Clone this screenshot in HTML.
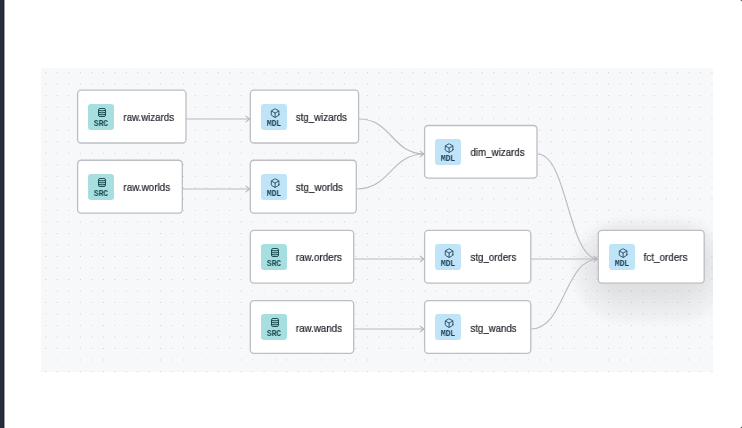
<!DOCTYPE html>
<html><head><meta charset="utf-8">
<style>
html,body{margin:0;padding:0;}
body{width:742px;height:428px;background:#fff;position:relative;overflow:hidden;font-family:"Liberation Sans",sans-serif;}
#bar{position:absolute;left:0;top:0;width:2px;height:428px;background:#262c3b;}
#bar1{position:absolute;left:2px;top:0;width:1px;height:428px;background:#2b303d;}
#bar2{position:absolute;left:3px;top:0;width:1px;height:428px;background:#1c2130;}
#bar3{position:absolute;left:4px;top:0;width:1px;height:428px;background:#9ea1ab;}
#pane{position:absolute;left:41px;top:68px;width:672px;height:304px;background-color:#f7f8fa;
overflow:hidden;}
#shadow{position:absolute;left:557px;top:162px;width:106px;height:53px;border-radius:26px;box-shadow:0 14px 8px 24px rgba(0,0,0,0.04),0 10px 18px 8px rgba(0,0,0,0.06);}
.b{position:absolute;}
.badge{position:absolute;width:26px;height:26px;border-radius:3px;}
.src{background:#a7dfe0;color:#1b4a50;}
.mdl{background:#bfe4f8;color:#1c3d55;}
.ic{position:absolute;}
.badge .t{position:absolute;left:0;width:26px;top:15.3px;text-align:center;font-family:"Liberation Mono",monospace;font-weight:bold;font-size:9.4px;line-height:9px;transform:scaleX(0.84);will-change:transform;}
.lbl{position:absolute;font-size:11px;line-height:13px;color:#20242b;white-space:nowrap;transform-origin:0 50%;transform:scaleX(0.862);will-change:transform;-webkit-text-stroke:0.2px #20242b;}
svg#edges{position:absolute;left:0;top:0;}
</style></head><body>
<div id="bar"></div><div style="position:absolute;left:741px;top:0;width:1px;height:1px;background:#5a5c60"></div><div style="position:absolute;left:741px;top:427px;width:1px;height:1px;background:#5a5c60"></div><div style="position:absolute;left:740px;top:0;width:1px;height:1px;background:#d8d9da"></div><div style="position:absolute;left:741px;top:1px;width:1px;height:1px;background:#d8d9da"></div><div style="position:absolute;left:740px;top:427px;width:1px;height:1px;background:#d8d9da"></div><div style="position:absolute;left:741px;top:426px;width:1px;height:1px;background:#d8d9da"></div><div id="bar1"></div><div id="bar2"></div><div id="bar3"></div>
<div id="pane"><svg id="dots" width="672" height="304" viewBox="41 68 672 304" style="position:absolute;left:0;top:0"><path fill="#fff" fill-opacity="0.8" d="M44.34 72.78a1.5 1.5 0 1 0 3 0a1.5 1.5 0 1 0-3 0M44.34 84.27a1.5 1.5 0 1 0 3 0a1.5 1.5 0 1 0-3 0M44.34 95.75a1.5 1.5 0 1 0 3 0a1.5 1.5 0 1 0-3 0M44.34 107.23a1.5 1.5 0 1 0 3 0a1.5 1.5 0 1 0-3 0M44.34 118.72a1.5 1.5 0 1 0 3 0a1.5 1.5 0 1 0-3 0M44.34 130.20a1.5 1.5 0 1 0 3 0a1.5 1.5 0 1 0-3 0M44.34 141.69a1.5 1.5 0 1 0 3 0a1.5 1.5 0 1 0-3 0M44.34 153.18a1.5 1.5 0 1 0 3 0a1.5 1.5 0 1 0-3 0M44.34 164.66a1.5 1.5 0 1 0 3 0a1.5 1.5 0 1 0-3 0M44.34 176.14a1.5 1.5 0 1 0 3 0a1.5 1.5 0 1 0-3 0M44.34 187.63a1.5 1.5 0 1 0 3 0a1.5 1.5 0 1 0-3 0M44.34 199.12a1.5 1.5 0 1 0 3 0a1.5 1.5 0 1 0-3 0M44.34 210.60a1.5 1.5 0 1 0 3 0a1.5 1.5 0 1 0-3 0M44.34 222.09a1.5 1.5 0 1 0 3 0a1.5 1.5 0 1 0-3 0M44.34 233.57a1.5 1.5 0 1 0 3 0a1.5 1.5 0 1 0-3 0M44.34 245.05a1.5 1.5 0 1 0 3 0a1.5 1.5 0 1 0-3 0M44.34 256.54a1.5 1.5 0 1 0 3 0a1.5 1.5 0 1 0-3 0M44.34 268.02a1.5 1.5 0 1 0 3 0a1.5 1.5 0 1 0-3 0M44.34 279.51a1.5 1.5 0 1 0 3 0a1.5 1.5 0 1 0-3 0M44.34 291.00a1.5 1.5 0 1 0 3 0a1.5 1.5 0 1 0-3 0M44.34 302.48a1.5 1.5 0 1 0 3 0a1.5 1.5 0 1 0-3 0M44.34 313.97a1.5 1.5 0 1 0 3 0a1.5 1.5 0 1 0-3 0M44.34 325.45a1.5 1.5 0 1 0 3 0a1.5 1.5 0 1 0-3 0M44.34 336.93a1.5 1.5 0 1 0 3 0a1.5 1.5 0 1 0-3 0M44.34 348.42a1.5 1.5 0 1 0 3 0a1.5 1.5 0 1 0-3 0M44.34 359.90a1.5 1.5 0 1 0 3 0a1.5 1.5 0 1 0-3 0M44.34 371.39a1.5 1.5 0 1 0 3 0a1.5 1.5 0 1 0-3 0M55.83 72.78a1.5 1.5 0 1 0 3 0a1.5 1.5 0 1 0-3 0M55.83 84.27a1.5 1.5 0 1 0 3 0a1.5 1.5 0 1 0-3 0M55.83 95.75a1.5 1.5 0 1 0 3 0a1.5 1.5 0 1 0-3 0M55.83 107.23a1.5 1.5 0 1 0 3 0a1.5 1.5 0 1 0-3 0M55.83 118.72a1.5 1.5 0 1 0 3 0a1.5 1.5 0 1 0-3 0M55.83 130.20a1.5 1.5 0 1 0 3 0a1.5 1.5 0 1 0-3 0M55.83 141.69a1.5 1.5 0 1 0 3 0a1.5 1.5 0 1 0-3 0M55.83 153.18a1.5 1.5 0 1 0 3 0a1.5 1.5 0 1 0-3 0M55.83 164.66a1.5 1.5 0 1 0 3 0a1.5 1.5 0 1 0-3 0M55.83 176.14a1.5 1.5 0 1 0 3 0a1.5 1.5 0 1 0-3 0M55.83 187.63a1.5 1.5 0 1 0 3 0a1.5 1.5 0 1 0-3 0M55.83 199.12a1.5 1.5 0 1 0 3 0a1.5 1.5 0 1 0-3 0M55.83 210.60a1.5 1.5 0 1 0 3 0a1.5 1.5 0 1 0-3 0M55.83 222.09a1.5 1.5 0 1 0 3 0a1.5 1.5 0 1 0-3 0M55.83 233.57a1.5 1.5 0 1 0 3 0a1.5 1.5 0 1 0-3 0M55.83 245.05a1.5 1.5 0 1 0 3 0a1.5 1.5 0 1 0-3 0M55.83 256.54a1.5 1.5 0 1 0 3 0a1.5 1.5 0 1 0-3 0M55.83 268.02a1.5 1.5 0 1 0 3 0a1.5 1.5 0 1 0-3 0M55.83 279.51a1.5 1.5 0 1 0 3 0a1.5 1.5 0 1 0-3 0M55.83 291.00a1.5 1.5 0 1 0 3 0a1.5 1.5 0 1 0-3 0M55.83 302.48a1.5 1.5 0 1 0 3 0a1.5 1.5 0 1 0-3 0M55.83 313.97a1.5 1.5 0 1 0 3 0a1.5 1.5 0 1 0-3 0M55.83 325.45a1.5 1.5 0 1 0 3 0a1.5 1.5 0 1 0-3 0M55.83 336.93a1.5 1.5 0 1 0 3 0a1.5 1.5 0 1 0-3 0M55.83 348.42a1.5 1.5 0 1 0 3 0a1.5 1.5 0 1 0-3 0M55.83 359.90a1.5 1.5 0 1 0 3 0a1.5 1.5 0 1 0-3 0M55.83 371.39a1.5 1.5 0 1 0 3 0a1.5 1.5 0 1 0-3 0M67.31 72.78a1.5 1.5 0 1 0 3 0a1.5 1.5 0 1 0-3 0M67.31 84.27a1.5 1.5 0 1 0 3 0a1.5 1.5 0 1 0-3 0M67.31 95.75a1.5 1.5 0 1 0 3 0a1.5 1.5 0 1 0-3 0M67.31 107.23a1.5 1.5 0 1 0 3 0a1.5 1.5 0 1 0-3 0M67.31 118.72a1.5 1.5 0 1 0 3 0a1.5 1.5 0 1 0-3 0M67.31 130.20a1.5 1.5 0 1 0 3 0a1.5 1.5 0 1 0-3 0M67.31 141.69a1.5 1.5 0 1 0 3 0a1.5 1.5 0 1 0-3 0M67.31 153.18a1.5 1.5 0 1 0 3 0a1.5 1.5 0 1 0-3 0M67.31 164.66a1.5 1.5 0 1 0 3 0a1.5 1.5 0 1 0-3 0M67.31 176.14a1.5 1.5 0 1 0 3 0a1.5 1.5 0 1 0-3 0M67.31 187.63a1.5 1.5 0 1 0 3 0a1.5 1.5 0 1 0-3 0M67.31 199.12a1.5 1.5 0 1 0 3 0a1.5 1.5 0 1 0-3 0M67.31 210.60a1.5 1.5 0 1 0 3 0a1.5 1.5 0 1 0-3 0M67.31 222.09a1.5 1.5 0 1 0 3 0a1.5 1.5 0 1 0-3 0M67.31 233.57a1.5 1.5 0 1 0 3 0a1.5 1.5 0 1 0-3 0M67.31 245.05a1.5 1.5 0 1 0 3 0a1.5 1.5 0 1 0-3 0M67.31 256.54a1.5 1.5 0 1 0 3 0a1.5 1.5 0 1 0-3 0M67.31 268.02a1.5 1.5 0 1 0 3 0a1.5 1.5 0 1 0-3 0M67.31 279.51a1.5 1.5 0 1 0 3 0a1.5 1.5 0 1 0-3 0M67.31 291.00a1.5 1.5 0 1 0 3 0a1.5 1.5 0 1 0-3 0M67.31 302.48a1.5 1.5 0 1 0 3 0a1.5 1.5 0 1 0-3 0M67.31 313.97a1.5 1.5 0 1 0 3 0a1.5 1.5 0 1 0-3 0M67.31 325.45a1.5 1.5 0 1 0 3 0a1.5 1.5 0 1 0-3 0M67.31 336.93a1.5 1.5 0 1 0 3 0a1.5 1.5 0 1 0-3 0M67.31 348.42a1.5 1.5 0 1 0 3 0a1.5 1.5 0 1 0-3 0M67.31 359.90a1.5 1.5 0 1 0 3 0a1.5 1.5 0 1 0-3 0M67.31 371.39a1.5 1.5 0 1 0 3 0a1.5 1.5 0 1 0-3 0M78.80 72.78a1.5 1.5 0 1 0 3 0a1.5 1.5 0 1 0-3 0M78.80 84.27a1.5 1.5 0 1 0 3 0a1.5 1.5 0 1 0-3 0M78.80 95.75a1.5 1.5 0 1 0 3 0a1.5 1.5 0 1 0-3 0M78.80 107.23a1.5 1.5 0 1 0 3 0a1.5 1.5 0 1 0-3 0M78.80 118.72a1.5 1.5 0 1 0 3 0a1.5 1.5 0 1 0-3 0M78.80 130.20a1.5 1.5 0 1 0 3 0a1.5 1.5 0 1 0-3 0M78.80 141.69a1.5 1.5 0 1 0 3 0a1.5 1.5 0 1 0-3 0M78.80 153.18a1.5 1.5 0 1 0 3 0a1.5 1.5 0 1 0-3 0M78.80 164.66a1.5 1.5 0 1 0 3 0a1.5 1.5 0 1 0-3 0M78.80 176.14a1.5 1.5 0 1 0 3 0a1.5 1.5 0 1 0-3 0M78.80 187.63a1.5 1.5 0 1 0 3 0a1.5 1.5 0 1 0-3 0M78.80 199.12a1.5 1.5 0 1 0 3 0a1.5 1.5 0 1 0-3 0M78.80 210.60a1.5 1.5 0 1 0 3 0a1.5 1.5 0 1 0-3 0M78.80 222.09a1.5 1.5 0 1 0 3 0a1.5 1.5 0 1 0-3 0M78.80 233.57a1.5 1.5 0 1 0 3 0a1.5 1.5 0 1 0-3 0M78.80 245.05a1.5 1.5 0 1 0 3 0a1.5 1.5 0 1 0-3 0M78.80 256.54a1.5 1.5 0 1 0 3 0a1.5 1.5 0 1 0-3 0M78.80 268.02a1.5 1.5 0 1 0 3 0a1.5 1.5 0 1 0-3 0M78.80 279.51a1.5 1.5 0 1 0 3 0a1.5 1.5 0 1 0-3 0M78.80 291.00a1.5 1.5 0 1 0 3 0a1.5 1.5 0 1 0-3 0M78.80 302.48a1.5 1.5 0 1 0 3 0a1.5 1.5 0 1 0-3 0M78.80 313.97a1.5 1.5 0 1 0 3 0a1.5 1.5 0 1 0-3 0M78.80 325.45a1.5 1.5 0 1 0 3 0a1.5 1.5 0 1 0-3 0M78.80 336.93a1.5 1.5 0 1 0 3 0a1.5 1.5 0 1 0-3 0M78.80 348.42a1.5 1.5 0 1 0 3 0a1.5 1.5 0 1 0-3 0M78.80 359.90a1.5 1.5 0 1 0 3 0a1.5 1.5 0 1 0-3 0M78.80 371.39a1.5 1.5 0 1 0 3 0a1.5 1.5 0 1 0-3 0M90.28 72.78a1.5 1.5 0 1 0 3 0a1.5 1.5 0 1 0-3 0M90.28 84.27a1.5 1.5 0 1 0 3 0a1.5 1.5 0 1 0-3 0M90.28 95.75a1.5 1.5 0 1 0 3 0a1.5 1.5 0 1 0-3 0M90.28 107.23a1.5 1.5 0 1 0 3 0a1.5 1.5 0 1 0-3 0M90.28 118.72a1.5 1.5 0 1 0 3 0a1.5 1.5 0 1 0-3 0M90.28 130.20a1.5 1.5 0 1 0 3 0a1.5 1.5 0 1 0-3 0M90.28 141.69a1.5 1.5 0 1 0 3 0a1.5 1.5 0 1 0-3 0M90.28 153.18a1.5 1.5 0 1 0 3 0a1.5 1.5 0 1 0-3 0M90.28 164.66a1.5 1.5 0 1 0 3 0a1.5 1.5 0 1 0-3 0M90.28 176.14a1.5 1.5 0 1 0 3 0a1.5 1.5 0 1 0-3 0M90.28 187.63a1.5 1.5 0 1 0 3 0a1.5 1.5 0 1 0-3 0M90.28 199.12a1.5 1.5 0 1 0 3 0a1.5 1.5 0 1 0-3 0M90.28 210.60a1.5 1.5 0 1 0 3 0a1.5 1.5 0 1 0-3 0M90.28 222.09a1.5 1.5 0 1 0 3 0a1.5 1.5 0 1 0-3 0M90.28 233.57a1.5 1.5 0 1 0 3 0a1.5 1.5 0 1 0-3 0M90.28 245.05a1.5 1.5 0 1 0 3 0a1.5 1.5 0 1 0-3 0M90.28 256.54a1.5 1.5 0 1 0 3 0a1.5 1.5 0 1 0-3 0M90.28 268.02a1.5 1.5 0 1 0 3 0a1.5 1.5 0 1 0-3 0M90.28 279.51a1.5 1.5 0 1 0 3 0a1.5 1.5 0 1 0-3 0M90.28 291.00a1.5 1.5 0 1 0 3 0a1.5 1.5 0 1 0-3 0M90.28 302.48a1.5 1.5 0 1 0 3 0a1.5 1.5 0 1 0-3 0M90.28 313.97a1.5 1.5 0 1 0 3 0a1.5 1.5 0 1 0-3 0M90.28 325.45a1.5 1.5 0 1 0 3 0a1.5 1.5 0 1 0-3 0M90.28 336.93a1.5 1.5 0 1 0 3 0a1.5 1.5 0 1 0-3 0M90.28 348.42a1.5 1.5 0 1 0 3 0a1.5 1.5 0 1 0-3 0M90.28 359.90a1.5 1.5 0 1 0 3 0a1.5 1.5 0 1 0-3 0M90.28 371.39a1.5 1.5 0 1 0 3 0a1.5 1.5 0 1 0-3 0M101.77 72.78a1.5 1.5 0 1 0 3 0a1.5 1.5 0 1 0-3 0M101.77 84.27a1.5 1.5 0 1 0 3 0a1.5 1.5 0 1 0-3 0M101.77 95.75a1.5 1.5 0 1 0 3 0a1.5 1.5 0 1 0-3 0M101.77 107.23a1.5 1.5 0 1 0 3 0a1.5 1.5 0 1 0-3 0M101.77 118.72a1.5 1.5 0 1 0 3 0a1.5 1.5 0 1 0-3 0M101.77 130.20a1.5 1.5 0 1 0 3 0a1.5 1.5 0 1 0-3 0M101.77 141.69a1.5 1.5 0 1 0 3 0a1.5 1.5 0 1 0-3 0M101.77 153.18a1.5 1.5 0 1 0 3 0a1.5 1.5 0 1 0-3 0M101.77 164.66a1.5 1.5 0 1 0 3 0a1.5 1.5 0 1 0-3 0M101.77 176.14a1.5 1.5 0 1 0 3 0a1.5 1.5 0 1 0-3 0M101.77 187.63a1.5 1.5 0 1 0 3 0a1.5 1.5 0 1 0-3 0M101.77 199.12a1.5 1.5 0 1 0 3 0a1.5 1.5 0 1 0-3 0M101.77 210.60a1.5 1.5 0 1 0 3 0a1.5 1.5 0 1 0-3 0M101.77 222.09a1.5 1.5 0 1 0 3 0a1.5 1.5 0 1 0-3 0M101.77 233.57a1.5 1.5 0 1 0 3 0a1.5 1.5 0 1 0-3 0M101.77 245.05a1.5 1.5 0 1 0 3 0a1.5 1.5 0 1 0-3 0M101.77 256.54a1.5 1.5 0 1 0 3 0a1.5 1.5 0 1 0-3 0M101.77 268.02a1.5 1.5 0 1 0 3 0a1.5 1.5 0 1 0-3 0M101.77 279.51a1.5 1.5 0 1 0 3 0a1.5 1.5 0 1 0-3 0M101.77 291.00a1.5 1.5 0 1 0 3 0a1.5 1.5 0 1 0-3 0M101.77 302.48a1.5 1.5 0 1 0 3 0a1.5 1.5 0 1 0-3 0M101.77 313.97a1.5 1.5 0 1 0 3 0a1.5 1.5 0 1 0-3 0M101.77 325.45a1.5 1.5 0 1 0 3 0a1.5 1.5 0 1 0-3 0M101.77 336.93a1.5 1.5 0 1 0 3 0a1.5 1.5 0 1 0-3 0M101.77 348.42a1.5 1.5 0 1 0 3 0a1.5 1.5 0 1 0-3 0M101.77 359.90a1.5 1.5 0 1 0 3 0a1.5 1.5 0 1 0-3 0M101.77 371.39a1.5 1.5 0 1 0 3 0a1.5 1.5 0 1 0-3 0M113.25 72.78a1.5 1.5 0 1 0 3 0a1.5 1.5 0 1 0-3 0M113.25 84.27a1.5 1.5 0 1 0 3 0a1.5 1.5 0 1 0-3 0M113.25 95.75a1.5 1.5 0 1 0 3 0a1.5 1.5 0 1 0-3 0M113.25 107.23a1.5 1.5 0 1 0 3 0a1.5 1.5 0 1 0-3 0M113.25 118.72a1.5 1.5 0 1 0 3 0a1.5 1.5 0 1 0-3 0M113.25 130.20a1.5 1.5 0 1 0 3 0a1.5 1.5 0 1 0-3 0M113.25 141.69a1.5 1.5 0 1 0 3 0a1.5 1.5 0 1 0-3 0M113.25 153.18a1.5 1.5 0 1 0 3 0a1.5 1.5 0 1 0-3 0M113.25 164.66a1.5 1.5 0 1 0 3 0a1.5 1.5 0 1 0-3 0M113.25 176.14a1.5 1.5 0 1 0 3 0a1.5 1.5 0 1 0-3 0M113.25 187.63a1.5 1.5 0 1 0 3 0a1.5 1.5 0 1 0-3 0M113.25 199.12a1.5 1.5 0 1 0 3 0a1.5 1.5 0 1 0-3 0M113.25 210.60a1.5 1.5 0 1 0 3 0a1.5 1.5 0 1 0-3 0M113.25 222.09a1.5 1.5 0 1 0 3 0a1.5 1.5 0 1 0-3 0M113.25 233.57a1.5 1.5 0 1 0 3 0a1.5 1.5 0 1 0-3 0M113.25 245.05a1.5 1.5 0 1 0 3 0a1.5 1.5 0 1 0-3 0M113.25 256.54a1.5 1.5 0 1 0 3 0a1.5 1.5 0 1 0-3 0M113.25 268.02a1.5 1.5 0 1 0 3 0a1.5 1.5 0 1 0-3 0M113.25 279.51a1.5 1.5 0 1 0 3 0a1.5 1.5 0 1 0-3 0M113.25 291.00a1.5 1.5 0 1 0 3 0a1.5 1.5 0 1 0-3 0M113.25 302.48a1.5 1.5 0 1 0 3 0a1.5 1.5 0 1 0-3 0M113.25 313.97a1.5 1.5 0 1 0 3 0a1.5 1.5 0 1 0-3 0M113.25 325.45a1.5 1.5 0 1 0 3 0a1.5 1.5 0 1 0-3 0M113.25 336.93a1.5 1.5 0 1 0 3 0a1.5 1.5 0 1 0-3 0M113.25 348.42a1.5 1.5 0 1 0 3 0a1.5 1.5 0 1 0-3 0M113.25 359.90a1.5 1.5 0 1 0 3 0a1.5 1.5 0 1 0-3 0M113.25 371.39a1.5 1.5 0 1 0 3 0a1.5 1.5 0 1 0-3 0M124.73 72.78a1.5 1.5 0 1 0 3 0a1.5 1.5 0 1 0-3 0M124.73 84.27a1.5 1.5 0 1 0 3 0a1.5 1.5 0 1 0-3 0M124.73 95.75a1.5 1.5 0 1 0 3 0a1.5 1.5 0 1 0-3 0M124.73 107.23a1.5 1.5 0 1 0 3 0a1.5 1.5 0 1 0-3 0M124.73 118.72a1.5 1.5 0 1 0 3 0a1.5 1.5 0 1 0-3 0M124.73 130.20a1.5 1.5 0 1 0 3 0a1.5 1.5 0 1 0-3 0M124.73 141.69a1.5 1.5 0 1 0 3 0a1.5 1.5 0 1 0-3 0M124.73 153.18a1.5 1.5 0 1 0 3 0a1.5 1.5 0 1 0-3 0M124.73 164.66a1.5 1.5 0 1 0 3 0a1.5 1.5 0 1 0-3 0M124.73 176.14a1.5 1.5 0 1 0 3 0a1.5 1.5 0 1 0-3 0M124.73 187.63a1.5 1.5 0 1 0 3 0a1.5 1.5 0 1 0-3 0M124.73 199.12a1.5 1.5 0 1 0 3 0a1.5 1.5 0 1 0-3 0M124.73 210.60a1.5 1.5 0 1 0 3 0a1.5 1.5 0 1 0-3 0M124.73 222.09a1.5 1.5 0 1 0 3 0a1.5 1.5 0 1 0-3 0M124.73 233.57a1.5 1.5 0 1 0 3 0a1.5 1.5 0 1 0-3 0M124.73 245.05a1.5 1.5 0 1 0 3 0a1.5 1.5 0 1 0-3 0M124.73 256.54a1.5 1.5 0 1 0 3 0a1.5 1.5 0 1 0-3 0M124.73 268.02a1.5 1.5 0 1 0 3 0a1.5 1.5 0 1 0-3 0M124.73 279.51a1.5 1.5 0 1 0 3 0a1.5 1.5 0 1 0-3 0M124.73 291.00a1.5 1.5 0 1 0 3 0a1.5 1.5 0 1 0-3 0M124.73 302.48a1.5 1.5 0 1 0 3 0a1.5 1.5 0 1 0-3 0M124.73 313.97a1.5 1.5 0 1 0 3 0a1.5 1.5 0 1 0-3 0M124.73 325.45a1.5 1.5 0 1 0 3 0a1.5 1.5 0 1 0-3 0M124.73 336.93a1.5 1.5 0 1 0 3 0a1.5 1.5 0 1 0-3 0M124.73 348.42a1.5 1.5 0 1 0 3 0a1.5 1.5 0 1 0-3 0M124.73 359.90a1.5 1.5 0 1 0 3 0a1.5 1.5 0 1 0-3 0M124.73 371.39a1.5 1.5 0 1 0 3 0a1.5 1.5 0 1 0-3 0M136.22 72.78a1.5 1.5 0 1 0 3 0a1.5 1.5 0 1 0-3 0M136.22 84.27a1.5 1.5 0 1 0 3 0a1.5 1.5 0 1 0-3 0M136.22 95.75a1.5 1.5 0 1 0 3 0a1.5 1.5 0 1 0-3 0M136.22 107.23a1.5 1.5 0 1 0 3 0a1.5 1.5 0 1 0-3 0M136.22 118.72a1.5 1.5 0 1 0 3 0a1.5 1.5 0 1 0-3 0M136.22 130.20a1.5 1.5 0 1 0 3 0a1.5 1.5 0 1 0-3 0M136.22 141.69a1.5 1.5 0 1 0 3 0a1.5 1.5 0 1 0-3 0M136.22 153.18a1.5 1.5 0 1 0 3 0a1.5 1.5 0 1 0-3 0M136.22 164.66a1.5 1.5 0 1 0 3 0a1.5 1.5 0 1 0-3 0M136.22 176.14a1.5 1.5 0 1 0 3 0a1.5 1.5 0 1 0-3 0M136.22 187.63a1.5 1.5 0 1 0 3 0a1.5 1.5 0 1 0-3 0M136.22 199.12a1.5 1.5 0 1 0 3 0a1.5 1.5 0 1 0-3 0M136.22 210.60a1.5 1.5 0 1 0 3 0a1.5 1.5 0 1 0-3 0M136.22 222.09a1.5 1.5 0 1 0 3 0a1.5 1.5 0 1 0-3 0M136.22 233.57a1.5 1.5 0 1 0 3 0a1.5 1.5 0 1 0-3 0M136.22 245.05a1.5 1.5 0 1 0 3 0a1.5 1.5 0 1 0-3 0M136.22 256.54a1.5 1.5 0 1 0 3 0a1.5 1.5 0 1 0-3 0M136.22 268.02a1.5 1.5 0 1 0 3 0a1.5 1.5 0 1 0-3 0M136.22 279.51a1.5 1.5 0 1 0 3 0a1.5 1.5 0 1 0-3 0M136.22 291.00a1.5 1.5 0 1 0 3 0a1.5 1.5 0 1 0-3 0M136.22 302.48a1.5 1.5 0 1 0 3 0a1.5 1.5 0 1 0-3 0M136.22 313.97a1.5 1.5 0 1 0 3 0a1.5 1.5 0 1 0-3 0M136.22 325.45a1.5 1.5 0 1 0 3 0a1.5 1.5 0 1 0-3 0M136.22 336.93a1.5 1.5 0 1 0 3 0a1.5 1.5 0 1 0-3 0M136.22 348.42a1.5 1.5 0 1 0 3 0a1.5 1.5 0 1 0-3 0M136.22 359.90a1.5 1.5 0 1 0 3 0a1.5 1.5 0 1 0-3 0M136.22 371.39a1.5 1.5 0 1 0 3 0a1.5 1.5 0 1 0-3 0M147.70 72.78a1.5 1.5 0 1 0 3 0a1.5 1.5 0 1 0-3 0M147.70 84.27a1.5 1.5 0 1 0 3 0a1.5 1.5 0 1 0-3 0M147.70 95.75a1.5 1.5 0 1 0 3 0a1.5 1.5 0 1 0-3 0M147.70 107.23a1.5 1.5 0 1 0 3 0a1.5 1.5 0 1 0-3 0M147.70 118.72a1.5 1.5 0 1 0 3 0a1.5 1.5 0 1 0-3 0M147.70 130.20a1.5 1.5 0 1 0 3 0a1.5 1.5 0 1 0-3 0M147.70 141.69a1.5 1.5 0 1 0 3 0a1.5 1.5 0 1 0-3 0M147.70 153.18a1.5 1.5 0 1 0 3 0a1.5 1.5 0 1 0-3 0M147.70 164.66a1.5 1.5 0 1 0 3 0a1.5 1.5 0 1 0-3 0M147.70 176.14a1.5 1.5 0 1 0 3 0a1.5 1.5 0 1 0-3 0M147.70 187.63a1.5 1.5 0 1 0 3 0a1.5 1.5 0 1 0-3 0M147.70 199.12a1.5 1.5 0 1 0 3 0a1.5 1.5 0 1 0-3 0M147.70 210.60a1.5 1.5 0 1 0 3 0a1.5 1.5 0 1 0-3 0M147.70 222.09a1.5 1.5 0 1 0 3 0a1.5 1.5 0 1 0-3 0M147.70 233.57a1.5 1.5 0 1 0 3 0a1.5 1.5 0 1 0-3 0M147.70 245.05a1.5 1.5 0 1 0 3 0a1.5 1.5 0 1 0-3 0M147.70 256.54a1.5 1.5 0 1 0 3 0a1.5 1.5 0 1 0-3 0M147.70 268.02a1.5 1.5 0 1 0 3 0a1.5 1.5 0 1 0-3 0M147.70 279.51a1.5 1.5 0 1 0 3 0a1.5 1.5 0 1 0-3 0M147.70 291.00a1.5 1.5 0 1 0 3 0a1.5 1.5 0 1 0-3 0M147.70 302.48a1.5 1.5 0 1 0 3 0a1.5 1.5 0 1 0-3 0M147.70 313.97a1.5 1.5 0 1 0 3 0a1.5 1.5 0 1 0-3 0M147.70 325.45a1.5 1.5 0 1 0 3 0a1.5 1.5 0 1 0-3 0M147.70 336.93a1.5 1.5 0 1 0 3 0a1.5 1.5 0 1 0-3 0M147.70 348.42a1.5 1.5 0 1 0 3 0a1.5 1.5 0 1 0-3 0M147.70 359.90a1.5 1.5 0 1 0 3 0a1.5 1.5 0 1 0-3 0M147.70 371.39a1.5 1.5 0 1 0 3 0a1.5 1.5 0 1 0-3 0M159.19 72.78a1.5 1.5 0 1 0 3 0a1.5 1.5 0 1 0-3 0M159.19 84.27a1.5 1.5 0 1 0 3 0a1.5 1.5 0 1 0-3 0M159.19 95.75a1.5 1.5 0 1 0 3 0a1.5 1.5 0 1 0-3 0M159.19 107.23a1.5 1.5 0 1 0 3 0a1.5 1.5 0 1 0-3 0M159.19 118.72a1.5 1.5 0 1 0 3 0a1.5 1.5 0 1 0-3 0M159.19 130.20a1.5 1.5 0 1 0 3 0a1.5 1.5 0 1 0-3 0M159.19 141.69a1.5 1.5 0 1 0 3 0a1.5 1.5 0 1 0-3 0M159.19 153.18a1.5 1.5 0 1 0 3 0a1.5 1.5 0 1 0-3 0M159.19 164.66a1.5 1.5 0 1 0 3 0a1.5 1.5 0 1 0-3 0M159.19 176.14a1.5 1.5 0 1 0 3 0a1.5 1.5 0 1 0-3 0M159.19 187.63a1.5 1.5 0 1 0 3 0a1.5 1.5 0 1 0-3 0M159.19 199.12a1.5 1.5 0 1 0 3 0a1.5 1.5 0 1 0-3 0M159.19 210.60a1.5 1.5 0 1 0 3 0a1.5 1.5 0 1 0-3 0M159.19 222.09a1.5 1.5 0 1 0 3 0a1.5 1.5 0 1 0-3 0M159.19 233.57a1.5 1.5 0 1 0 3 0a1.5 1.5 0 1 0-3 0M159.19 245.05a1.5 1.5 0 1 0 3 0a1.5 1.5 0 1 0-3 0M159.19 256.54a1.5 1.5 0 1 0 3 0a1.5 1.5 0 1 0-3 0M159.19 268.02a1.5 1.5 0 1 0 3 0a1.5 1.5 0 1 0-3 0M159.19 279.51a1.5 1.5 0 1 0 3 0a1.5 1.5 0 1 0-3 0M159.19 291.00a1.5 1.5 0 1 0 3 0a1.5 1.5 0 1 0-3 0M159.19 302.48a1.5 1.5 0 1 0 3 0a1.5 1.5 0 1 0-3 0M159.19 313.97a1.5 1.5 0 1 0 3 0a1.5 1.5 0 1 0-3 0M159.19 325.45a1.5 1.5 0 1 0 3 0a1.5 1.5 0 1 0-3 0M159.19 336.93a1.5 1.5 0 1 0 3 0a1.5 1.5 0 1 0-3 0M159.19 348.42a1.5 1.5 0 1 0 3 0a1.5 1.5 0 1 0-3 0M159.19 359.90a1.5 1.5 0 1 0 3 0a1.5 1.5 0 1 0-3 0M159.19 371.39a1.5 1.5 0 1 0 3 0a1.5 1.5 0 1 0-3 0M170.68 72.78a1.5 1.5 0 1 0 3 0a1.5 1.5 0 1 0-3 0M170.68 84.27a1.5 1.5 0 1 0 3 0a1.5 1.5 0 1 0-3 0M170.68 95.75a1.5 1.5 0 1 0 3 0a1.5 1.5 0 1 0-3 0M170.68 107.23a1.5 1.5 0 1 0 3 0a1.5 1.5 0 1 0-3 0M170.68 118.72a1.5 1.5 0 1 0 3 0a1.5 1.5 0 1 0-3 0M170.68 130.20a1.5 1.5 0 1 0 3 0a1.5 1.5 0 1 0-3 0M170.68 141.69a1.5 1.5 0 1 0 3 0a1.5 1.5 0 1 0-3 0M170.68 153.18a1.5 1.5 0 1 0 3 0a1.5 1.5 0 1 0-3 0M170.68 164.66a1.5 1.5 0 1 0 3 0a1.5 1.5 0 1 0-3 0M170.68 176.14a1.5 1.5 0 1 0 3 0a1.5 1.5 0 1 0-3 0M170.68 187.63a1.5 1.5 0 1 0 3 0a1.5 1.5 0 1 0-3 0M170.68 199.12a1.5 1.5 0 1 0 3 0a1.5 1.5 0 1 0-3 0M170.68 210.60a1.5 1.5 0 1 0 3 0a1.5 1.5 0 1 0-3 0M170.68 222.09a1.5 1.5 0 1 0 3 0a1.5 1.5 0 1 0-3 0M170.68 233.57a1.5 1.5 0 1 0 3 0a1.5 1.5 0 1 0-3 0M170.68 245.05a1.5 1.5 0 1 0 3 0a1.5 1.5 0 1 0-3 0M170.68 256.54a1.5 1.5 0 1 0 3 0a1.5 1.5 0 1 0-3 0M170.68 268.02a1.5 1.5 0 1 0 3 0a1.5 1.5 0 1 0-3 0M170.68 279.51a1.5 1.5 0 1 0 3 0a1.5 1.5 0 1 0-3 0M170.68 291.00a1.5 1.5 0 1 0 3 0a1.5 1.5 0 1 0-3 0M170.68 302.48a1.5 1.5 0 1 0 3 0a1.5 1.5 0 1 0-3 0M170.68 313.97a1.5 1.5 0 1 0 3 0a1.5 1.5 0 1 0-3 0M170.68 325.45a1.5 1.5 0 1 0 3 0a1.5 1.5 0 1 0-3 0M170.68 336.93a1.5 1.5 0 1 0 3 0a1.5 1.5 0 1 0-3 0M170.68 348.42a1.5 1.5 0 1 0 3 0a1.5 1.5 0 1 0-3 0M170.68 359.90a1.5 1.5 0 1 0 3 0a1.5 1.5 0 1 0-3 0M170.68 371.39a1.5 1.5 0 1 0 3 0a1.5 1.5 0 1 0-3 0M182.16 72.78a1.5 1.5 0 1 0 3 0a1.5 1.5 0 1 0-3 0M182.16 84.27a1.5 1.5 0 1 0 3 0a1.5 1.5 0 1 0-3 0M182.16 95.75a1.5 1.5 0 1 0 3 0a1.5 1.5 0 1 0-3 0M182.16 107.23a1.5 1.5 0 1 0 3 0a1.5 1.5 0 1 0-3 0M182.16 118.72a1.5 1.5 0 1 0 3 0a1.5 1.5 0 1 0-3 0M182.16 130.20a1.5 1.5 0 1 0 3 0a1.5 1.5 0 1 0-3 0M182.16 141.69a1.5 1.5 0 1 0 3 0a1.5 1.5 0 1 0-3 0M182.16 153.18a1.5 1.5 0 1 0 3 0a1.5 1.5 0 1 0-3 0M182.16 164.66a1.5 1.5 0 1 0 3 0a1.5 1.5 0 1 0-3 0M182.16 176.14a1.5 1.5 0 1 0 3 0a1.5 1.5 0 1 0-3 0M182.16 187.63a1.5 1.5 0 1 0 3 0a1.5 1.5 0 1 0-3 0M182.16 199.12a1.5 1.5 0 1 0 3 0a1.5 1.5 0 1 0-3 0M182.16 210.60a1.5 1.5 0 1 0 3 0a1.5 1.5 0 1 0-3 0M182.16 222.09a1.5 1.5 0 1 0 3 0a1.5 1.5 0 1 0-3 0M182.16 233.57a1.5 1.5 0 1 0 3 0a1.5 1.5 0 1 0-3 0M182.16 245.05a1.5 1.5 0 1 0 3 0a1.5 1.5 0 1 0-3 0M182.16 256.54a1.5 1.5 0 1 0 3 0a1.5 1.5 0 1 0-3 0M182.16 268.02a1.5 1.5 0 1 0 3 0a1.5 1.5 0 1 0-3 0M182.16 279.51a1.5 1.5 0 1 0 3 0a1.5 1.5 0 1 0-3 0M182.16 291.00a1.5 1.5 0 1 0 3 0a1.5 1.5 0 1 0-3 0M182.16 302.48a1.5 1.5 0 1 0 3 0a1.5 1.5 0 1 0-3 0M182.16 313.97a1.5 1.5 0 1 0 3 0a1.5 1.5 0 1 0-3 0M182.16 325.45a1.5 1.5 0 1 0 3 0a1.5 1.5 0 1 0-3 0M182.16 336.93a1.5 1.5 0 1 0 3 0a1.5 1.5 0 1 0-3 0M182.16 348.42a1.5 1.5 0 1 0 3 0a1.5 1.5 0 1 0-3 0M182.16 359.90a1.5 1.5 0 1 0 3 0a1.5 1.5 0 1 0-3 0M182.16 371.39a1.5 1.5 0 1 0 3 0a1.5 1.5 0 1 0-3 0M193.65 72.78a1.5 1.5 0 1 0 3 0a1.5 1.5 0 1 0-3 0M193.65 84.27a1.5 1.5 0 1 0 3 0a1.5 1.5 0 1 0-3 0M193.65 95.75a1.5 1.5 0 1 0 3 0a1.5 1.5 0 1 0-3 0M193.65 107.23a1.5 1.5 0 1 0 3 0a1.5 1.5 0 1 0-3 0M193.65 118.72a1.5 1.5 0 1 0 3 0a1.5 1.5 0 1 0-3 0M193.65 130.20a1.5 1.5 0 1 0 3 0a1.5 1.5 0 1 0-3 0M193.65 141.69a1.5 1.5 0 1 0 3 0a1.5 1.5 0 1 0-3 0M193.65 153.18a1.5 1.5 0 1 0 3 0a1.5 1.5 0 1 0-3 0M193.65 164.66a1.5 1.5 0 1 0 3 0a1.5 1.5 0 1 0-3 0M193.65 176.14a1.5 1.5 0 1 0 3 0a1.5 1.5 0 1 0-3 0M193.65 187.63a1.5 1.5 0 1 0 3 0a1.5 1.5 0 1 0-3 0M193.65 199.12a1.5 1.5 0 1 0 3 0a1.5 1.5 0 1 0-3 0M193.65 210.60a1.5 1.5 0 1 0 3 0a1.5 1.5 0 1 0-3 0M193.65 222.09a1.5 1.5 0 1 0 3 0a1.5 1.5 0 1 0-3 0M193.65 233.57a1.5 1.5 0 1 0 3 0a1.5 1.5 0 1 0-3 0M193.65 245.05a1.5 1.5 0 1 0 3 0a1.5 1.5 0 1 0-3 0M193.65 256.54a1.5 1.5 0 1 0 3 0a1.5 1.5 0 1 0-3 0M193.65 268.02a1.5 1.5 0 1 0 3 0a1.5 1.5 0 1 0-3 0M193.65 279.51a1.5 1.5 0 1 0 3 0a1.5 1.5 0 1 0-3 0M193.65 291.00a1.5 1.5 0 1 0 3 0a1.5 1.5 0 1 0-3 0M193.65 302.48a1.5 1.5 0 1 0 3 0a1.5 1.5 0 1 0-3 0M193.65 313.97a1.5 1.5 0 1 0 3 0a1.5 1.5 0 1 0-3 0M193.65 325.45a1.5 1.5 0 1 0 3 0a1.5 1.5 0 1 0-3 0M193.65 336.93a1.5 1.5 0 1 0 3 0a1.5 1.5 0 1 0-3 0M193.65 348.42a1.5 1.5 0 1 0 3 0a1.5 1.5 0 1 0-3 0M193.65 359.90a1.5 1.5 0 1 0 3 0a1.5 1.5 0 1 0-3 0M193.65 371.39a1.5 1.5 0 1 0 3 0a1.5 1.5 0 1 0-3 0M205.13 72.78a1.5 1.5 0 1 0 3 0a1.5 1.5 0 1 0-3 0M205.13 84.27a1.5 1.5 0 1 0 3 0a1.5 1.5 0 1 0-3 0M205.13 95.75a1.5 1.5 0 1 0 3 0a1.5 1.5 0 1 0-3 0M205.13 107.23a1.5 1.5 0 1 0 3 0a1.5 1.5 0 1 0-3 0M205.13 118.72a1.5 1.5 0 1 0 3 0a1.5 1.5 0 1 0-3 0M205.13 130.20a1.5 1.5 0 1 0 3 0a1.5 1.5 0 1 0-3 0M205.13 141.69a1.5 1.5 0 1 0 3 0a1.5 1.5 0 1 0-3 0M205.13 153.18a1.5 1.5 0 1 0 3 0a1.5 1.5 0 1 0-3 0M205.13 164.66a1.5 1.5 0 1 0 3 0a1.5 1.5 0 1 0-3 0M205.13 176.14a1.5 1.5 0 1 0 3 0a1.5 1.5 0 1 0-3 0M205.13 187.63a1.5 1.5 0 1 0 3 0a1.5 1.5 0 1 0-3 0M205.13 199.12a1.5 1.5 0 1 0 3 0a1.5 1.5 0 1 0-3 0M205.13 210.60a1.5 1.5 0 1 0 3 0a1.5 1.5 0 1 0-3 0M205.13 222.09a1.5 1.5 0 1 0 3 0a1.5 1.5 0 1 0-3 0M205.13 233.57a1.5 1.5 0 1 0 3 0a1.5 1.5 0 1 0-3 0M205.13 245.05a1.5 1.5 0 1 0 3 0a1.5 1.5 0 1 0-3 0M205.13 256.54a1.5 1.5 0 1 0 3 0a1.5 1.5 0 1 0-3 0M205.13 268.02a1.5 1.5 0 1 0 3 0a1.5 1.5 0 1 0-3 0M205.13 279.51a1.5 1.5 0 1 0 3 0a1.5 1.5 0 1 0-3 0M205.13 291.00a1.5 1.5 0 1 0 3 0a1.5 1.5 0 1 0-3 0M205.13 302.48a1.5 1.5 0 1 0 3 0a1.5 1.5 0 1 0-3 0M205.13 313.97a1.5 1.5 0 1 0 3 0a1.5 1.5 0 1 0-3 0M205.13 325.45a1.5 1.5 0 1 0 3 0a1.5 1.5 0 1 0-3 0M205.13 336.93a1.5 1.5 0 1 0 3 0a1.5 1.5 0 1 0-3 0M205.13 348.42a1.5 1.5 0 1 0 3 0a1.5 1.5 0 1 0-3 0M205.13 359.90a1.5 1.5 0 1 0 3 0a1.5 1.5 0 1 0-3 0M205.13 371.39a1.5 1.5 0 1 0 3 0a1.5 1.5 0 1 0-3 0M216.61 72.78a1.5 1.5 0 1 0 3 0a1.5 1.5 0 1 0-3 0M216.61 84.27a1.5 1.5 0 1 0 3 0a1.5 1.5 0 1 0-3 0M216.61 95.75a1.5 1.5 0 1 0 3 0a1.5 1.5 0 1 0-3 0M216.61 107.23a1.5 1.5 0 1 0 3 0a1.5 1.5 0 1 0-3 0M216.61 118.72a1.5 1.5 0 1 0 3 0a1.5 1.5 0 1 0-3 0M216.61 130.20a1.5 1.5 0 1 0 3 0a1.5 1.5 0 1 0-3 0M216.61 141.69a1.5 1.5 0 1 0 3 0a1.5 1.5 0 1 0-3 0M216.61 153.18a1.5 1.5 0 1 0 3 0a1.5 1.5 0 1 0-3 0M216.61 164.66a1.5 1.5 0 1 0 3 0a1.5 1.5 0 1 0-3 0M216.61 176.14a1.5 1.5 0 1 0 3 0a1.5 1.5 0 1 0-3 0M216.61 187.63a1.5 1.5 0 1 0 3 0a1.5 1.5 0 1 0-3 0M216.61 199.12a1.5 1.5 0 1 0 3 0a1.5 1.5 0 1 0-3 0M216.61 210.60a1.5 1.5 0 1 0 3 0a1.5 1.5 0 1 0-3 0M216.61 222.09a1.5 1.5 0 1 0 3 0a1.5 1.5 0 1 0-3 0M216.61 233.57a1.5 1.5 0 1 0 3 0a1.5 1.5 0 1 0-3 0M216.61 245.05a1.5 1.5 0 1 0 3 0a1.5 1.5 0 1 0-3 0M216.61 256.54a1.5 1.5 0 1 0 3 0a1.5 1.5 0 1 0-3 0M216.61 268.02a1.5 1.5 0 1 0 3 0a1.5 1.5 0 1 0-3 0M216.61 279.51a1.5 1.5 0 1 0 3 0a1.5 1.5 0 1 0-3 0M216.61 291.00a1.5 1.5 0 1 0 3 0a1.5 1.5 0 1 0-3 0M216.61 302.48a1.5 1.5 0 1 0 3 0a1.5 1.5 0 1 0-3 0M216.61 313.97a1.5 1.5 0 1 0 3 0a1.5 1.5 0 1 0-3 0M216.61 325.45a1.5 1.5 0 1 0 3 0a1.5 1.5 0 1 0-3 0M216.61 336.93a1.5 1.5 0 1 0 3 0a1.5 1.5 0 1 0-3 0M216.61 348.42a1.5 1.5 0 1 0 3 0a1.5 1.5 0 1 0-3 0M216.61 359.90a1.5 1.5 0 1 0 3 0a1.5 1.5 0 1 0-3 0M216.61 371.39a1.5 1.5 0 1 0 3 0a1.5 1.5 0 1 0-3 0M228.10 72.78a1.5 1.5 0 1 0 3 0a1.5 1.5 0 1 0-3 0M228.10 84.27a1.5 1.5 0 1 0 3 0a1.5 1.5 0 1 0-3 0M228.10 95.75a1.5 1.5 0 1 0 3 0a1.5 1.5 0 1 0-3 0M228.10 107.23a1.5 1.5 0 1 0 3 0a1.5 1.5 0 1 0-3 0M228.10 118.72a1.5 1.5 0 1 0 3 0a1.5 1.5 0 1 0-3 0M228.10 130.20a1.5 1.5 0 1 0 3 0a1.5 1.5 0 1 0-3 0M228.10 141.69a1.5 1.5 0 1 0 3 0a1.5 1.5 0 1 0-3 0M228.10 153.18a1.5 1.5 0 1 0 3 0a1.5 1.5 0 1 0-3 0M228.10 164.66a1.5 1.5 0 1 0 3 0a1.5 1.5 0 1 0-3 0M228.10 176.14a1.5 1.5 0 1 0 3 0a1.5 1.5 0 1 0-3 0M228.10 187.63a1.5 1.5 0 1 0 3 0a1.5 1.5 0 1 0-3 0M228.10 199.12a1.5 1.5 0 1 0 3 0a1.5 1.5 0 1 0-3 0M228.10 210.60a1.5 1.5 0 1 0 3 0a1.5 1.5 0 1 0-3 0M228.10 222.09a1.5 1.5 0 1 0 3 0a1.5 1.5 0 1 0-3 0M228.10 233.57a1.5 1.5 0 1 0 3 0a1.5 1.5 0 1 0-3 0M228.10 245.05a1.5 1.5 0 1 0 3 0a1.5 1.5 0 1 0-3 0M228.10 256.54a1.5 1.5 0 1 0 3 0a1.5 1.5 0 1 0-3 0M228.10 268.02a1.5 1.5 0 1 0 3 0a1.5 1.5 0 1 0-3 0M228.10 279.51a1.5 1.5 0 1 0 3 0a1.5 1.5 0 1 0-3 0M228.10 291.00a1.5 1.5 0 1 0 3 0a1.5 1.5 0 1 0-3 0M228.10 302.48a1.5 1.5 0 1 0 3 0a1.5 1.5 0 1 0-3 0M228.10 313.97a1.5 1.5 0 1 0 3 0a1.5 1.5 0 1 0-3 0M228.10 325.45a1.5 1.5 0 1 0 3 0a1.5 1.5 0 1 0-3 0M228.10 336.93a1.5 1.5 0 1 0 3 0a1.5 1.5 0 1 0-3 0M228.10 348.42a1.5 1.5 0 1 0 3 0a1.5 1.5 0 1 0-3 0M228.10 359.90a1.5 1.5 0 1 0 3 0a1.5 1.5 0 1 0-3 0M228.10 371.39a1.5 1.5 0 1 0 3 0a1.5 1.5 0 1 0-3 0M239.59 72.78a1.5 1.5 0 1 0 3 0a1.5 1.5 0 1 0-3 0M239.59 84.27a1.5 1.5 0 1 0 3 0a1.5 1.5 0 1 0-3 0M239.59 95.75a1.5 1.5 0 1 0 3 0a1.5 1.5 0 1 0-3 0M239.59 107.23a1.5 1.5 0 1 0 3 0a1.5 1.5 0 1 0-3 0M239.59 118.72a1.5 1.5 0 1 0 3 0a1.5 1.5 0 1 0-3 0M239.59 130.20a1.5 1.5 0 1 0 3 0a1.5 1.5 0 1 0-3 0M239.59 141.69a1.5 1.5 0 1 0 3 0a1.5 1.5 0 1 0-3 0M239.59 153.18a1.5 1.5 0 1 0 3 0a1.5 1.5 0 1 0-3 0M239.59 164.66a1.5 1.5 0 1 0 3 0a1.5 1.5 0 1 0-3 0M239.59 176.14a1.5 1.5 0 1 0 3 0a1.5 1.5 0 1 0-3 0M239.59 187.63a1.5 1.5 0 1 0 3 0a1.5 1.5 0 1 0-3 0M239.59 199.12a1.5 1.5 0 1 0 3 0a1.5 1.5 0 1 0-3 0M239.59 210.60a1.5 1.5 0 1 0 3 0a1.5 1.5 0 1 0-3 0M239.59 222.09a1.5 1.5 0 1 0 3 0a1.5 1.5 0 1 0-3 0M239.59 233.57a1.5 1.5 0 1 0 3 0a1.5 1.5 0 1 0-3 0M239.59 245.05a1.5 1.5 0 1 0 3 0a1.5 1.5 0 1 0-3 0M239.59 256.54a1.5 1.5 0 1 0 3 0a1.5 1.5 0 1 0-3 0M239.59 268.02a1.5 1.5 0 1 0 3 0a1.5 1.5 0 1 0-3 0M239.59 279.51a1.5 1.5 0 1 0 3 0a1.5 1.5 0 1 0-3 0M239.59 291.00a1.5 1.5 0 1 0 3 0a1.5 1.5 0 1 0-3 0M239.59 302.48a1.5 1.5 0 1 0 3 0a1.5 1.5 0 1 0-3 0M239.59 313.97a1.5 1.5 0 1 0 3 0a1.5 1.5 0 1 0-3 0M239.59 325.45a1.5 1.5 0 1 0 3 0a1.5 1.5 0 1 0-3 0M239.59 336.93a1.5 1.5 0 1 0 3 0a1.5 1.5 0 1 0-3 0M239.59 348.42a1.5 1.5 0 1 0 3 0a1.5 1.5 0 1 0-3 0M239.59 359.90a1.5 1.5 0 1 0 3 0a1.5 1.5 0 1 0-3 0M239.59 371.39a1.5 1.5 0 1 0 3 0a1.5 1.5 0 1 0-3 0M251.07 72.78a1.5 1.5 0 1 0 3 0a1.5 1.5 0 1 0-3 0M251.07 84.27a1.5 1.5 0 1 0 3 0a1.5 1.5 0 1 0-3 0M251.07 95.75a1.5 1.5 0 1 0 3 0a1.5 1.5 0 1 0-3 0M251.07 107.23a1.5 1.5 0 1 0 3 0a1.5 1.5 0 1 0-3 0M251.07 118.72a1.5 1.5 0 1 0 3 0a1.5 1.5 0 1 0-3 0M251.07 130.20a1.5 1.5 0 1 0 3 0a1.5 1.5 0 1 0-3 0M251.07 141.69a1.5 1.5 0 1 0 3 0a1.5 1.5 0 1 0-3 0M251.07 153.18a1.5 1.5 0 1 0 3 0a1.5 1.5 0 1 0-3 0M251.07 164.66a1.5 1.5 0 1 0 3 0a1.5 1.5 0 1 0-3 0M251.07 176.14a1.5 1.5 0 1 0 3 0a1.5 1.5 0 1 0-3 0M251.07 187.63a1.5 1.5 0 1 0 3 0a1.5 1.5 0 1 0-3 0M251.07 199.12a1.5 1.5 0 1 0 3 0a1.5 1.5 0 1 0-3 0M251.07 210.60a1.5 1.5 0 1 0 3 0a1.5 1.5 0 1 0-3 0M251.07 222.09a1.5 1.5 0 1 0 3 0a1.5 1.5 0 1 0-3 0M251.07 233.57a1.5 1.5 0 1 0 3 0a1.5 1.5 0 1 0-3 0M251.07 245.05a1.5 1.5 0 1 0 3 0a1.5 1.5 0 1 0-3 0M251.07 256.54a1.5 1.5 0 1 0 3 0a1.5 1.5 0 1 0-3 0M251.07 268.02a1.5 1.5 0 1 0 3 0a1.5 1.5 0 1 0-3 0M251.07 279.51a1.5 1.5 0 1 0 3 0a1.5 1.5 0 1 0-3 0M251.07 291.00a1.5 1.5 0 1 0 3 0a1.5 1.5 0 1 0-3 0M251.07 302.48a1.5 1.5 0 1 0 3 0a1.5 1.5 0 1 0-3 0M251.07 313.97a1.5 1.5 0 1 0 3 0a1.5 1.5 0 1 0-3 0M251.07 325.45a1.5 1.5 0 1 0 3 0a1.5 1.5 0 1 0-3 0M251.07 336.93a1.5 1.5 0 1 0 3 0a1.5 1.5 0 1 0-3 0M251.07 348.42a1.5 1.5 0 1 0 3 0a1.5 1.5 0 1 0-3 0M251.07 359.90a1.5 1.5 0 1 0 3 0a1.5 1.5 0 1 0-3 0M251.07 371.39a1.5 1.5 0 1 0 3 0a1.5 1.5 0 1 0-3 0M262.55 72.78a1.5 1.5 0 1 0 3 0a1.5 1.5 0 1 0-3 0M262.55 84.27a1.5 1.5 0 1 0 3 0a1.5 1.5 0 1 0-3 0M262.55 95.75a1.5 1.5 0 1 0 3 0a1.5 1.5 0 1 0-3 0M262.55 107.23a1.5 1.5 0 1 0 3 0a1.5 1.5 0 1 0-3 0M262.55 118.72a1.5 1.5 0 1 0 3 0a1.5 1.5 0 1 0-3 0M262.55 130.20a1.5 1.5 0 1 0 3 0a1.5 1.5 0 1 0-3 0M262.55 141.69a1.5 1.5 0 1 0 3 0a1.5 1.5 0 1 0-3 0M262.55 153.18a1.5 1.5 0 1 0 3 0a1.5 1.5 0 1 0-3 0M262.55 164.66a1.5 1.5 0 1 0 3 0a1.5 1.5 0 1 0-3 0M262.55 176.14a1.5 1.5 0 1 0 3 0a1.5 1.5 0 1 0-3 0M262.55 187.63a1.5 1.5 0 1 0 3 0a1.5 1.5 0 1 0-3 0M262.55 199.12a1.5 1.5 0 1 0 3 0a1.5 1.5 0 1 0-3 0M262.55 210.60a1.5 1.5 0 1 0 3 0a1.5 1.5 0 1 0-3 0M262.55 222.09a1.5 1.5 0 1 0 3 0a1.5 1.5 0 1 0-3 0M262.55 233.57a1.5 1.5 0 1 0 3 0a1.5 1.5 0 1 0-3 0M262.55 245.05a1.5 1.5 0 1 0 3 0a1.5 1.5 0 1 0-3 0M262.55 256.54a1.5 1.5 0 1 0 3 0a1.5 1.5 0 1 0-3 0M262.55 268.02a1.5 1.5 0 1 0 3 0a1.5 1.5 0 1 0-3 0M262.55 279.51a1.5 1.5 0 1 0 3 0a1.5 1.5 0 1 0-3 0M262.55 291.00a1.5 1.5 0 1 0 3 0a1.5 1.5 0 1 0-3 0M262.55 302.48a1.5 1.5 0 1 0 3 0a1.5 1.5 0 1 0-3 0M262.55 313.97a1.5 1.5 0 1 0 3 0a1.5 1.5 0 1 0-3 0M262.55 325.45a1.5 1.5 0 1 0 3 0a1.5 1.5 0 1 0-3 0M262.55 336.93a1.5 1.5 0 1 0 3 0a1.5 1.5 0 1 0-3 0M262.55 348.42a1.5 1.5 0 1 0 3 0a1.5 1.5 0 1 0-3 0M262.55 359.90a1.5 1.5 0 1 0 3 0a1.5 1.5 0 1 0-3 0M262.55 371.39a1.5 1.5 0 1 0 3 0a1.5 1.5 0 1 0-3 0M274.04 72.78a1.5 1.5 0 1 0 3 0a1.5 1.5 0 1 0-3 0M274.04 84.27a1.5 1.5 0 1 0 3 0a1.5 1.5 0 1 0-3 0M274.04 95.75a1.5 1.5 0 1 0 3 0a1.5 1.5 0 1 0-3 0M274.04 107.23a1.5 1.5 0 1 0 3 0a1.5 1.5 0 1 0-3 0M274.04 118.72a1.5 1.5 0 1 0 3 0a1.5 1.5 0 1 0-3 0M274.04 130.20a1.5 1.5 0 1 0 3 0a1.5 1.5 0 1 0-3 0M274.04 141.69a1.5 1.5 0 1 0 3 0a1.5 1.5 0 1 0-3 0M274.04 153.18a1.5 1.5 0 1 0 3 0a1.5 1.5 0 1 0-3 0M274.04 164.66a1.5 1.5 0 1 0 3 0a1.5 1.5 0 1 0-3 0M274.04 176.14a1.5 1.5 0 1 0 3 0a1.5 1.5 0 1 0-3 0M274.04 187.63a1.5 1.5 0 1 0 3 0a1.5 1.5 0 1 0-3 0M274.04 199.12a1.5 1.5 0 1 0 3 0a1.5 1.5 0 1 0-3 0M274.04 210.60a1.5 1.5 0 1 0 3 0a1.5 1.5 0 1 0-3 0M274.04 222.09a1.5 1.5 0 1 0 3 0a1.5 1.5 0 1 0-3 0M274.04 233.57a1.5 1.5 0 1 0 3 0a1.5 1.5 0 1 0-3 0M274.04 245.05a1.5 1.5 0 1 0 3 0a1.5 1.5 0 1 0-3 0M274.04 256.54a1.5 1.5 0 1 0 3 0a1.5 1.5 0 1 0-3 0M274.04 268.02a1.5 1.5 0 1 0 3 0a1.5 1.5 0 1 0-3 0M274.04 279.51a1.5 1.5 0 1 0 3 0a1.5 1.5 0 1 0-3 0M274.04 291.00a1.5 1.5 0 1 0 3 0a1.5 1.5 0 1 0-3 0M274.04 302.48a1.5 1.5 0 1 0 3 0a1.5 1.5 0 1 0-3 0M274.04 313.97a1.5 1.5 0 1 0 3 0a1.5 1.5 0 1 0-3 0M274.04 325.45a1.5 1.5 0 1 0 3 0a1.5 1.5 0 1 0-3 0M274.04 336.93a1.5 1.5 0 1 0 3 0a1.5 1.5 0 1 0-3 0M274.04 348.42a1.5 1.5 0 1 0 3 0a1.5 1.5 0 1 0-3 0M274.04 359.90a1.5 1.5 0 1 0 3 0a1.5 1.5 0 1 0-3 0M274.04 371.39a1.5 1.5 0 1 0 3 0a1.5 1.5 0 1 0-3 0M285.52 72.78a1.5 1.5 0 1 0 3 0a1.5 1.5 0 1 0-3 0M285.52 84.27a1.5 1.5 0 1 0 3 0a1.5 1.5 0 1 0-3 0M285.52 95.75a1.5 1.5 0 1 0 3 0a1.5 1.5 0 1 0-3 0M285.52 107.23a1.5 1.5 0 1 0 3 0a1.5 1.5 0 1 0-3 0M285.52 118.72a1.5 1.5 0 1 0 3 0a1.5 1.5 0 1 0-3 0M285.52 130.20a1.5 1.5 0 1 0 3 0a1.5 1.5 0 1 0-3 0M285.52 141.69a1.5 1.5 0 1 0 3 0a1.5 1.5 0 1 0-3 0M285.52 153.18a1.5 1.5 0 1 0 3 0a1.5 1.5 0 1 0-3 0M285.52 164.66a1.5 1.5 0 1 0 3 0a1.5 1.5 0 1 0-3 0M285.52 176.14a1.5 1.5 0 1 0 3 0a1.5 1.5 0 1 0-3 0M285.52 187.63a1.5 1.5 0 1 0 3 0a1.5 1.5 0 1 0-3 0M285.52 199.12a1.5 1.5 0 1 0 3 0a1.5 1.5 0 1 0-3 0M285.52 210.60a1.5 1.5 0 1 0 3 0a1.5 1.5 0 1 0-3 0M285.52 222.09a1.5 1.5 0 1 0 3 0a1.5 1.5 0 1 0-3 0M285.52 233.57a1.5 1.5 0 1 0 3 0a1.5 1.5 0 1 0-3 0M285.52 245.05a1.5 1.5 0 1 0 3 0a1.5 1.5 0 1 0-3 0M285.52 256.54a1.5 1.5 0 1 0 3 0a1.5 1.5 0 1 0-3 0M285.52 268.02a1.5 1.5 0 1 0 3 0a1.5 1.5 0 1 0-3 0M285.52 279.51a1.5 1.5 0 1 0 3 0a1.5 1.5 0 1 0-3 0M285.52 291.00a1.5 1.5 0 1 0 3 0a1.5 1.5 0 1 0-3 0M285.52 302.48a1.5 1.5 0 1 0 3 0a1.5 1.5 0 1 0-3 0M285.52 313.97a1.5 1.5 0 1 0 3 0a1.5 1.5 0 1 0-3 0M285.52 325.45a1.5 1.5 0 1 0 3 0a1.5 1.5 0 1 0-3 0M285.52 336.93a1.5 1.5 0 1 0 3 0a1.5 1.5 0 1 0-3 0M285.52 348.42a1.5 1.5 0 1 0 3 0a1.5 1.5 0 1 0-3 0M285.52 359.90a1.5 1.5 0 1 0 3 0a1.5 1.5 0 1 0-3 0M285.52 371.39a1.5 1.5 0 1 0 3 0a1.5 1.5 0 1 0-3 0M297.01 72.78a1.5 1.5 0 1 0 3 0a1.5 1.5 0 1 0-3 0M297.01 84.27a1.5 1.5 0 1 0 3 0a1.5 1.5 0 1 0-3 0M297.01 95.75a1.5 1.5 0 1 0 3 0a1.5 1.5 0 1 0-3 0M297.01 107.23a1.5 1.5 0 1 0 3 0a1.5 1.5 0 1 0-3 0M297.01 118.72a1.5 1.5 0 1 0 3 0a1.5 1.5 0 1 0-3 0M297.01 130.20a1.5 1.5 0 1 0 3 0a1.5 1.5 0 1 0-3 0M297.01 141.69a1.5 1.5 0 1 0 3 0a1.5 1.5 0 1 0-3 0M297.01 153.18a1.5 1.5 0 1 0 3 0a1.5 1.5 0 1 0-3 0M297.01 164.66a1.5 1.5 0 1 0 3 0a1.5 1.5 0 1 0-3 0M297.01 176.14a1.5 1.5 0 1 0 3 0a1.5 1.5 0 1 0-3 0M297.01 187.63a1.5 1.5 0 1 0 3 0a1.5 1.5 0 1 0-3 0M297.01 199.12a1.5 1.5 0 1 0 3 0a1.5 1.5 0 1 0-3 0M297.01 210.60a1.5 1.5 0 1 0 3 0a1.5 1.5 0 1 0-3 0M297.01 222.09a1.5 1.5 0 1 0 3 0a1.5 1.5 0 1 0-3 0M297.01 233.57a1.5 1.5 0 1 0 3 0a1.5 1.5 0 1 0-3 0M297.01 245.05a1.5 1.5 0 1 0 3 0a1.5 1.5 0 1 0-3 0M297.01 256.54a1.5 1.5 0 1 0 3 0a1.5 1.5 0 1 0-3 0M297.01 268.02a1.5 1.5 0 1 0 3 0a1.5 1.5 0 1 0-3 0M297.01 279.51a1.5 1.5 0 1 0 3 0a1.5 1.5 0 1 0-3 0M297.01 291.00a1.5 1.5 0 1 0 3 0a1.5 1.5 0 1 0-3 0M297.01 302.48a1.5 1.5 0 1 0 3 0a1.5 1.5 0 1 0-3 0M297.01 313.97a1.5 1.5 0 1 0 3 0a1.5 1.5 0 1 0-3 0M297.01 325.45a1.5 1.5 0 1 0 3 0a1.5 1.5 0 1 0-3 0M297.01 336.93a1.5 1.5 0 1 0 3 0a1.5 1.5 0 1 0-3 0M297.01 348.42a1.5 1.5 0 1 0 3 0a1.5 1.5 0 1 0-3 0M297.01 359.90a1.5 1.5 0 1 0 3 0a1.5 1.5 0 1 0-3 0M297.01 371.39a1.5 1.5 0 1 0 3 0a1.5 1.5 0 1 0-3 0M308.50 72.78a1.5 1.5 0 1 0 3 0a1.5 1.5 0 1 0-3 0M308.50 84.27a1.5 1.5 0 1 0 3 0a1.5 1.5 0 1 0-3 0M308.50 95.75a1.5 1.5 0 1 0 3 0a1.5 1.5 0 1 0-3 0M308.50 107.23a1.5 1.5 0 1 0 3 0a1.5 1.5 0 1 0-3 0M308.50 118.72a1.5 1.5 0 1 0 3 0a1.5 1.5 0 1 0-3 0M308.50 130.20a1.5 1.5 0 1 0 3 0a1.5 1.5 0 1 0-3 0M308.50 141.69a1.5 1.5 0 1 0 3 0a1.5 1.5 0 1 0-3 0M308.50 153.18a1.5 1.5 0 1 0 3 0a1.5 1.5 0 1 0-3 0M308.50 164.66a1.5 1.5 0 1 0 3 0a1.5 1.5 0 1 0-3 0M308.50 176.14a1.5 1.5 0 1 0 3 0a1.5 1.5 0 1 0-3 0M308.50 187.63a1.5 1.5 0 1 0 3 0a1.5 1.5 0 1 0-3 0M308.50 199.12a1.5 1.5 0 1 0 3 0a1.5 1.5 0 1 0-3 0M308.50 210.60a1.5 1.5 0 1 0 3 0a1.5 1.5 0 1 0-3 0M308.50 222.09a1.5 1.5 0 1 0 3 0a1.5 1.5 0 1 0-3 0M308.50 233.57a1.5 1.5 0 1 0 3 0a1.5 1.5 0 1 0-3 0M308.50 245.05a1.5 1.5 0 1 0 3 0a1.5 1.5 0 1 0-3 0M308.50 256.54a1.5 1.5 0 1 0 3 0a1.5 1.5 0 1 0-3 0M308.50 268.02a1.5 1.5 0 1 0 3 0a1.5 1.5 0 1 0-3 0M308.50 279.51a1.5 1.5 0 1 0 3 0a1.5 1.5 0 1 0-3 0M308.50 291.00a1.5 1.5 0 1 0 3 0a1.5 1.5 0 1 0-3 0M308.50 302.48a1.5 1.5 0 1 0 3 0a1.5 1.5 0 1 0-3 0M308.50 313.97a1.5 1.5 0 1 0 3 0a1.5 1.5 0 1 0-3 0M308.50 325.45a1.5 1.5 0 1 0 3 0a1.5 1.5 0 1 0-3 0M308.50 336.93a1.5 1.5 0 1 0 3 0a1.5 1.5 0 1 0-3 0M308.50 348.42a1.5 1.5 0 1 0 3 0a1.5 1.5 0 1 0-3 0M308.50 359.90a1.5 1.5 0 1 0 3 0a1.5 1.5 0 1 0-3 0M308.50 371.39a1.5 1.5 0 1 0 3 0a1.5 1.5 0 1 0-3 0M319.98 72.78a1.5 1.5 0 1 0 3 0a1.5 1.5 0 1 0-3 0M319.98 84.27a1.5 1.5 0 1 0 3 0a1.5 1.5 0 1 0-3 0M319.98 95.75a1.5 1.5 0 1 0 3 0a1.5 1.5 0 1 0-3 0M319.98 107.23a1.5 1.5 0 1 0 3 0a1.5 1.5 0 1 0-3 0M319.98 118.72a1.5 1.5 0 1 0 3 0a1.5 1.5 0 1 0-3 0M319.98 130.20a1.5 1.5 0 1 0 3 0a1.5 1.5 0 1 0-3 0M319.98 141.69a1.5 1.5 0 1 0 3 0a1.5 1.5 0 1 0-3 0M319.98 153.18a1.5 1.5 0 1 0 3 0a1.5 1.5 0 1 0-3 0M319.98 164.66a1.5 1.5 0 1 0 3 0a1.5 1.5 0 1 0-3 0M319.98 176.14a1.5 1.5 0 1 0 3 0a1.5 1.5 0 1 0-3 0M319.98 187.63a1.5 1.5 0 1 0 3 0a1.5 1.5 0 1 0-3 0M319.98 199.12a1.5 1.5 0 1 0 3 0a1.5 1.5 0 1 0-3 0M319.98 210.60a1.5 1.5 0 1 0 3 0a1.5 1.5 0 1 0-3 0M319.98 222.09a1.5 1.5 0 1 0 3 0a1.5 1.5 0 1 0-3 0M319.98 233.57a1.5 1.5 0 1 0 3 0a1.5 1.5 0 1 0-3 0M319.98 245.05a1.5 1.5 0 1 0 3 0a1.5 1.5 0 1 0-3 0M319.98 256.54a1.5 1.5 0 1 0 3 0a1.5 1.5 0 1 0-3 0M319.98 268.02a1.5 1.5 0 1 0 3 0a1.5 1.5 0 1 0-3 0M319.98 279.51a1.5 1.5 0 1 0 3 0a1.5 1.5 0 1 0-3 0M319.98 291.00a1.5 1.5 0 1 0 3 0a1.5 1.5 0 1 0-3 0M319.98 302.48a1.5 1.5 0 1 0 3 0a1.5 1.5 0 1 0-3 0M319.98 313.97a1.5 1.5 0 1 0 3 0a1.5 1.5 0 1 0-3 0M319.98 325.45a1.5 1.5 0 1 0 3 0a1.5 1.5 0 1 0-3 0M319.98 336.93a1.5 1.5 0 1 0 3 0a1.5 1.5 0 1 0-3 0M319.98 348.42a1.5 1.5 0 1 0 3 0a1.5 1.5 0 1 0-3 0M319.98 359.90a1.5 1.5 0 1 0 3 0a1.5 1.5 0 1 0-3 0M319.98 371.39a1.5 1.5 0 1 0 3 0a1.5 1.5 0 1 0-3 0M331.47 72.78a1.5 1.5 0 1 0 3 0a1.5 1.5 0 1 0-3 0M331.47 84.27a1.5 1.5 0 1 0 3 0a1.5 1.5 0 1 0-3 0M331.47 95.75a1.5 1.5 0 1 0 3 0a1.5 1.5 0 1 0-3 0M331.47 107.23a1.5 1.5 0 1 0 3 0a1.5 1.5 0 1 0-3 0M331.47 118.72a1.5 1.5 0 1 0 3 0a1.5 1.5 0 1 0-3 0M331.47 130.20a1.5 1.5 0 1 0 3 0a1.5 1.5 0 1 0-3 0M331.47 141.69a1.5 1.5 0 1 0 3 0a1.5 1.5 0 1 0-3 0M331.47 153.18a1.5 1.5 0 1 0 3 0a1.5 1.5 0 1 0-3 0M331.47 164.66a1.5 1.5 0 1 0 3 0a1.5 1.5 0 1 0-3 0M331.47 176.14a1.5 1.5 0 1 0 3 0a1.5 1.5 0 1 0-3 0M331.47 187.63a1.5 1.5 0 1 0 3 0a1.5 1.5 0 1 0-3 0M331.47 199.12a1.5 1.5 0 1 0 3 0a1.5 1.5 0 1 0-3 0M331.47 210.60a1.5 1.5 0 1 0 3 0a1.5 1.5 0 1 0-3 0M331.47 222.09a1.5 1.5 0 1 0 3 0a1.5 1.5 0 1 0-3 0M331.47 233.57a1.5 1.5 0 1 0 3 0a1.5 1.5 0 1 0-3 0M331.47 245.05a1.5 1.5 0 1 0 3 0a1.5 1.5 0 1 0-3 0M331.47 256.54a1.5 1.5 0 1 0 3 0a1.5 1.5 0 1 0-3 0M331.47 268.02a1.5 1.5 0 1 0 3 0a1.5 1.5 0 1 0-3 0M331.47 279.51a1.5 1.5 0 1 0 3 0a1.5 1.5 0 1 0-3 0M331.47 291.00a1.5 1.5 0 1 0 3 0a1.5 1.5 0 1 0-3 0M331.47 302.48a1.5 1.5 0 1 0 3 0a1.5 1.5 0 1 0-3 0M331.47 313.97a1.5 1.5 0 1 0 3 0a1.5 1.5 0 1 0-3 0M331.47 325.45a1.5 1.5 0 1 0 3 0a1.5 1.5 0 1 0-3 0M331.47 336.93a1.5 1.5 0 1 0 3 0a1.5 1.5 0 1 0-3 0M331.47 348.42a1.5 1.5 0 1 0 3 0a1.5 1.5 0 1 0-3 0M331.47 359.90a1.5 1.5 0 1 0 3 0a1.5 1.5 0 1 0-3 0M331.47 371.39a1.5 1.5 0 1 0 3 0a1.5 1.5 0 1 0-3 0M342.95 72.78a1.5 1.5 0 1 0 3 0a1.5 1.5 0 1 0-3 0M342.95 84.27a1.5 1.5 0 1 0 3 0a1.5 1.5 0 1 0-3 0M342.95 95.75a1.5 1.5 0 1 0 3 0a1.5 1.5 0 1 0-3 0M342.95 107.23a1.5 1.5 0 1 0 3 0a1.5 1.5 0 1 0-3 0M342.95 118.72a1.5 1.5 0 1 0 3 0a1.5 1.5 0 1 0-3 0M342.95 130.20a1.5 1.5 0 1 0 3 0a1.5 1.5 0 1 0-3 0M342.95 141.69a1.5 1.5 0 1 0 3 0a1.5 1.5 0 1 0-3 0M342.95 153.18a1.5 1.5 0 1 0 3 0a1.5 1.5 0 1 0-3 0M342.95 164.66a1.5 1.5 0 1 0 3 0a1.5 1.5 0 1 0-3 0M342.95 176.14a1.5 1.5 0 1 0 3 0a1.5 1.5 0 1 0-3 0M342.95 187.63a1.5 1.5 0 1 0 3 0a1.5 1.5 0 1 0-3 0M342.95 199.12a1.5 1.5 0 1 0 3 0a1.5 1.5 0 1 0-3 0M342.95 210.60a1.5 1.5 0 1 0 3 0a1.5 1.5 0 1 0-3 0M342.95 222.09a1.5 1.5 0 1 0 3 0a1.5 1.5 0 1 0-3 0M342.95 233.57a1.5 1.5 0 1 0 3 0a1.5 1.5 0 1 0-3 0M342.95 245.05a1.5 1.5 0 1 0 3 0a1.5 1.5 0 1 0-3 0M342.95 256.54a1.5 1.5 0 1 0 3 0a1.5 1.5 0 1 0-3 0M342.95 268.02a1.5 1.5 0 1 0 3 0a1.5 1.5 0 1 0-3 0M342.95 279.51a1.5 1.5 0 1 0 3 0a1.5 1.5 0 1 0-3 0M342.95 291.00a1.5 1.5 0 1 0 3 0a1.5 1.5 0 1 0-3 0M342.95 302.48a1.5 1.5 0 1 0 3 0a1.5 1.5 0 1 0-3 0M342.95 313.97a1.5 1.5 0 1 0 3 0a1.5 1.5 0 1 0-3 0M342.95 325.45a1.5 1.5 0 1 0 3 0a1.5 1.5 0 1 0-3 0M342.95 336.93a1.5 1.5 0 1 0 3 0a1.5 1.5 0 1 0-3 0M342.95 348.42a1.5 1.5 0 1 0 3 0a1.5 1.5 0 1 0-3 0M342.95 359.90a1.5 1.5 0 1 0 3 0a1.5 1.5 0 1 0-3 0M342.95 371.39a1.5 1.5 0 1 0 3 0a1.5 1.5 0 1 0-3 0M354.43 72.78a1.5 1.5 0 1 0 3 0a1.5 1.5 0 1 0-3 0M354.43 84.27a1.5 1.5 0 1 0 3 0a1.5 1.5 0 1 0-3 0M354.43 95.75a1.5 1.5 0 1 0 3 0a1.5 1.5 0 1 0-3 0M354.43 107.23a1.5 1.5 0 1 0 3 0a1.5 1.5 0 1 0-3 0M354.43 118.72a1.5 1.5 0 1 0 3 0a1.5 1.5 0 1 0-3 0M354.43 130.20a1.5 1.5 0 1 0 3 0a1.5 1.5 0 1 0-3 0M354.43 141.69a1.5 1.5 0 1 0 3 0a1.5 1.5 0 1 0-3 0M354.43 153.18a1.5 1.5 0 1 0 3 0a1.5 1.5 0 1 0-3 0M354.43 164.66a1.5 1.5 0 1 0 3 0a1.5 1.5 0 1 0-3 0M354.43 176.14a1.5 1.5 0 1 0 3 0a1.5 1.5 0 1 0-3 0M354.43 187.63a1.5 1.5 0 1 0 3 0a1.5 1.5 0 1 0-3 0M354.43 199.12a1.5 1.5 0 1 0 3 0a1.5 1.5 0 1 0-3 0M354.43 210.60a1.5 1.5 0 1 0 3 0a1.5 1.5 0 1 0-3 0M354.43 222.09a1.5 1.5 0 1 0 3 0a1.5 1.5 0 1 0-3 0M354.43 233.57a1.5 1.5 0 1 0 3 0a1.5 1.5 0 1 0-3 0M354.43 245.05a1.5 1.5 0 1 0 3 0a1.5 1.5 0 1 0-3 0M354.43 256.54a1.5 1.5 0 1 0 3 0a1.5 1.5 0 1 0-3 0M354.43 268.02a1.5 1.5 0 1 0 3 0a1.5 1.5 0 1 0-3 0M354.43 279.51a1.5 1.5 0 1 0 3 0a1.5 1.5 0 1 0-3 0M354.43 291.00a1.5 1.5 0 1 0 3 0a1.5 1.5 0 1 0-3 0M354.43 302.48a1.5 1.5 0 1 0 3 0a1.5 1.5 0 1 0-3 0M354.43 313.97a1.5 1.5 0 1 0 3 0a1.5 1.5 0 1 0-3 0M354.43 325.45a1.5 1.5 0 1 0 3 0a1.5 1.5 0 1 0-3 0M354.43 336.93a1.5 1.5 0 1 0 3 0a1.5 1.5 0 1 0-3 0M354.43 348.42a1.5 1.5 0 1 0 3 0a1.5 1.5 0 1 0-3 0M354.43 359.90a1.5 1.5 0 1 0 3 0a1.5 1.5 0 1 0-3 0M354.43 371.39a1.5 1.5 0 1 0 3 0a1.5 1.5 0 1 0-3 0M365.92 72.78a1.5 1.5 0 1 0 3 0a1.5 1.5 0 1 0-3 0M365.92 84.27a1.5 1.5 0 1 0 3 0a1.5 1.5 0 1 0-3 0M365.92 95.75a1.5 1.5 0 1 0 3 0a1.5 1.5 0 1 0-3 0M365.92 107.23a1.5 1.5 0 1 0 3 0a1.5 1.5 0 1 0-3 0M365.92 118.72a1.5 1.5 0 1 0 3 0a1.5 1.5 0 1 0-3 0M365.92 130.20a1.5 1.5 0 1 0 3 0a1.5 1.5 0 1 0-3 0M365.92 141.69a1.5 1.5 0 1 0 3 0a1.5 1.5 0 1 0-3 0M365.92 153.18a1.5 1.5 0 1 0 3 0a1.5 1.5 0 1 0-3 0M365.92 164.66a1.5 1.5 0 1 0 3 0a1.5 1.5 0 1 0-3 0M365.92 176.14a1.5 1.5 0 1 0 3 0a1.5 1.5 0 1 0-3 0M365.92 187.63a1.5 1.5 0 1 0 3 0a1.5 1.5 0 1 0-3 0M365.92 199.12a1.5 1.5 0 1 0 3 0a1.5 1.5 0 1 0-3 0M365.92 210.60a1.5 1.5 0 1 0 3 0a1.5 1.5 0 1 0-3 0M365.92 222.09a1.5 1.5 0 1 0 3 0a1.5 1.5 0 1 0-3 0M365.92 233.57a1.5 1.5 0 1 0 3 0a1.5 1.5 0 1 0-3 0M365.92 245.05a1.5 1.5 0 1 0 3 0a1.5 1.5 0 1 0-3 0M365.92 256.54a1.5 1.5 0 1 0 3 0a1.5 1.5 0 1 0-3 0M365.92 268.02a1.5 1.5 0 1 0 3 0a1.5 1.5 0 1 0-3 0M365.92 279.51a1.5 1.5 0 1 0 3 0a1.5 1.5 0 1 0-3 0M365.92 291.00a1.5 1.5 0 1 0 3 0a1.5 1.5 0 1 0-3 0M365.92 302.48a1.5 1.5 0 1 0 3 0a1.5 1.5 0 1 0-3 0M365.92 313.97a1.5 1.5 0 1 0 3 0a1.5 1.5 0 1 0-3 0M365.92 325.45a1.5 1.5 0 1 0 3 0a1.5 1.5 0 1 0-3 0M365.92 336.93a1.5 1.5 0 1 0 3 0a1.5 1.5 0 1 0-3 0M365.92 348.42a1.5 1.5 0 1 0 3 0a1.5 1.5 0 1 0-3 0M365.92 359.90a1.5 1.5 0 1 0 3 0a1.5 1.5 0 1 0-3 0M365.92 371.39a1.5 1.5 0 1 0 3 0a1.5 1.5 0 1 0-3 0M377.40 72.78a1.5 1.5 0 1 0 3 0a1.5 1.5 0 1 0-3 0M377.40 84.27a1.5 1.5 0 1 0 3 0a1.5 1.5 0 1 0-3 0M377.40 95.75a1.5 1.5 0 1 0 3 0a1.5 1.5 0 1 0-3 0M377.40 107.23a1.5 1.5 0 1 0 3 0a1.5 1.5 0 1 0-3 0M377.40 118.72a1.5 1.5 0 1 0 3 0a1.5 1.5 0 1 0-3 0M377.40 130.20a1.5 1.5 0 1 0 3 0a1.5 1.5 0 1 0-3 0M377.40 141.69a1.5 1.5 0 1 0 3 0a1.5 1.5 0 1 0-3 0M377.40 153.18a1.5 1.5 0 1 0 3 0a1.5 1.5 0 1 0-3 0M377.40 164.66a1.5 1.5 0 1 0 3 0a1.5 1.5 0 1 0-3 0M377.40 176.14a1.5 1.5 0 1 0 3 0a1.5 1.5 0 1 0-3 0M377.40 187.63a1.5 1.5 0 1 0 3 0a1.5 1.5 0 1 0-3 0M377.40 199.12a1.5 1.5 0 1 0 3 0a1.5 1.5 0 1 0-3 0M377.40 210.60a1.5 1.5 0 1 0 3 0a1.5 1.5 0 1 0-3 0M377.40 222.09a1.5 1.5 0 1 0 3 0a1.5 1.5 0 1 0-3 0M377.40 233.57a1.5 1.5 0 1 0 3 0a1.5 1.5 0 1 0-3 0M377.40 245.05a1.5 1.5 0 1 0 3 0a1.5 1.5 0 1 0-3 0M377.40 256.54a1.5 1.5 0 1 0 3 0a1.5 1.5 0 1 0-3 0M377.40 268.02a1.5 1.5 0 1 0 3 0a1.5 1.5 0 1 0-3 0M377.40 279.51a1.5 1.5 0 1 0 3 0a1.5 1.5 0 1 0-3 0M377.40 291.00a1.5 1.5 0 1 0 3 0a1.5 1.5 0 1 0-3 0M377.40 302.48a1.5 1.5 0 1 0 3 0a1.5 1.5 0 1 0-3 0M377.40 313.97a1.5 1.5 0 1 0 3 0a1.5 1.5 0 1 0-3 0M377.40 325.45a1.5 1.5 0 1 0 3 0a1.5 1.5 0 1 0-3 0M377.40 336.93a1.5 1.5 0 1 0 3 0a1.5 1.5 0 1 0-3 0M377.40 348.42a1.5 1.5 0 1 0 3 0a1.5 1.5 0 1 0-3 0M377.40 359.90a1.5 1.5 0 1 0 3 0a1.5 1.5 0 1 0-3 0M377.40 371.39a1.5 1.5 0 1 0 3 0a1.5 1.5 0 1 0-3 0M388.89 72.78a1.5 1.5 0 1 0 3 0a1.5 1.5 0 1 0-3 0M388.89 84.27a1.5 1.5 0 1 0 3 0a1.5 1.5 0 1 0-3 0M388.89 95.75a1.5 1.5 0 1 0 3 0a1.5 1.5 0 1 0-3 0M388.89 107.23a1.5 1.5 0 1 0 3 0a1.5 1.5 0 1 0-3 0M388.89 118.72a1.5 1.5 0 1 0 3 0a1.5 1.5 0 1 0-3 0M388.89 130.20a1.5 1.5 0 1 0 3 0a1.5 1.5 0 1 0-3 0M388.89 141.69a1.5 1.5 0 1 0 3 0a1.5 1.5 0 1 0-3 0M388.89 153.18a1.5 1.5 0 1 0 3 0a1.5 1.5 0 1 0-3 0M388.89 164.66a1.5 1.5 0 1 0 3 0a1.5 1.5 0 1 0-3 0M388.89 176.14a1.5 1.5 0 1 0 3 0a1.5 1.5 0 1 0-3 0M388.89 187.63a1.5 1.5 0 1 0 3 0a1.5 1.5 0 1 0-3 0M388.89 199.12a1.5 1.5 0 1 0 3 0a1.5 1.5 0 1 0-3 0M388.89 210.60a1.5 1.5 0 1 0 3 0a1.5 1.5 0 1 0-3 0M388.89 222.09a1.5 1.5 0 1 0 3 0a1.5 1.5 0 1 0-3 0M388.89 233.57a1.5 1.5 0 1 0 3 0a1.5 1.5 0 1 0-3 0M388.89 245.05a1.5 1.5 0 1 0 3 0a1.5 1.5 0 1 0-3 0M388.89 256.54a1.5 1.5 0 1 0 3 0a1.5 1.5 0 1 0-3 0M388.89 268.02a1.5 1.5 0 1 0 3 0a1.5 1.5 0 1 0-3 0M388.89 279.51a1.5 1.5 0 1 0 3 0a1.5 1.5 0 1 0-3 0M388.89 291.00a1.5 1.5 0 1 0 3 0a1.5 1.5 0 1 0-3 0M388.89 302.48a1.5 1.5 0 1 0 3 0a1.5 1.5 0 1 0-3 0M388.89 313.97a1.5 1.5 0 1 0 3 0a1.5 1.5 0 1 0-3 0M388.89 325.45a1.5 1.5 0 1 0 3 0a1.5 1.5 0 1 0-3 0M388.89 336.93a1.5 1.5 0 1 0 3 0a1.5 1.5 0 1 0-3 0M388.89 348.42a1.5 1.5 0 1 0 3 0a1.5 1.5 0 1 0-3 0M388.89 359.90a1.5 1.5 0 1 0 3 0a1.5 1.5 0 1 0-3 0M388.89 371.39a1.5 1.5 0 1 0 3 0a1.5 1.5 0 1 0-3 0M400.38 72.78a1.5 1.5 0 1 0 3 0a1.5 1.5 0 1 0-3 0M400.38 84.27a1.5 1.5 0 1 0 3 0a1.5 1.5 0 1 0-3 0M400.38 95.75a1.5 1.5 0 1 0 3 0a1.5 1.5 0 1 0-3 0M400.38 107.23a1.5 1.5 0 1 0 3 0a1.5 1.5 0 1 0-3 0M400.38 118.72a1.5 1.5 0 1 0 3 0a1.5 1.5 0 1 0-3 0M400.38 130.20a1.5 1.5 0 1 0 3 0a1.5 1.5 0 1 0-3 0M400.38 141.69a1.5 1.5 0 1 0 3 0a1.5 1.5 0 1 0-3 0M400.38 153.18a1.5 1.5 0 1 0 3 0a1.5 1.5 0 1 0-3 0M400.38 164.66a1.5 1.5 0 1 0 3 0a1.5 1.5 0 1 0-3 0M400.38 176.14a1.5 1.5 0 1 0 3 0a1.5 1.5 0 1 0-3 0M400.38 187.63a1.5 1.5 0 1 0 3 0a1.5 1.5 0 1 0-3 0M400.38 199.12a1.5 1.5 0 1 0 3 0a1.5 1.5 0 1 0-3 0M400.38 210.60a1.5 1.5 0 1 0 3 0a1.5 1.5 0 1 0-3 0M400.38 222.09a1.5 1.5 0 1 0 3 0a1.5 1.5 0 1 0-3 0M400.38 233.57a1.5 1.5 0 1 0 3 0a1.5 1.5 0 1 0-3 0M400.38 245.05a1.5 1.5 0 1 0 3 0a1.5 1.5 0 1 0-3 0M400.38 256.54a1.5 1.5 0 1 0 3 0a1.5 1.5 0 1 0-3 0M400.38 268.02a1.5 1.5 0 1 0 3 0a1.5 1.5 0 1 0-3 0M400.38 279.51a1.5 1.5 0 1 0 3 0a1.5 1.5 0 1 0-3 0M400.38 291.00a1.5 1.5 0 1 0 3 0a1.5 1.5 0 1 0-3 0M400.38 302.48a1.5 1.5 0 1 0 3 0a1.5 1.5 0 1 0-3 0M400.38 313.97a1.5 1.5 0 1 0 3 0a1.5 1.5 0 1 0-3 0M400.38 325.45a1.5 1.5 0 1 0 3 0a1.5 1.5 0 1 0-3 0M400.38 336.93a1.5 1.5 0 1 0 3 0a1.5 1.5 0 1 0-3 0M400.38 348.42a1.5 1.5 0 1 0 3 0a1.5 1.5 0 1 0-3 0M400.38 359.90a1.5 1.5 0 1 0 3 0a1.5 1.5 0 1 0-3 0M400.38 371.39a1.5 1.5 0 1 0 3 0a1.5 1.5 0 1 0-3 0M411.86 72.78a1.5 1.5 0 1 0 3 0a1.5 1.5 0 1 0-3 0M411.86 84.27a1.5 1.5 0 1 0 3 0a1.5 1.5 0 1 0-3 0M411.86 95.75a1.5 1.5 0 1 0 3 0a1.5 1.5 0 1 0-3 0M411.86 107.23a1.5 1.5 0 1 0 3 0a1.5 1.5 0 1 0-3 0M411.86 118.72a1.5 1.5 0 1 0 3 0a1.5 1.5 0 1 0-3 0M411.86 130.20a1.5 1.5 0 1 0 3 0a1.5 1.5 0 1 0-3 0M411.86 141.69a1.5 1.5 0 1 0 3 0a1.5 1.5 0 1 0-3 0M411.86 153.18a1.5 1.5 0 1 0 3 0a1.5 1.5 0 1 0-3 0M411.86 164.66a1.5 1.5 0 1 0 3 0a1.5 1.5 0 1 0-3 0M411.86 176.14a1.5 1.5 0 1 0 3 0a1.5 1.5 0 1 0-3 0M411.86 187.63a1.5 1.5 0 1 0 3 0a1.5 1.5 0 1 0-3 0M411.86 199.12a1.5 1.5 0 1 0 3 0a1.5 1.5 0 1 0-3 0M411.86 210.60a1.5 1.5 0 1 0 3 0a1.5 1.5 0 1 0-3 0M411.86 222.09a1.5 1.5 0 1 0 3 0a1.5 1.5 0 1 0-3 0M411.86 233.57a1.5 1.5 0 1 0 3 0a1.5 1.5 0 1 0-3 0M411.86 245.05a1.5 1.5 0 1 0 3 0a1.5 1.5 0 1 0-3 0M411.86 256.54a1.5 1.5 0 1 0 3 0a1.5 1.5 0 1 0-3 0M411.86 268.02a1.5 1.5 0 1 0 3 0a1.5 1.5 0 1 0-3 0M411.86 279.51a1.5 1.5 0 1 0 3 0a1.5 1.5 0 1 0-3 0M411.86 291.00a1.5 1.5 0 1 0 3 0a1.5 1.5 0 1 0-3 0M411.86 302.48a1.5 1.5 0 1 0 3 0a1.5 1.5 0 1 0-3 0M411.86 313.97a1.5 1.5 0 1 0 3 0a1.5 1.5 0 1 0-3 0M411.86 325.45a1.5 1.5 0 1 0 3 0a1.5 1.5 0 1 0-3 0M411.86 336.93a1.5 1.5 0 1 0 3 0a1.5 1.5 0 1 0-3 0M411.86 348.42a1.5 1.5 0 1 0 3 0a1.5 1.5 0 1 0-3 0M411.86 359.90a1.5 1.5 0 1 0 3 0a1.5 1.5 0 1 0-3 0M411.86 371.39a1.5 1.5 0 1 0 3 0a1.5 1.5 0 1 0-3 0M423.35 72.78a1.5 1.5 0 1 0 3 0a1.5 1.5 0 1 0-3 0M423.35 84.27a1.5 1.5 0 1 0 3 0a1.5 1.5 0 1 0-3 0M423.35 95.75a1.5 1.5 0 1 0 3 0a1.5 1.5 0 1 0-3 0M423.35 107.23a1.5 1.5 0 1 0 3 0a1.5 1.5 0 1 0-3 0M423.35 118.72a1.5 1.5 0 1 0 3 0a1.5 1.5 0 1 0-3 0M423.35 130.20a1.5 1.5 0 1 0 3 0a1.5 1.5 0 1 0-3 0M423.35 141.69a1.5 1.5 0 1 0 3 0a1.5 1.5 0 1 0-3 0M423.35 153.18a1.5 1.5 0 1 0 3 0a1.5 1.5 0 1 0-3 0M423.35 164.66a1.5 1.5 0 1 0 3 0a1.5 1.5 0 1 0-3 0M423.35 176.14a1.5 1.5 0 1 0 3 0a1.5 1.5 0 1 0-3 0M423.35 187.63a1.5 1.5 0 1 0 3 0a1.5 1.5 0 1 0-3 0M423.35 199.12a1.5 1.5 0 1 0 3 0a1.5 1.5 0 1 0-3 0M423.35 210.60a1.5 1.5 0 1 0 3 0a1.5 1.5 0 1 0-3 0M423.35 222.09a1.5 1.5 0 1 0 3 0a1.5 1.5 0 1 0-3 0M423.35 233.57a1.5 1.5 0 1 0 3 0a1.5 1.5 0 1 0-3 0M423.35 245.05a1.5 1.5 0 1 0 3 0a1.5 1.5 0 1 0-3 0M423.35 256.54a1.5 1.5 0 1 0 3 0a1.5 1.5 0 1 0-3 0M423.35 268.02a1.5 1.5 0 1 0 3 0a1.5 1.5 0 1 0-3 0M423.35 279.51a1.5 1.5 0 1 0 3 0a1.5 1.5 0 1 0-3 0M423.35 291.00a1.5 1.5 0 1 0 3 0a1.5 1.5 0 1 0-3 0M423.35 302.48a1.5 1.5 0 1 0 3 0a1.5 1.5 0 1 0-3 0M423.35 313.97a1.5 1.5 0 1 0 3 0a1.5 1.5 0 1 0-3 0M423.35 325.45a1.5 1.5 0 1 0 3 0a1.5 1.5 0 1 0-3 0M423.35 336.93a1.5 1.5 0 1 0 3 0a1.5 1.5 0 1 0-3 0M423.35 348.42a1.5 1.5 0 1 0 3 0a1.5 1.5 0 1 0-3 0M423.35 359.90a1.5 1.5 0 1 0 3 0a1.5 1.5 0 1 0-3 0M423.35 371.39a1.5 1.5 0 1 0 3 0a1.5 1.5 0 1 0-3 0M434.83 72.78a1.5 1.5 0 1 0 3 0a1.5 1.5 0 1 0-3 0M434.83 84.27a1.5 1.5 0 1 0 3 0a1.5 1.5 0 1 0-3 0M434.83 95.75a1.5 1.5 0 1 0 3 0a1.5 1.5 0 1 0-3 0M434.83 107.23a1.5 1.5 0 1 0 3 0a1.5 1.5 0 1 0-3 0M434.83 118.72a1.5 1.5 0 1 0 3 0a1.5 1.5 0 1 0-3 0M434.83 130.20a1.5 1.5 0 1 0 3 0a1.5 1.5 0 1 0-3 0M434.83 141.69a1.5 1.5 0 1 0 3 0a1.5 1.5 0 1 0-3 0M434.83 153.18a1.5 1.5 0 1 0 3 0a1.5 1.5 0 1 0-3 0M434.83 164.66a1.5 1.5 0 1 0 3 0a1.5 1.5 0 1 0-3 0M434.83 176.14a1.5 1.5 0 1 0 3 0a1.5 1.5 0 1 0-3 0M434.83 187.63a1.5 1.5 0 1 0 3 0a1.5 1.5 0 1 0-3 0M434.83 199.12a1.5 1.5 0 1 0 3 0a1.5 1.5 0 1 0-3 0M434.83 210.60a1.5 1.5 0 1 0 3 0a1.5 1.5 0 1 0-3 0M434.83 222.09a1.5 1.5 0 1 0 3 0a1.5 1.5 0 1 0-3 0M434.83 233.57a1.5 1.5 0 1 0 3 0a1.5 1.5 0 1 0-3 0M434.83 245.05a1.5 1.5 0 1 0 3 0a1.5 1.5 0 1 0-3 0M434.83 256.54a1.5 1.5 0 1 0 3 0a1.5 1.5 0 1 0-3 0M434.83 268.02a1.5 1.5 0 1 0 3 0a1.5 1.5 0 1 0-3 0M434.83 279.51a1.5 1.5 0 1 0 3 0a1.5 1.5 0 1 0-3 0M434.83 291.00a1.5 1.5 0 1 0 3 0a1.5 1.5 0 1 0-3 0M434.83 302.48a1.5 1.5 0 1 0 3 0a1.5 1.5 0 1 0-3 0M434.83 313.97a1.5 1.5 0 1 0 3 0a1.5 1.5 0 1 0-3 0M434.83 325.45a1.5 1.5 0 1 0 3 0a1.5 1.5 0 1 0-3 0M434.83 336.93a1.5 1.5 0 1 0 3 0a1.5 1.5 0 1 0-3 0M434.83 348.42a1.5 1.5 0 1 0 3 0a1.5 1.5 0 1 0-3 0M434.83 359.90a1.5 1.5 0 1 0 3 0a1.5 1.5 0 1 0-3 0M434.83 371.39a1.5 1.5 0 1 0 3 0a1.5 1.5 0 1 0-3 0M446.31 72.78a1.5 1.5 0 1 0 3 0a1.5 1.5 0 1 0-3 0M446.31 84.27a1.5 1.5 0 1 0 3 0a1.5 1.5 0 1 0-3 0M446.31 95.75a1.5 1.5 0 1 0 3 0a1.5 1.5 0 1 0-3 0M446.31 107.23a1.5 1.5 0 1 0 3 0a1.5 1.5 0 1 0-3 0M446.31 118.72a1.5 1.5 0 1 0 3 0a1.5 1.5 0 1 0-3 0M446.31 130.20a1.5 1.5 0 1 0 3 0a1.5 1.5 0 1 0-3 0M446.31 141.69a1.5 1.5 0 1 0 3 0a1.5 1.5 0 1 0-3 0M446.31 153.18a1.5 1.5 0 1 0 3 0a1.5 1.5 0 1 0-3 0M446.31 164.66a1.5 1.5 0 1 0 3 0a1.5 1.5 0 1 0-3 0M446.31 176.14a1.5 1.5 0 1 0 3 0a1.5 1.5 0 1 0-3 0M446.31 187.63a1.5 1.5 0 1 0 3 0a1.5 1.5 0 1 0-3 0M446.31 199.12a1.5 1.5 0 1 0 3 0a1.5 1.5 0 1 0-3 0M446.31 210.60a1.5 1.5 0 1 0 3 0a1.5 1.5 0 1 0-3 0M446.31 222.09a1.5 1.5 0 1 0 3 0a1.5 1.5 0 1 0-3 0M446.31 233.57a1.5 1.5 0 1 0 3 0a1.5 1.5 0 1 0-3 0M446.31 245.05a1.5 1.5 0 1 0 3 0a1.5 1.5 0 1 0-3 0M446.31 256.54a1.5 1.5 0 1 0 3 0a1.5 1.5 0 1 0-3 0M446.31 268.02a1.5 1.5 0 1 0 3 0a1.5 1.5 0 1 0-3 0M446.31 279.51a1.5 1.5 0 1 0 3 0a1.5 1.5 0 1 0-3 0M446.31 291.00a1.5 1.5 0 1 0 3 0a1.5 1.5 0 1 0-3 0M446.31 302.48a1.5 1.5 0 1 0 3 0a1.5 1.5 0 1 0-3 0M446.31 313.97a1.5 1.5 0 1 0 3 0a1.5 1.5 0 1 0-3 0M446.31 325.45a1.5 1.5 0 1 0 3 0a1.5 1.5 0 1 0-3 0M446.31 336.93a1.5 1.5 0 1 0 3 0a1.5 1.5 0 1 0-3 0M446.31 348.42a1.5 1.5 0 1 0 3 0a1.5 1.5 0 1 0-3 0M446.31 359.90a1.5 1.5 0 1 0 3 0a1.5 1.5 0 1 0-3 0M446.31 371.39a1.5 1.5 0 1 0 3 0a1.5 1.5 0 1 0-3 0M457.80 72.78a1.5 1.5 0 1 0 3 0a1.5 1.5 0 1 0-3 0M457.80 84.27a1.5 1.5 0 1 0 3 0a1.5 1.5 0 1 0-3 0M457.80 95.75a1.5 1.5 0 1 0 3 0a1.5 1.5 0 1 0-3 0M457.80 107.23a1.5 1.5 0 1 0 3 0a1.5 1.5 0 1 0-3 0M457.80 118.72a1.5 1.5 0 1 0 3 0a1.5 1.5 0 1 0-3 0M457.80 130.20a1.5 1.5 0 1 0 3 0a1.5 1.5 0 1 0-3 0M457.80 141.69a1.5 1.5 0 1 0 3 0a1.5 1.5 0 1 0-3 0M457.80 153.18a1.5 1.5 0 1 0 3 0a1.5 1.5 0 1 0-3 0M457.80 164.66a1.5 1.5 0 1 0 3 0a1.5 1.5 0 1 0-3 0M457.80 176.14a1.5 1.5 0 1 0 3 0a1.5 1.5 0 1 0-3 0M457.80 187.63a1.5 1.5 0 1 0 3 0a1.5 1.5 0 1 0-3 0M457.80 199.12a1.5 1.5 0 1 0 3 0a1.5 1.5 0 1 0-3 0M457.80 210.60a1.5 1.5 0 1 0 3 0a1.5 1.5 0 1 0-3 0M457.80 222.09a1.5 1.5 0 1 0 3 0a1.5 1.5 0 1 0-3 0M457.80 233.57a1.5 1.5 0 1 0 3 0a1.5 1.5 0 1 0-3 0M457.80 245.05a1.5 1.5 0 1 0 3 0a1.5 1.5 0 1 0-3 0M457.80 256.54a1.5 1.5 0 1 0 3 0a1.5 1.5 0 1 0-3 0M457.80 268.02a1.5 1.5 0 1 0 3 0a1.5 1.5 0 1 0-3 0M457.80 279.51a1.5 1.5 0 1 0 3 0a1.5 1.5 0 1 0-3 0M457.80 291.00a1.5 1.5 0 1 0 3 0a1.5 1.5 0 1 0-3 0M457.80 302.48a1.5 1.5 0 1 0 3 0a1.5 1.5 0 1 0-3 0M457.80 313.97a1.5 1.5 0 1 0 3 0a1.5 1.5 0 1 0-3 0M457.80 325.45a1.5 1.5 0 1 0 3 0a1.5 1.5 0 1 0-3 0M457.80 336.93a1.5 1.5 0 1 0 3 0a1.5 1.5 0 1 0-3 0M457.80 348.42a1.5 1.5 0 1 0 3 0a1.5 1.5 0 1 0-3 0M457.80 359.90a1.5 1.5 0 1 0 3 0a1.5 1.5 0 1 0-3 0M457.80 371.39a1.5 1.5 0 1 0 3 0a1.5 1.5 0 1 0-3 0M469.28 72.78a1.5 1.5 0 1 0 3 0a1.5 1.5 0 1 0-3 0M469.28 84.27a1.5 1.5 0 1 0 3 0a1.5 1.5 0 1 0-3 0M469.28 95.75a1.5 1.5 0 1 0 3 0a1.5 1.5 0 1 0-3 0M469.28 107.23a1.5 1.5 0 1 0 3 0a1.5 1.5 0 1 0-3 0M469.28 118.72a1.5 1.5 0 1 0 3 0a1.5 1.5 0 1 0-3 0M469.28 130.20a1.5 1.5 0 1 0 3 0a1.5 1.5 0 1 0-3 0M469.28 141.69a1.5 1.5 0 1 0 3 0a1.5 1.5 0 1 0-3 0M469.28 153.18a1.5 1.5 0 1 0 3 0a1.5 1.5 0 1 0-3 0M469.28 164.66a1.5 1.5 0 1 0 3 0a1.5 1.5 0 1 0-3 0M469.28 176.14a1.5 1.5 0 1 0 3 0a1.5 1.5 0 1 0-3 0M469.28 187.63a1.5 1.5 0 1 0 3 0a1.5 1.5 0 1 0-3 0M469.28 199.12a1.5 1.5 0 1 0 3 0a1.5 1.5 0 1 0-3 0M469.28 210.60a1.5 1.5 0 1 0 3 0a1.5 1.5 0 1 0-3 0M469.28 222.09a1.5 1.5 0 1 0 3 0a1.5 1.5 0 1 0-3 0M469.28 233.57a1.5 1.5 0 1 0 3 0a1.5 1.5 0 1 0-3 0M469.28 245.05a1.5 1.5 0 1 0 3 0a1.5 1.5 0 1 0-3 0M469.28 256.54a1.5 1.5 0 1 0 3 0a1.5 1.5 0 1 0-3 0M469.28 268.02a1.5 1.5 0 1 0 3 0a1.5 1.5 0 1 0-3 0M469.28 279.51a1.5 1.5 0 1 0 3 0a1.5 1.5 0 1 0-3 0M469.28 291.00a1.5 1.5 0 1 0 3 0a1.5 1.5 0 1 0-3 0M469.28 302.48a1.5 1.5 0 1 0 3 0a1.5 1.5 0 1 0-3 0M469.28 313.97a1.5 1.5 0 1 0 3 0a1.5 1.5 0 1 0-3 0M469.28 325.45a1.5 1.5 0 1 0 3 0a1.5 1.5 0 1 0-3 0M469.28 336.93a1.5 1.5 0 1 0 3 0a1.5 1.5 0 1 0-3 0M469.28 348.42a1.5 1.5 0 1 0 3 0a1.5 1.5 0 1 0-3 0M469.28 359.90a1.5 1.5 0 1 0 3 0a1.5 1.5 0 1 0-3 0M469.28 371.39a1.5 1.5 0 1 0 3 0a1.5 1.5 0 1 0-3 0M480.77 72.78a1.5 1.5 0 1 0 3 0a1.5 1.5 0 1 0-3 0M480.77 84.27a1.5 1.5 0 1 0 3 0a1.5 1.5 0 1 0-3 0M480.77 95.75a1.5 1.5 0 1 0 3 0a1.5 1.5 0 1 0-3 0M480.77 107.23a1.5 1.5 0 1 0 3 0a1.5 1.5 0 1 0-3 0M480.77 118.72a1.5 1.5 0 1 0 3 0a1.5 1.5 0 1 0-3 0M480.77 130.20a1.5 1.5 0 1 0 3 0a1.5 1.5 0 1 0-3 0M480.77 141.69a1.5 1.5 0 1 0 3 0a1.5 1.5 0 1 0-3 0M480.77 153.18a1.5 1.5 0 1 0 3 0a1.5 1.5 0 1 0-3 0M480.77 164.66a1.5 1.5 0 1 0 3 0a1.5 1.5 0 1 0-3 0M480.77 176.14a1.5 1.5 0 1 0 3 0a1.5 1.5 0 1 0-3 0M480.77 187.63a1.5 1.5 0 1 0 3 0a1.5 1.5 0 1 0-3 0M480.77 199.12a1.5 1.5 0 1 0 3 0a1.5 1.5 0 1 0-3 0M480.77 210.60a1.5 1.5 0 1 0 3 0a1.5 1.5 0 1 0-3 0M480.77 222.09a1.5 1.5 0 1 0 3 0a1.5 1.5 0 1 0-3 0M480.77 233.57a1.5 1.5 0 1 0 3 0a1.5 1.5 0 1 0-3 0M480.77 245.05a1.5 1.5 0 1 0 3 0a1.5 1.5 0 1 0-3 0M480.77 256.54a1.5 1.5 0 1 0 3 0a1.5 1.5 0 1 0-3 0M480.77 268.02a1.5 1.5 0 1 0 3 0a1.5 1.5 0 1 0-3 0M480.77 279.51a1.5 1.5 0 1 0 3 0a1.5 1.5 0 1 0-3 0M480.77 291.00a1.5 1.5 0 1 0 3 0a1.5 1.5 0 1 0-3 0M480.77 302.48a1.5 1.5 0 1 0 3 0a1.5 1.5 0 1 0-3 0M480.77 313.97a1.5 1.5 0 1 0 3 0a1.5 1.5 0 1 0-3 0M480.77 325.45a1.5 1.5 0 1 0 3 0a1.5 1.5 0 1 0-3 0M480.77 336.93a1.5 1.5 0 1 0 3 0a1.5 1.5 0 1 0-3 0M480.77 348.42a1.5 1.5 0 1 0 3 0a1.5 1.5 0 1 0-3 0M480.77 359.90a1.5 1.5 0 1 0 3 0a1.5 1.5 0 1 0-3 0M480.77 371.39a1.5 1.5 0 1 0 3 0a1.5 1.5 0 1 0-3 0M492.25 72.78a1.5 1.5 0 1 0 3 0a1.5 1.5 0 1 0-3 0M492.25 84.27a1.5 1.5 0 1 0 3 0a1.5 1.5 0 1 0-3 0M492.25 95.75a1.5 1.5 0 1 0 3 0a1.5 1.5 0 1 0-3 0M492.25 107.23a1.5 1.5 0 1 0 3 0a1.5 1.5 0 1 0-3 0M492.25 118.72a1.5 1.5 0 1 0 3 0a1.5 1.5 0 1 0-3 0M492.25 130.20a1.5 1.5 0 1 0 3 0a1.5 1.5 0 1 0-3 0M492.25 141.69a1.5 1.5 0 1 0 3 0a1.5 1.5 0 1 0-3 0M492.25 153.18a1.5 1.5 0 1 0 3 0a1.5 1.5 0 1 0-3 0M492.25 164.66a1.5 1.5 0 1 0 3 0a1.5 1.5 0 1 0-3 0M492.25 176.14a1.5 1.5 0 1 0 3 0a1.5 1.5 0 1 0-3 0M492.25 187.63a1.5 1.5 0 1 0 3 0a1.5 1.5 0 1 0-3 0M492.25 199.12a1.5 1.5 0 1 0 3 0a1.5 1.5 0 1 0-3 0M492.25 210.60a1.5 1.5 0 1 0 3 0a1.5 1.5 0 1 0-3 0M492.25 222.09a1.5 1.5 0 1 0 3 0a1.5 1.5 0 1 0-3 0M492.25 233.57a1.5 1.5 0 1 0 3 0a1.5 1.5 0 1 0-3 0M492.25 245.05a1.5 1.5 0 1 0 3 0a1.5 1.5 0 1 0-3 0M492.25 256.54a1.5 1.5 0 1 0 3 0a1.5 1.5 0 1 0-3 0M492.25 268.02a1.5 1.5 0 1 0 3 0a1.5 1.5 0 1 0-3 0M492.25 279.51a1.5 1.5 0 1 0 3 0a1.5 1.5 0 1 0-3 0M492.25 291.00a1.5 1.5 0 1 0 3 0a1.5 1.5 0 1 0-3 0M492.25 302.48a1.5 1.5 0 1 0 3 0a1.5 1.5 0 1 0-3 0M492.25 313.97a1.5 1.5 0 1 0 3 0a1.5 1.5 0 1 0-3 0M492.25 325.45a1.5 1.5 0 1 0 3 0a1.5 1.5 0 1 0-3 0M492.25 336.93a1.5 1.5 0 1 0 3 0a1.5 1.5 0 1 0-3 0M492.25 348.42a1.5 1.5 0 1 0 3 0a1.5 1.5 0 1 0-3 0M492.25 359.90a1.5 1.5 0 1 0 3 0a1.5 1.5 0 1 0-3 0M492.25 371.39a1.5 1.5 0 1 0 3 0a1.5 1.5 0 1 0-3 0M503.74 72.78a1.5 1.5 0 1 0 3 0a1.5 1.5 0 1 0-3 0M503.74 84.27a1.5 1.5 0 1 0 3 0a1.5 1.5 0 1 0-3 0M503.74 95.75a1.5 1.5 0 1 0 3 0a1.5 1.5 0 1 0-3 0M503.74 107.23a1.5 1.5 0 1 0 3 0a1.5 1.5 0 1 0-3 0M503.74 118.72a1.5 1.5 0 1 0 3 0a1.5 1.5 0 1 0-3 0M503.74 130.20a1.5 1.5 0 1 0 3 0a1.5 1.5 0 1 0-3 0M503.74 141.69a1.5 1.5 0 1 0 3 0a1.5 1.5 0 1 0-3 0M503.74 153.18a1.5 1.5 0 1 0 3 0a1.5 1.5 0 1 0-3 0M503.74 164.66a1.5 1.5 0 1 0 3 0a1.5 1.5 0 1 0-3 0M503.74 176.14a1.5 1.5 0 1 0 3 0a1.5 1.5 0 1 0-3 0M503.74 187.63a1.5 1.5 0 1 0 3 0a1.5 1.5 0 1 0-3 0M503.74 199.12a1.5 1.5 0 1 0 3 0a1.5 1.5 0 1 0-3 0M503.74 210.60a1.5 1.5 0 1 0 3 0a1.5 1.5 0 1 0-3 0M503.74 222.09a1.5 1.5 0 1 0 3 0a1.5 1.5 0 1 0-3 0M503.74 233.57a1.5 1.5 0 1 0 3 0a1.5 1.5 0 1 0-3 0M503.74 245.05a1.5 1.5 0 1 0 3 0a1.5 1.5 0 1 0-3 0M503.74 256.54a1.5 1.5 0 1 0 3 0a1.5 1.5 0 1 0-3 0M503.74 268.02a1.5 1.5 0 1 0 3 0a1.5 1.5 0 1 0-3 0M503.74 279.51a1.5 1.5 0 1 0 3 0a1.5 1.5 0 1 0-3 0M503.74 291.00a1.5 1.5 0 1 0 3 0a1.5 1.5 0 1 0-3 0M503.74 302.48a1.5 1.5 0 1 0 3 0a1.5 1.5 0 1 0-3 0M503.74 313.97a1.5 1.5 0 1 0 3 0a1.5 1.5 0 1 0-3 0M503.74 325.45a1.5 1.5 0 1 0 3 0a1.5 1.5 0 1 0-3 0M503.74 336.93a1.5 1.5 0 1 0 3 0a1.5 1.5 0 1 0-3 0M503.74 348.42a1.5 1.5 0 1 0 3 0a1.5 1.5 0 1 0-3 0M503.74 359.90a1.5 1.5 0 1 0 3 0a1.5 1.5 0 1 0-3 0M503.74 371.39a1.5 1.5 0 1 0 3 0a1.5 1.5 0 1 0-3 0M515.23 72.78a1.5 1.5 0 1 0 3 0a1.5 1.5 0 1 0-3 0M515.23 84.27a1.5 1.5 0 1 0 3 0a1.5 1.5 0 1 0-3 0M515.23 95.75a1.5 1.5 0 1 0 3 0a1.5 1.5 0 1 0-3 0M515.23 107.23a1.5 1.5 0 1 0 3 0a1.5 1.5 0 1 0-3 0M515.23 118.72a1.5 1.5 0 1 0 3 0a1.5 1.5 0 1 0-3 0M515.23 130.20a1.5 1.5 0 1 0 3 0a1.5 1.5 0 1 0-3 0M515.23 141.69a1.5 1.5 0 1 0 3 0a1.5 1.5 0 1 0-3 0M515.23 153.18a1.5 1.5 0 1 0 3 0a1.5 1.5 0 1 0-3 0M515.23 164.66a1.5 1.5 0 1 0 3 0a1.5 1.5 0 1 0-3 0M515.23 176.14a1.5 1.5 0 1 0 3 0a1.5 1.5 0 1 0-3 0M515.23 187.63a1.5 1.5 0 1 0 3 0a1.5 1.5 0 1 0-3 0M515.23 199.12a1.5 1.5 0 1 0 3 0a1.5 1.5 0 1 0-3 0M515.23 210.60a1.5 1.5 0 1 0 3 0a1.5 1.5 0 1 0-3 0M515.23 222.09a1.5 1.5 0 1 0 3 0a1.5 1.5 0 1 0-3 0M515.23 233.57a1.5 1.5 0 1 0 3 0a1.5 1.5 0 1 0-3 0M515.23 245.05a1.5 1.5 0 1 0 3 0a1.5 1.5 0 1 0-3 0M515.23 256.54a1.5 1.5 0 1 0 3 0a1.5 1.5 0 1 0-3 0M515.23 268.02a1.5 1.5 0 1 0 3 0a1.5 1.5 0 1 0-3 0M515.23 279.51a1.5 1.5 0 1 0 3 0a1.5 1.5 0 1 0-3 0M515.23 291.00a1.5 1.5 0 1 0 3 0a1.5 1.5 0 1 0-3 0M515.23 302.48a1.5 1.5 0 1 0 3 0a1.5 1.5 0 1 0-3 0M515.23 313.97a1.5 1.5 0 1 0 3 0a1.5 1.5 0 1 0-3 0M515.23 325.45a1.5 1.5 0 1 0 3 0a1.5 1.5 0 1 0-3 0M515.23 336.93a1.5 1.5 0 1 0 3 0a1.5 1.5 0 1 0-3 0M515.23 348.42a1.5 1.5 0 1 0 3 0a1.5 1.5 0 1 0-3 0M515.23 359.90a1.5 1.5 0 1 0 3 0a1.5 1.5 0 1 0-3 0M515.23 371.39a1.5 1.5 0 1 0 3 0a1.5 1.5 0 1 0-3 0M526.71 72.78a1.5 1.5 0 1 0 3 0a1.5 1.5 0 1 0-3 0M526.71 84.27a1.5 1.5 0 1 0 3 0a1.5 1.5 0 1 0-3 0M526.71 95.75a1.5 1.5 0 1 0 3 0a1.5 1.5 0 1 0-3 0M526.71 107.23a1.5 1.5 0 1 0 3 0a1.5 1.5 0 1 0-3 0M526.71 118.72a1.5 1.5 0 1 0 3 0a1.5 1.5 0 1 0-3 0M526.71 130.20a1.5 1.5 0 1 0 3 0a1.5 1.5 0 1 0-3 0M526.71 141.69a1.5 1.5 0 1 0 3 0a1.5 1.5 0 1 0-3 0M526.71 153.18a1.5 1.5 0 1 0 3 0a1.5 1.5 0 1 0-3 0M526.71 164.66a1.5 1.5 0 1 0 3 0a1.5 1.5 0 1 0-3 0M526.71 176.14a1.5 1.5 0 1 0 3 0a1.5 1.5 0 1 0-3 0M526.71 187.63a1.5 1.5 0 1 0 3 0a1.5 1.5 0 1 0-3 0M526.71 199.12a1.5 1.5 0 1 0 3 0a1.5 1.5 0 1 0-3 0M526.71 210.60a1.5 1.5 0 1 0 3 0a1.5 1.5 0 1 0-3 0M526.71 222.09a1.5 1.5 0 1 0 3 0a1.5 1.5 0 1 0-3 0M526.71 233.57a1.5 1.5 0 1 0 3 0a1.5 1.5 0 1 0-3 0M526.71 245.05a1.5 1.5 0 1 0 3 0a1.5 1.5 0 1 0-3 0M526.71 256.54a1.5 1.5 0 1 0 3 0a1.5 1.5 0 1 0-3 0M526.71 268.02a1.5 1.5 0 1 0 3 0a1.5 1.5 0 1 0-3 0M526.71 279.51a1.5 1.5 0 1 0 3 0a1.5 1.5 0 1 0-3 0M526.71 291.00a1.5 1.5 0 1 0 3 0a1.5 1.5 0 1 0-3 0M526.71 302.48a1.5 1.5 0 1 0 3 0a1.5 1.5 0 1 0-3 0M526.71 313.97a1.5 1.5 0 1 0 3 0a1.5 1.5 0 1 0-3 0M526.71 325.45a1.5 1.5 0 1 0 3 0a1.5 1.5 0 1 0-3 0M526.71 336.93a1.5 1.5 0 1 0 3 0a1.5 1.5 0 1 0-3 0M526.71 348.42a1.5 1.5 0 1 0 3 0a1.5 1.5 0 1 0-3 0M526.71 359.90a1.5 1.5 0 1 0 3 0a1.5 1.5 0 1 0-3 0M526.71 371.39a1.5 1.5 0 1 0 3 0a1.5 1.5 0 1 0-3 0M538.19 72.78a1.5 1.5 0 1 0 3 0a1.5 1.5 0 1 0-3 0M538.19 84.27a1.5 1.5 0 1 0 3 0a1.5 1.5 0 1 0-3 0M538.19 95.75a1.5 1.5 0 1 0 3 0a1.5 1.5 0 1 0-3 0M538.19 107.23a1.5 1.5 0 1 0 3 0a1.5 1.5 0 1 0-3 0M538.19 118.72a1.5 1.5 0 1 0 3 0a1.5 1.5 0 1 0-3 0M538.19 130.20a1.5 1.5 0 1 0 3 0a1.5 1.5 0 1 0-3 0M538.19 141.69a1.5 1.5 0 1 0 3 0a1.5 1.5 0 1 0-3 0M538.19 153.18a1.5 1.5 0 1 0 3 0a1.5 1.5 0 1 0-3 0M538.19 164.66a1.5 1.5 0 1 0 3 0a1.5 1.5 0 1 0-3 0M538.19 176.14a1.5 1.5 0 1 0 3 0a1.5 1.5 0 1 0-3 0M538.19 187.63a1.5 1.5 0 1 0 3 0a1.5 1.5 0 1 0-3 0M538.19 199.12a1.5 1.5 0 1 0 3 0a1.5 1.5 0 1 0-3 0M538.19 210.60a1.5 1.5 0 1 0 3 0a1.5 1.5 0 1 0-3 0M538.19 222.09a1.5 1.5 0 1 0 3 0a1.5 1.5 0 1 0-3 0M538.19 233.57a1.5 1.5 0 1 0 3 0a1.5 1.5 0 1 0-3 0M538.19 245.05a1.5 1.5 0 1 0 3 0a1.5 1.5 0 1 0-3 0M538.19 256.54a1.5 1.5 0 1 0 3 0a1.5 1.5 0 1 0-3 0M538.19 268.02a1.5 1.5 0 1 0 3 0a1.5 1.5 0 1 0-3 0M538.19 279.51a1.5 1.5 0 1 0 3 0a1.5 1.5 0 1 0-3 0M538.19 291.00a1.5 1.5 0 1 0 3 0a1.5 1.5 0 1 0-3 0M538.19 302.48a1.5 1.5 0 1 0 3 0a1.5 1.5 0 1 0-3 0M538.19 313.97a1.5 1.5 0 1 0 3 0a1.5 1.5 0 1 0-3 0M538.19 325.45a1.5 1.5 0 1 0 3 0a1.5 1.5 0 1 0-3 0M538.19 336.93a1.5 1.5 0 1 0 3 0a1.5 1.5 0 1 0-3 0M538.19 348.42a1.5 1.5 0 1 0 3 0a1.5 1.5 0 1 0-3 0M538.19 359.90a1.5 1.5 0 1 0 3 0a1.5 1.5 0 1 0-3 0M538.19 371.39a1.5 1.5 0 1 0 3 0a1.5 1.5 0 1 0-3 0M549.68 72.78a1.5 1.5 0 1 0 3 0a1.5 1.5 0 1 0-3 0M549.68 84.27a1.5 1.5 0 1 0 3 0a1.5 1.5 0 1 0-3 0M549.68 95.75a1.5 1.5 0 1 0 3 0a1.5 1.5 0 1 0-3 0M549.68 107.23a1.5 1.5 0 1 0 3 0a1.5 1.5 0 1 0-3 0M549.68 118.72a1.5 1.5 0 1 0 3 0a1.5 1.5 0 1 0-3 0M549.68 130.20a1.5 1.5 0 1 0 3 0a1.5 1.5 0 1 0-3 0M549.68 141.69a1.5 1.5 0 1 0 3 0a1.5 1.5 0 1 0-3 0M549.68 153.18a1.5 1.5 0 1 0 3 0a1.5 1.5 0 1 0-3 0M549.68 164.66a1.5 1.5 0 1 0 3 0a1.5 1.5 0 1 0-3 0M549.68 176.14a1.5 1.5 0 1 0 3 0a1.5 1.5 0 1 0-3 0M549.68 187.63a1.5 1.5 0 1 0 3 0a1.5 1.5 0 1 0-3 0M549.68 199.12a1.5 1.5 0 1 0 3 0a1.5 1.5 0 1 0-3 0M549.68 210.60a1.5 1.5 0 1 0 3 0a1.5 1.5 0 1 0-3 0M549.68 222.09a1.5 1.5 0 1 0 3 0a1.5 1.5 0 1 0-3 0M549.68 233.57a1.5 1.5 0 1 0 3 0a1.5 1.5 0 1 0-3 0M549.68 245.05a1.5 1.5 0 1 0 3 0a1.5 1.5 0 1 0-3 0M549.68 256.54a1.5 1.5 0 1 0 3 0a1.5 1.5 0 1 0-3 0M549.68 268.02a1.5 1.5 0 1 0 3 0a1.5 1.5 0 1 0-3 0M549.68 279.51a1.5 1.5 0 1 0 3 0a1.5 1.5 0 1 0-3 0M549.68 291.00a1.5 1.5 0 1 0 3 0a1.5 1.5 0 1 0-3 0M549.68 302.48a1.5 1.5 0 1 0 3 0a1.5 1.5 0 1 0-3 0M549.68 313.97a1.5 1.5 0 1 0 3 0a1.5 1.5 0 1 0-3 0M549.68 325.45a1.5 1.5 0 1 0 3 0a1.5 1.5 0 1 0-3 0M549.68 336.93a1.5 1.5 0 1 0 3 0a1.5 1.5 0 1 0-3 0M549.68 348.42a1.5 1.5 0 1 0 3 0a1.5 1.5 0 1 0-3 0M549.68 359.90a1.5 1.5 0 1 0 3 0a1.5 1.5 0 1 0-3 0M549.68 371.39a1.5 1.5 0 1 0 3 0a1.5 1.5 0 1 0-3 0M561.16 72.78a1.5 1.5 0 1 0 3 0a1.5 1.5 0 1 0-3 0M561.16 84.27a1.5 1.5 0 1 0 3 0a1.5 1.5 0 1 0-3 0M561.16 95.75a1.5 1.5 0 1 0 3 0a1.5 1.5 0 1 0-3 0M561.16 107.23a1.5 1.5 0 1 0 3 0a1.5 1.5 0 1 0-3 0M561.16 118.72a1.5 1.5 0 1 0 3 0a1.5 1.5 0 1 0-3 0M561.16 130.20a1.5 1.5 0 1 0 3 0a1.5 1.5 0 1 0-3 0M561.16 141.69a1.5 1.5 0 1 0 3 0a1.5 1.5 0 1 0-3 0M561.16 153.18a1.5 1.5 0 1 0 3 0a1.5 1.5 0 1 0-3 0M561.16 164.66a1.5 1.5 0 1 0 3 0a1.5 1.5 0 1 0-3 0M561.16 176.14a1.5 1.5 0 1 0 3 0a1.5 1.5 0 1 0-3 0M561.16 187.63a1.5 1.5 0 1 0 3 0a1.5 1.5 0 1 0-3 0M561.16 199.12a1.5 1.5 0 1 0 3 0a1.5 1.5 0 1 0-3 0M561.16 210.60a1.5 1.5 0 1 0 3 0a1.5 1.5 0 1 0-3 0M561.16 222.09a1.5 1.5 0 1 0 3 0a1.5 1.5 0 1 0-3 0M561.16 233.57a1.5 1.5 0 1 0 3 0a1.5 1.5 0 1 0-3 0M561.16 245.05a1.5 1.5 0 1 0 3 0a1.5 1.5 0 1 0-3 0M561.16 256.54a1.5 1.5 0 1 0 3 0a1.5 1.5 0 1 0-3 0M561.16 268.02a1.5 1.5 0 1 0 3 0a1.5 1.5 0 1 0-3 0M561.16 279.51a1.5 1.5 0 1 0 3 0a1.5 1.5 0 1 0-3 0M561.16 291.00a1.5 1.5 0 1 0 3 0a1.5 1.5 0 1 0-3 0M561.16 302.48a1.5 1.5 0 1 0 3 0a1.5 1.5 0 1 0-3 0M561.16 313.97a1.5 1.5 0 1 0 3 0a1.5 1.5 0 1 0-3 0M561.16 325.45a1.5 1.5 0 1 0 3 0a1.5 1.5 0 1 0-3 0M561.16 336.93a1.5 1.5 0 1 0 3 0a1.5 1.5 0 1 0-3 0M561.16 348.42a1.5 1.5 0 1 0 3 0a1.5 1.5 0 1 0-3 0M561.16 359.90a1.5 1.5 0 1 0 3 0a1.5 1.5 0 1 0-3 0M561.16 371.39a1.5 1.5 0 1 0 3 0a1.5 1.5 0 1 0-3 0M572.65 72.78a1.5 1.5 0 1 0 3 0a1.5 1.5 0 1 0-3 0M572.65 84.27a1.5 1.5 0 1 0 3 0a1.5 1.5 0 1 0-3 0M572.65 95.75a1.5 1.5 0 1 0 3 0a1.5 1.5 0 1 0-3 0M572.65 107.23a1.5 1.5 0 1 0 3 0a1.5 1.5 0 1 0-3 0M572.65 118.72a1.5 1.5 0 1 0 3 0a1.5 1.5 0 1 0-3 0M572.65 130.20a1.5 1.5 0 1 0 3 0a1.5 1.5 0 1 0-3 0M572.65 141.69a1.5 1.5 0 1 0 3 0a1.5 1.5 0 1 0-3 0M572.65 153.18a1.5 1.5 0 1 0 3 0a1.5 1.5 0 1 0-3 0M572.65 164.66a1.5 1.5 0 1 0 3 0a1.5 1.5 0 1 0-3 0M572.65 176.14a1.5 1.5 0 1 0 3 0a1.5 1.5 0 1 0-3 0M572.65 187.63a1.5 1.5 0 1 0 3 0a1.5 1.5 0 1 0-3 0M572.65 199.12a1.5 1.5 0 1 0 3 0a1.5 1.5 0 1 0-3 0M572.65 210.60a1.5 1.5 0 1 0 3 0a1.5 1.5 0 1 0-3 0M572.65 222.09a1.5 1.5 0 1 0 3 0a1.5 1.5 0 1 0-3 0M572.65 233.57a1.5 1.5 0 1 0 3 0a1.5 1.5 0 1 0-3 0M572.65 245.05a1.5 1.5 0 1 0 3 0a1.5 1.5 0 1 0-3 0M572.65 256.54a1.5 1.5 0 1 0 3 0a1.5 1.5 0 1 0-3 0M572.65 268.02a1.5 1.5 0 1 0 3 0a1.5 1.5 0 1 0-3 0M572.65 279.51a1.5 1.5 0 1 0 3 0a1.5 1.5 0 1 0-3 0M572.65 291.00a1.5 1.5 0 1 0 3 0a1.5 1.5 0 1 0-3 0M572.65 302.48a1.5 1.5 0 1 0 3 0a1.5 1.5 0 1 0-3 0M572.65 313.97a1.5 1.5 0 1 0 3 0a1.5 1.5 0 1 0-3 0M572.65 325.45a1.5 1.5 0 1 0 3 0a1.5 1.5 0 1 0-3 0M572.65 336.93a1.5 1.5 0 1 0 3 0a1.5 1.5 0 1 0-3 0M572.65 348.42a1.5 1.5 0 1 0 3 0a1.5 1.5 0 1 0-3 0M572.65 359.90a1.5 1.5 0 1 0 3 0a1.5 1.5 0 1 0-3 0M572.65 371.39a1.5 1.5 0 1 0 3 0a1.5 1.5 0 1 0-3 0M584.13 72.78a1.5 1.5 0 1 0 3 0a1.5 1.5 0 1 0-3 0M584.13 84.27a1.5 1.5 0 1 0 3 0a1.5 1.5 0 1 0-3 0M584.13 95.75a1.5 1.5 0 1 0 3 0a1.5 1.5 0 1 0-3 0M584.13 107.23a1.5 1.5 0 1 0 3 0a1.5 1.5 0 1 0-3 0M584.13 118.72a1.5 1.5 0 1 0 3 0a1.5 1.5 0 1 0-3 0M584.13 130.20a1.5 1.5 0 1 0 3 0a1.5 1.5 0 1 0-3 0M584.13 141.69a1.5 1.5 0 1 0 3 0a1.5 1.5 0 1 0-3 0M584.13 153.18a1.5 1.5 0 1 0 3 0a1.5 1.5 0 1 0-3 0M584.13 164.66a1.5 1.5 0 1 0 3 0a1.5 1.5 0 1 0-3 0M584.13 176.14a1.5 1.5 0 1 0 3 0a1.5 1.5 0 1 0-3 0M584.13 187.63a1.5 1.5 0 1 0 3 0a1.5 1.5 0 1 0-3 0M584.13 199.12a1.5 1.5 0 1 0 3 0a1.5 1.5 0 1 0-3 0M584.13 210.60a1.5 1.5 0 1 0 3 0a1.5 1.5 0 1 0-3 0M584.13 222.09a1.5 1.5 0 1 0 3 0a1.5 1.5 0 1 0-3 0M584.13 233.57a1.5 1.5 0 1 0 3 0a1.5 1.5 0 1 0-3 0M584.13 245.05a1.5 1.5 0 1 0 3 0a1.5 1.5 0 1 0-3 0M584.13 256.54a1.5 1.5 0 1 0 3 0a1.5 1.5 0 1 0-3 0M584.13 268.02a1.5 1.5 0 1 0 3 0a1.5 1.5 0 1 0-3 0M584.13 279.51a1.5 1.5 0 1 0 3 0a1.5 1.5 0 1 0-3 0M584.13 291.00a1.5 1.5 0 1 0 3 0a1.5 1.5 0 1 0-3 0M584.13 302.48a1.5 1.5 0 1 0 3 0a1.5 1.5 0 1 0-3 0M584.13 313.97a1.5 1.5 0 1 0 3 0a1.5 1.5 0 1 0-3 0M584.13 325.45a1.5 1.5 0 1 0 3 0a1.5 1.5 0 1 0-3 0M584.13 336.93a1.5 1.5 0 1 0 3 0a1.5 1.5 0 1 0-3 0M584.13 348.42a1.5 1.5 0 1 0 3 0a1.5 1.5 0 1 0-3 0M584.13 359.90a1.5 1.5 0 1 0 3 0a1.5 1.5 0 1 0-3 0M584.13 371.39a1.5 1.5 0 1 0 3 0a1.5 1.5 0 1 0-3 0M595.62 72.78a1.5 1.5 0 1 0 3 0a1.5 1.5 0 1 0-3 0M595.62 84.27a1.5 1.5 0 1 0 3 0a1.5 1.5 0 1 0-3 0M595.62 95.75a1.5 1.5 0 1 0 3 0a1.5 1.5 0 1 0-3 0M595.62 107.23a1.5 1.5 0 1 0 3 0a1.5 1.5 0 1 0-3 0M595.62 118.72a1.5 1.5 0 1 0 3 0a1.5 1.5 0 1 0-3 0M595.62 130.20a1.5 1.5 0 1 0 3 0a1.5 1.5 0 1 0-3 0M595.62 141.69a1.5 1.5 0 1 0 3 0a1.5 1.5 0 1 0-3 0M595.62 153.18a1.5 1.5 0 1 0 3 0a1.5 1.5 0 1 0-3 0M595.62 164.66a1.5 1.5 0 1 0 3 0a1.5 1.5 0 1 0-3 0M595.62 176.14a1.5 1.5 0 1 0 3 0a1.5 1.5 0 1 0-3 0M595.62 187.63a1.5 1.5 0 1 0 3 0a1.5 1.5 0 1 0-3 0M595.62 199.12a1.5 1.5 0 1 0 3 0a1.5 1.5 0 1 0-3 0M595.62 210.60a1.5 1.5 0 1 0 3 0a1.5 1.5 0 1 0-3 0M595.62 222.09a1.5 1.5 0 1 0 3 0a1.5 1.5 0 1 0-3 0M595.62 233.57a1.5 1.5 0 1 0 3 0a1.5 1.5 0 1 0-3 0M595.62 245.05a1.5 1.5 0 1 0 3 0a1.5 1.5 0 1 0-3 0M595.62 256.54a1.5 1.5 0 1 0 3 0a1.5 1.5 0 1 0-3 0M595.62 268.02a1.5 1.5 0 1 0 3 0a1.5 1.5 0 1 0-3 0M595.62 279.51a1.5 1.5 0 1 0 3 0a1.5 1.5 0 1 0-3 0M595.62 291.00a1.5 1.5 0 1 0 3 0a1.5 1.5 0 1 0-3 0M595.62 302.48a1.5 1.5 0 1 0 3 0a1.5 1.5 0 1 0-3 0M595.62 313.97a1.5 1.5 0 1 0 3 0a1.5 1.5 0 1 0-3 0M595.62 325.45a1.5 1.5 0 1 0 3 0a1.5 1.5 0 1 0-3 0M595.62 336.93a1.5 1.5 0 1 0 3 0a1.5 1.5 0 1 0-3 0M595.62 348.42a1.5 1.5 0 1 0 3 0a1.5 1.5 0 1 0-3 0M595.62 359.90a1.5 1.5 0 1 0 3 0a1.5 1.5 0 1 0-3 0M595.62 371.39a1.5 1.5 0 1 0 3 0a1.5 1.5 0 1 0-3 0M607.11 72.78a1.5 1.5 0 1 0 3 0a1.5 1.5 0 1 0-3 0M607.11 84.27a1.5 1.5 0 1 0 3 0a1.5 1.5 0 1 0-3 0M607.11 95.75a1.5 1.5 0 1 0 3 0a1.5 1.5 0 1 0-3 0M607.11 107.23a1.5 1.5 0 1 0 3 0a1.5 1.5 0 1 0-3 0M607.11 118.72a1.5 1.5 0 1 0 3 0a1.5 1.5 0 1 0-3 0M607.11 130.20a1.5 1.5 0 1 0 3 0a1.5 1.5 0 1 0-3 0M607.11 141.69a1.5 1.5 0 1 0 3 0a1.5 1.5 0 1 0-3 0M607.11 153.18a1.5 1.5 0 1 0 3 0a1.5 1.5 0 1 0-3 0M607.11 164.66a1.5 1.5 0 1 0 3 0a1.5 1.5 0 1 0-3 0M607.11 176.14a1.5 1.5 0 1 0 3 0a1.5 1.5 0 1 0-3 0M607.11 187.63a1.5 1.5 0 1 0 3 0a1.5 1.5 0 1 0-3 0M607.11 199.12a1.5 1.5 0 1 0 3 0a1.5 1.5 0 1 0-3 0M607.11 210.60a1.5 1.5 0 1 0 3 0a1.5 1.5 0 1 0-3 0M607.11 222.09a1.5 1.5 0 1 0 3 0a1.5 1.5 0 1 0-3 0M607.11 233.57a1.5 1.5 0 1 0 3 0a1.5 1.5 0 1 0-3 0M607.11 245.05a1.5 1.5 0 1 0 3 0a1.5 1.5 0 1 0-3 0M607.11 256.54a1.5 1.5 0 1 0 3 0a1.5 1.5 0 1 0-3 0M607.11 268.02a1.5 1.5 0 1 0 3 0a1.5 1.5 0 1 0-3 0M607.11 279.51a1.5 1.5 0 1 0 3 0a1.5 1.5 0 1 0-3 0M607.11 291.00a1.5 1.5 0 1 0 3 0a1.5 1.5 0 1 0-3 0M607.11 302.48a1.5 1.5 0 1 0 3 0a1.5 1.5 0 1 0-3 0M607.11 313.97a1.5 1.5 0 1 0 3 0a1.5 1.5 0 1 0-3 0M607.11 325.45a1.5 1.5 0 1 0 3 0a1.5 1.5 0 1 0-3 0M607.11 336.93a1.5 1.5 0 1 0 3 0a1.5 1.5 0 1 0-3 0M607.11 348.42a1.5 1.5 0 1 0 3 0a1.5 1.5 0 1 0-3 0M607.11 359.90a1.5 1.5 0 1 0 3 0a1.5 1.5 0 1 0-3 0M607.11 371.39a1.5 1.5 0 1 0 3 0a1.5 1.5 0 1 0-3 0M618.59 72.78a1.5 1.5 0 1 0 3 0a1.5 1.5 0 1 0-3 0M618.59 84.27a1.5 1.5 0 1 0 3 0a1.5 1.5 0 1 0-3 0M618.59 95.75a1.5 1.5 0 1 0 3 0a1.5 1.5 0 1 0-3 0M618.59 107.23a1.5 1.5 0 1 0 3 0a1.5 1.5 0 1 0-3 0M618.59 118.72a1.5 1.5 0 1 0 3 0a1.5 1.5 0 1 0-3 0M618.59 130.20a1.5 1.5 0 1 0 3 0a1.5 1.5 0 1 0-3 0M618.59 141.69a1.5 1.5 0 1 0 3 0a1.5 1.5 0 1 0-3 0M618.59 153.18a1.5 1.5 0 1 0 3 0a1.5 1.5 0 1 0-3 0M618.59 164.66a1.5 1.5 0 1 0 3 0a1.5 1.5 0 1 0-3 0M618.59 176.14a1.5 1.5 0 1 0 3 0a1.5 1.5 0 1 0-3 0M618.59 187.63a1.5 1.5 0 1 0 3 0a1.5 1.5 0 1 0-3 0M618.59 199.12a1.5 1.5 0 1 0 3 0a1.5 1.5 0 1 0-3 0M618.59 210.60a1.5 1.5 0 1 0 3 0a1.5 1.5 0 1 0-3 0M618.59 222.09a1.5 1.5 0 1 0 3 0a1.5 1.5 0 1 0-3 0M618.59 233.57a1.5 1.5 0 1 0 3 0a1.5 1.5 0 1 0-3 0M618.59 245.05a1.5 1.5 0 1 0 3 0a1.5 1.5 0 1 0-3 0M618.59 256.54a1.5 1.5 0 1 0 3 0a1.5 1.5 0 1 0-3 0M618.59 268.02a1.5 1.5 0 1 0 3 0a1.5 1.5 0 1 0-3 0M618.59 279.51a1.5 1.5 0 1 0 3 0a1.5 1.5 0 1 0-3 0M618.59 291.00a1.5 1.5 0 1 0 3 0a1.5 1.5 0 1 0-3 0M618.59 302.48a1.5 1.5 0 1 0 3 0a1.5 1.5 0 1 0-3 0M618.59 313.97a1.5 1.5 0 1 0 3 0a1.5 1.5 0 1 0-3 0M618.59 325.45a1.5 1.5 0 1 0 3 0a1.5 1.5 0 1 0-3 0M618.59 336.93a1.5 1.5 0 1 0 3 0a1.5 1.5 0 1 0-3 0M618.59 348.42a1.5 1.5 0 1 0 3 0a1.5 1.5 0 1 0-3 0M618.59 359.90a1.5 1.5 0 1 0 3 0a1.5 1.5 0 1 0-3 0M618.59 371.39a1.5 1.5 0 1 0 3 0a1.5 1.5 0 1 0-3 0M630.08 72.78a1.5 1.5 0 1 0 3 0a1.5 1.5 0 1 0-3 0M630.08 84.27a1.5 1.5 0 1 0 3 0a1.5 1.5 0 1 0-3 0M630.08 95.75a1.5 1.5 0 1 0 3 0a1.5 1.5 0 1 0-3 0M630.08 107.23a1.5 1.5 0 1 0 3 0a1.5 1.5 0 1 0-3 0M630.08 118.72a1.5 1.5 0 1 0 3 0a1.5 1.5 0 1 0-3 0M630.08 130.20a1.5 1.5 0 1 0 3 0a1.5 1.5 0 1 0-3 0M630.08 141.69a1.5 1.5 0 1 0 3 0a1.5 1.5 0 1 0-3 0M630.08 153.18a1.5 1.5 0 1 0 3 0a1.5 1.5 0 1 0-3 0M630.08 164.66a1.5 1.5 0 1 0 3 0a1.5 1.5 0 1 0-3 0M630.08 176.14a1.5 1.5 0 1 0 3 0a1.5 1.5 0 1 0-3 0M630.08 187.63a1.5 1.5 0 1 0 3 0a1.5 1.5 0 1 0-3 0M630.08 199.12a1.5 1.5 0 1 0 3 0a1.5 1.5 0 1 0-3 0M630.08 210.60a1.5 1.5 0 1 0 3 0a1.5 1.5 0 1 0-3 0M630.08 222.09a1.5 1.5 0 1 0 3 0a1.5 1.5 0 1 0-3 0M630.08 233.57a1.5 1.5 0 1 0 3 0a1.5 1.5 0 1 0-3 0M630.08 245.05a1.5 1.5 0 1 0 3 0a1.5 1.5 0 1 0-3 0M630.08 256.54a1.5 1.5 0 1 0 3 0a1.5 1.5 0 1 0-3 0M630.08 268.02a1.5 1.5 0 1 0 3 0a1.5 1.5 0 1 0-3 0M630.08 279.51a1.5 1.5 0 1 0 3 0a1.5 1.5 0 1 0-3 0M630.08 291.00a1.5 1.5 0 1 0 3 0a1.5 1.5 0 1 0-3 0M630.08 302.48a1.5 1.5 0 1 0 3 0a1.5 1.5 0 1 0-3 0M630.08 313.97a1.5 1.5 0 1 0 3 0a1.5 1.5 0 1 0-3 0M630.08 325.45a1.5 1.5 0 1 0 3 0a1.5 1.5 0 1 0-3 0M630.08 336.93a1.5 1.5 0 1 0 3 0a1.5 1.5 0 1 0-3 0M630.08 348.42a1.5 1.5 0 1 0 3 0a1.5 1.5 0 1 0-3 0M630.08 359.90a1.5 1.5 0 1 0 3 0a1.5 1.5 0 1 0-3 0M630.08 371.39a1.5 1.5 0 1 0 3 0a1.5 1.5 0 1 0-3 0M641.56 72.78a1.5 1.5 0 1 0 3 0a1.5 1.5 0 1 0-3 0M641.56 84.27a1.5 1.5 0 1 0 3 0a1.5 1.5 0 1 0-3 0M641.56 95.75a1.5 1.5 0 1 0 3 0a1.5 1.5 0 1 0-3 0M641.56 107.23a1.5 1.5 0 1 0 3 0a1.5 1.5 0 1 0-3 0M641.56 118.72a1.5 1.5 0 1 0 3 0a1.5 1.5 0 1 0-3 0M641.56 130.20a1.5 1.5 0 1 0 3 0a1.5 1.5 0 1 0-3 0M641.56 141.69a1.5 1.5 0 1 0 3 0a1.5 1.5 0 1 0-3 0M641.56 153.18a1.5 1.5 0 1 0 3 0a1.5 1.5 0 1 0-3 0M641.56 164.66a1.5 1.5 0 1 0 3 0a1.5 1.5 0 1 0-3 0M641.56 176.14a1.5 1.5 0 1 0 3 0a1.5 1.5 0 1 0-3 0M641.56 187.63a1.5 1.5 0 1 0 3 0a1.5 1.5 0 1 0-3 0M641.56 199.12a1.5 1.5 0 1 0 3 0a1.5 1.5 0 1 0-3 0M641.56 210.60a1.5 1.5 0 1 0 3 0a1.5 1.5 0 1 0-3 0M641.56 222.09a1.5 1.5 0 1 0 3 0a1.5 1.5 0 1 0-3 0M641.56 233.57a1.5 1.5 0 1 0 3 0a1.5 1.5 0 1 0-3 0M641.56 245.05a1.5 1.5 0 1 0 3 0a1.5 1.5 0 1 0-3 0M641.56 256.54a1.5 1.5 0 1 0 3 0a1.5 1.5 0 1 0-3 0M641.56 268.02a1.5 1.5 0 1 0 3 0a1.5 1.5 0 1 0-3 0M641.56 279.51a1.5 1.5 0 1 0 3 0a1.5 1.5 0 1 0-3 0M641.56 291.00a1.5 1.5 0 1 0 3 0a1.5 1.5 0 1 0-3 0M641.56 302.48a1.5 1.5 0 1 0 3 0a1.5 1.5 0 1 0-3 0M641.56 313.97a1.5 1.5 0 1 0 3 0a1.5 1.5 0 1 0-3 0M641.56 325.45a1.5 1.5 0 1 0 3 0a1.5 1.5 0 1 0-3 0M641.56 336.93a1.5 1.5 0 1 0 3 0a1.5 1.5 0 1 0-3 0M641.56 348.42a1.5 1.5 0 1 0 3 0a1.5 1.5 0 1 0-3 0M641.56 359.90a1.5 1.5 0 1 0 3 0a1.5 1.5 0 1 0-3 0M641.56 371.39a1.5 1.5 0 1 0 3 0a1.5 1.5 0 1 0-3 0M653.04 72.78a1.5 1.5 0 1 0 3 0a1.5 1.5 0 1 0-3 0M653.04 84.27a1.5 1.5 0 1 0 3 0a1.5 1.5 0 1 0-3 0M653.04 95.75a1.5 1.5 0 1 0 3 0a1.5 1.5 0 1 0-3 0M653.04 107.23a1.5 1.5 0 1 0 3 0a1.5 1.5 0 1 0-3 0M653.04 118.72a1.5 1.5 0 1 0 3 0a1.5 1.5 0 1 0-3 0M653.04 130.20a1.5 1.5 0 1 0 3 0a1.5 1.5 0 1 0-3 0M653.04 141.69a1.5 1.5 0 1 0 3 0a1.5 1.5 0 1 0-3 0M653.04 153.18a1.5 1.5 0 1 0 3 0a1.5 1.5 0 1 0-3 0M653.04 164.66a1.5 1.5 0 1 0 3 0a1.5 1.5 0 1 0-3 0M653.04 176.14a1.5 1.5 0 1 0 3 0a1.5 1.5 0 1 0-3 0M653.04 187.63a1.5 1.5 0 1 0 3 0a1.5 1.5 0 1 0-3 0M653.04 199.12a1.5 1.5 0 1 0 3 0a1.5 1.5 0 1 0-3 0M653.04 210.60a1.5 1.5 0 1 0 3 0a1.5 1.5 0 1 0-3 0M653.04 222.09a1.5 1.5 0 1 0 3 0a1.5 1.5 0 1 0-3 0M653.04 233.57a1.5 1.5 0 1 0 3 0a1.5 1.5 0 1 0-3 0M653.04 245.05a1.5 1.5 0 1 0 3 0a1.5 1.5 0 1 0-3 0M653.04 256.54a1.5 1.5 0 1 0 3 0a1.5 1.5 0 1 0-3 0M653.04 268.02a1.5 1.5 0 1 0 3 0a1.5 1.5 0 1 0-3 0M653.04 279.51a1.5 1.5 0 1 0 3 0a1.5 1.5 0 1 0-3 0M653.04 291.00a1.5 1.5 0 1 0 3 0a1.5 1.5 0 1 0-3 0M653.04 302.48a1.5 1.5 0 1 0 3 0a1.5 1.5 0 1 0-3 0M653.04 313.97a1.5 1.5 0 1 0 3 0a1.5 1.5 0 1 0-3 0M653.04 325.45a1.5 1.5 0 1 0 3 0a1.5 1.5 0 1 0-3 0M653.04 336.93a1.5 1.5 0 1 0 3 0a1.5 1.5 0 1 0-3 0M653.04 348.42a1.5 1.5 0 1 0 3 0a1.5 1.5 0 1 0-3 0M653.04 359.90a1.5 1.5 0 1 0 3 0a1.5 1.5 0 1 0-3 0M653.04 371.39a1.5 1.5 0 1 0 3 0a1.5 1.5 0 1 0-3 0M664.53 72.78a1.5 1.5 0 1 0 3 0a1.5 1.5 0 1 0-3 0M664.53 84.27a1.5 1.5 0 1 0 3 0a1.5 1.5 0 1 0-3 0M664.53 95.75a1.5 1.5 0 1 0 3 0a1.5 1.5 0 1 0-3 0M664.53 107.23a1.5 1.5 0 1 0 3 0a1.5 1.5 0 1 0-3 0M664.53 118.72a1.5 1.5 0 1 0 3 0a1.5 1.5 0 1 0-3 0M664.53 130.20a1.5 1.5 0 1 0 3 0a1.5 1.5 0 1 0-3 0M664.53 141.69a1.5 1.5 0 1 0 3 0a1.5 1.5 0 1 0-3 0M664.53 153.18a1.5 1.5 0 1 0 3 0a1.5 1.5 0 1 0-3 0M664.53 164.66a1.5 1.5 0 1 0 3 0a1.5 1.5 0 1 0-3 0M664.53 176.14a1.5 1.5 0 1 0 3 0a1.5 1.5 0 1 0-3 0M664.53 187.63a1.5 1.5 0 1 0 3 0a1.5 1.5 0 1 0-3 0M664.53 199.12a1.5 1.5 0 1 0 3 0a1.5 1.5 0 1 0-3 0M664.53 210.60a1.5 1.5 0 1 0 3 0a1.5 1.5 0 1 0-3 0M664.53 222.09a1.5 1.5 0 1 0 3 0a1.5 1.5 0 1 0-3 0M664.53 233.57a1.5 1.5 0 1 0 3 0a1.5 1.5 0 1 0-3 0M664.53 245.05a1.5 1.5 0 1 0 3 0a1.5 1.5 0 1 0-3 0M664.53 256.54a1.5 1.5 0 1 0 3 0a1.5 1.5 0 1 0-3 0M664.53 268.02a1.5 1.5 0 1 0 3 0a1.5 1.5 0 1 0-3 0M664.53 279.51a1.5 1.5 0 1 0 3 0a1.5 1.5 0 1 0-3 0M664.53 291.00a1.5 1.5 0 1 0 3 0a1.5 1.5 0 1 0-3 0M664.53 302.48a1.5 1.5 0 1 0 3 0a1.5 1.5 0 1 0-3 0M664.53 313.97a1.5 1.5 0 1 0 3 0a1.5 1.5 0 1 0-3 0M664.53 325.45a1.5 1.5 0 1 0 3 0a1.5 1.5 0 1 0-3 0M664.53 336.93a1.5 1.5 0 1 0 3 0a1.5 1.5 0 1 0-3 0M664.53 348.42a1.5 1.5 0 1 0 3 0a1.5 1.5 0 1 0-3 0M664.53 359.90a1.5 1.5 0 1 0 3 0a1.5 1.5 0 1 0-3 0M664.53 371.39a1.5 1.5 0 1 0 3 0a1.5 1.5 0 1 0-3 0M676.01 72.78a1.5 1.5 0 1 0 3 0a1.5 1.5 0 1 0-3 0M676.01 84.27a1.5 1.5 0 1 0 3 0a1.5 1.5 0 1 0-3 0M676.01 95.75a1.5 1.5 0 1 0 3 0a1.5 1.5 0 1 0-3 0M676.01 107.23a1.5 1.5 0 1 0 3 0a1.5 1.5 0 1 0-3 0M676.01 118.72a1.5 1.5 0 1 0 3 0a1.5 1.5 0 1 0-3 0M676.01 130.20a1.5 1.5 0 1 0 3 0a1.5 1.5 0 1 0-3 0M676.01 141.69a1.5 1.5 0 1 0 3 0a1.5 1.5 0 1 0-3 0M676.01 153.18a1.5 1.5 0 1 0 3 0a1.5 1.5 0 1 0-3 0M676.01 164.66a1.5 1.5 0 1 0 3 0a1.5 1.5 0 1 0-3 0M676.01 176.14a1.5 1.5 0 1 0 3 0a1.5 1.5 0 1 0-3 0M676.01 187.63a1.5 1.5 0 1 0 3 0a1.5 1.5 0 1 0-3 0M676.01 199.12a1.5 1.5 0 1 0 3 0a1.5 1.5 0 1 0-3 0M676.01 210.60a1.5 1.5 0 1 0 3 0a1.5 1.5 0 1 0-3 0M676.01 222.09a1.5 1.5 0 1 0 3 0a1.5 1.5 0 1 0-3 0M676.01 233.57a1.5 1.5 0 1 0 3 0a1.5 1.5 0 1 0-3 0M676.01 245.05a1.5 1.5 0 1 0 3 0a1.5 1.5 0 1 0-3 0M676.01 256.54a1.5 1.5 0 1 0 3 0a1.5 1.5 0 1 0-3 0M676.01 268.02a1.5 1.5 0 1 0 3 0a1.5 1.5 0 1 0-3 0M676.01 279.51a1.5 1.5 0 1 0 3 0a1.5 1.5 0 1 0-3 0M676.01 291.00a1.5 1.5 0 1 0 3 0a1.5 1.5 0 1 0-3 0M676.01 302.48a1.5 1.5 0 1 0 3 0a1.5 1.5 0 1 0-3 0M676.01 313.97a1.5 1.5 0 1 0 3 0a1.5 1.5 0 1 0-3 0M676.01 325.45a1.5 1.5 0 1 0 3 0a1.5 1.5 0 1 0-3 0M676.01 336.93a1.5 1.5 0 1 0 3 0a1.5 1.5 0 1 0-3 0M676.01 348.42a1.5 1.5 0 1 0 3 0a1.5 1.5 0 1 0-3 0M676.01 359.90a1.5 1.5 0 1 0 3 0a1.5 1.5 0 1 0-3 0M676.01 371.39a1.5 1.5 0 1 0 3 0a1.5 1.5 0 1 0-3 0M687.50 72.78a1.5 1.5 0 1 0 3 0a1.5 1.5 0 1 0-3 0M687.50 84.27a1.5 1.5 0 1 0 3 0a1.5 1.5 0 1 0-3 0M687.50 95.75a1.5 1.5 0 1 0 3 0a1.5 1.5 0 1 0-3 0M687.50 107.23a1.5 1.5 0 1 0 3 0a1.5 1.5 0 1 0-3 0M687.50 118.72a1.5 1.5 0 1 0 3 0a1.5 1.5 0 1 0-3 0M687.50 130.20a1.5 1.5 0 1 0 3 0a1.5 1.5 0 1 0-3 0M687.50 141.69a1.5 1.5 0 1 0 3 0a1.5 1.5 0 1 0-3 0M687.50 153.18a1.5 1.5 0 1 0 3 0a1.5 1.5 0 1 0-3 0M687.50 164.66a1.5 1.5 0 1 0 3 0a1.5 1.5 0 1 0-3 0M687.50 176.14a1.5 1.5 0 1 0 3 0a1.5 1.5 0 1 0-3 0M687.50 187.63a1.5 1.5 0 1 0 3 0a1.5 1.5 0 1 0-3 0M687.50 199.12a1.5 1.5 0 1 0 3 0a1.5 1.5 0 1 0-3 0M687.50 210.60a1.5 1.5 0 1 0 3 0a1.5 1.5 0 1 0-3 0M687.50 222.09a1.5 1.5 0 1 0 3 0a1.5 1.5 0 1 0-3 0M687.50 233.57a1.5 1.5 0 1 0 3 0a1.5 1.5 0 1 0-3 0M687.50 245.05a1.5 1.5 0 1 0 3 0a1.5 1.5 0 1 0-3 0M687.50 256.54a1.5 1.5 0 1 0 3 0a1.5 1.5 0 1 0-3 0M687.50 268.02a1.5 1.5 0 1 0 3 0a1.5 1.5 0 1 0-3 0M687.50 279.51a1.5 1.5 0 1 0 3 0a1.5 1.5 0 1 0-3 0M687.50 291.00a1.5 1.5 0 1 0 3 0a1.5 1.5 0 1 0-3 0M687.50 302.48a1.5 1.5 0 1 0 3 0a1.5 1.5 0 1 0-3 0M687.50 313.97a1.5 1.5 0 1 0 3 0a1.5 1.5 0 1 0-3 0M687.50 325.45a1.5 1.5 0 1 0 3 0a1.5 1.5 0 1 0-3 0M687.50 336.93a1.5 1.5 0 1 0 3 0a1.5 1.5 0 1 0-3 0M687.50 348.42a1.5 1.5 0 1 0 3 0a1.5 1.5 0 1 0-3 0M687.50 359.90a1.5 1.5 0 1 0 3 0a1.5 1.5 0 1 0-3 0M687.50 371.39a1.5 1.5 0 1 0 3 0a1.5 1.5 0 1 0-3 0M698.99 72.78a1.5 1.5 0 1 0 3 0a1.5 1.5 0 1 0-3 0M698.99 84.27a1.5 1.5 0 1 0 3 0a1.5 1.5 0 1 0-3 0M698.99 95.75a1.5 1.5 0 1 0 3 0a1.5 1.5 0 1 0-3 0M698.99 107.23a1.5 1.5 0 1 0 3 0a1.5 1.5 0 1 0-3 0M698.99 118.72a1.5 1.5 0 1 0 3 0a1.5 1.5 0 1 0-3 0M698.99 130.20a1.5 1.5 0 1 0 3 0a1.5 1.5 0 1 0-3 0M698.99 141.69a1.5 1.5 0 1 0 3 0a1.5 1.5 0 1 0-3 0M698.99 153.18a1.5 1.5 0 1 0 3 0a1.5 1.5 0 1 0-3 0M698.99 164.66a1.5 1.5 0 1 0 3 0a1.5 1.5 0 1 0-3 0M698.99 176.14a1.5 1.5 0 1 0 3 0a1.5 1.5 0 1 0-3 0M698.99 187.63a1.5 1.5 0 1 0 3 0a1.5 1.5 0 1 0-3 0M698.99 199.12a1.5 1.5 0 1 0 3 0a1.5 1.5 0 1 0-3 0M698.99 210.60a1.5 1.5 0 1 0 3 0a1.5 1.5 0 1 0-3 0M698.99 222.09a1.5 1.5 0 1 0 3 0a1.5 1.5 0 1 0-3 0M698.99 233.57a1.5 1.5 0 1 0 3 0a1.5 1.5 0 1 0-3 0M698.99 245.05a1.5 1.5 0 1 0 3 0a1.5 1.5 0 1 0-3 0M698.99 256.54a1.5 1.5 0 1 0 3 0a1.5 1.5 0 1 0-3 0M698.99 268.02a1.5 1.5 0 1 0 3 0a1.5 1.5 0 1 0-3 0M698.99 279.51a1.5 1.5 0 1 0 3 0a1.5 1.5 0 1 0-3 0M698.99 291.00a1.5 1.5 0 1 0 3 0a1.5 1.5 0 1 0-3 0M698.99 302.48a1.5 1.5 0 1 0 3 0a1.5 1.5 0 1 0-3 0M698.99 313.97a1.5 1.5 0 1 0 3 0a1.5 1.5 0 1 0-3 0M698.99 325.45a1.5 1.5 0 1 0 3 0a1.5 1.5 0 1 0-3 0M698.99 336.93a1.5 1.5 0 1 0 3 0a1.5 1.5 0 1 0-3 0M698.99 348.42a1.5 1.5 0 1 0 3 0a1.5 1.5 0 1 0-3 0M698.99 359.90a1.5 1.5 0 1 0 3 0a1.5 1.5 0 1 0-3 0M698.99 371.39a1.5 1.5 0 1 0 3 0a1.5 1.5 0 1 0-3 0M710.47 72.78a1.5 1.5 0 1 0 3 0a1.5 1.5 0 1 0-3 0M710.47 84.27a1.5 1.5 0 1 0 3 0a1.5 1.5 0 1 0-3 0M710.47 95.75a1.5 1.5 0 1 0 3 0a1.5 1.5 0 1 0-3 0M710.47 107.23a1.5 1.5 0 1 0 3 0a1.5 1.5 0 1 0-3 0M710.47 118.72a1.5 1.5 0 1 0 3 0a1.5 1.5 0 1 0-3 0M710.47 130.20a1.5 1.5 0 1 0 3 0a1.5 1.5 0 1 0-3 0M710.47 141.69a1.5 1.5 0 1 0 3 0a1.5 1.5 0 1 0-3 0M710.47 153.18a1.5 1.5 0 1 0 3 0a1.5 1.5 0 1 0-3 0M710.47 164.66a1.5 1.5 0 1 0 3 0a1.5 1.5 0 1 0-3 0M710.47 176.14a1.5 1.5 0 1 0 3 0a1.5 1.5 0 1 0-3 0M710.47 187.63a1.5 1.5 0 1 0 3 0a1.5 1.5 0 1 0-3 0M710.47 199.12a1.5 1.5 0 1 0 3 0a1.5 1.5 0 1 0-3 0M710.47 210.60a1.5 1.5 0 1 0 3 0a1.5 1.5 0 1 0-3 0M710.47 222.09a1.5 1.5 0 1 0 3 0a1.5 1.5 0 1 0-3 0M710.47 233.57a1.5 1.5 0 1 0 3 0a1.5 1.5 0 1 0-3 0M710.47 245.05a1.5 1.5 0 1 0 3 0a1.5 1.5 0 1 0-3 0M710.47 256.54a1.5 1.5 0 1 0 3 0a1.5 1.5 0 1 0-3 0M710.47 268.02a1.5 1.5 0 1 0 3 0a1.5 1.5 0 1 0-3 0M710.47 279.51a1.5 1.5 0 1 0 3 0a1.5 1.5 0 1 0-3 0M710.47 291.00a1.5 1.5 0 1 0 3 0a1.5 1.5 0 1 0-3 0M710.47 302.48a1.5 1.5 0 1 0 3 0a1.5 1.5 0 1 0-3 0M710.47 313.97a1.5 1.5 0 1 0 3 0a1.5 1.5 0 1 0-3 0M710.47 325.45a1.5 1.5 0 1 0 3 0a1.5 1.5 0 1 0-3 0M710.47 336.93a1.5 1.5 0 1 0 3 0a1.5 1.5 0 1 0-3 0M710.47 348.42a1.5 1.5 0 1 0 3 0a1.5 1.5 0 1 0-3 0M710.47 359.90a1.5 1.5 0 1 0 3 0a1.5 1.5 0 1 0-3 0M710.47 371.39a1.5 1.5 0 1 0 3 0a1.5 1.5 0 1 0-3 0"/><path fill="#d2d5d9" d="M45.09 72.78a.75 .75 0 1 0 1.5 0a.75 .75 0 1 0-1.5 0M45.09 84.27a.75 .75 0 1 0 1.5 0a.75 .75 0 1 0-1.5 0M45.09 95.75a.75 .75 0 1 0 1.5 0a.75 .75 0 1 0-1.5 0M45.09 107.23a.75 .75 0 1 0 1.5 0a.75 .75 0 1 0-1.5 0M45.09 118.72a.75 .75 0 1 0 1.5 0a.75 .75 0 1 0-1.5 0M45.09 130.20a.75 .75 0 1 0 1.5 0a.75 .75 0 1 0-1.5 0M45.09 141.69a.75 .75 0 1 0 1.5 0a.75 .75 0 1 0-1.5 0M45.09 153.18a.75 .75 0 1 0 1.5 0a.75 .75 0 1 0-1.5 0M45.09 164.66a.75 .75 0 1 0 1.5 0a.75 .75 0 1 0-1.5 0M45.09 176.14a.75 .75 0 1 0 1.5 0a.75 .75 0 1 0-1.5 0M45.09 187.63a.75 .75 0 1 0 1.5 0a.75 .75 0 1 0-1.5 0M45.09 199.12a.75 .75 0 1 0 1.5 0a.75 .75 0 1 0-1.5 0M45.09 210.60a.75 .75 0 1 0 1.5 0a.75 .75 0 1 0-1.5 0M45.09 222.09a.75 .75 0 1 0 1.5 0a.75 .75 0 1 0-1.5 0M45.09 233.57a.75 .75 0 1 0 1.5 0a.75 .75 0 1 0-1.5 0M45.09 245.05a.75 .75 0 1 0 1.5 0a.75 .75 0 1 0-1.5 0M45.09 256.54a.75 .75 0 1 0 1.5 0a.75 .75 0 1 0-1.5 0M45.09 268.02a.75 .75 0 1 0 1.5 0a.75 .75 0 1 0-1.5 0M45.09 279.51a.75 .75 0 1 0 1.5 0a.75 .75 0 1 0-1.5 0M45.09 291.00a.75 .75 0 1 0 1.5 0a.75 .75 0 1 0-1.5 0M45.09 302.48a.75 .75 0 1 0 1.5 0a.75 .75 0 1 0-1.5 0M45.09 313.97a.75 .75 0 1 0 1.5 0a.75 .75 0 1 0-1.5 0M45.09 325.45a.75 .75 0 1 0 1.5 0a.75 .75 0 1 0-1.5 0M45.09 336.93a.75 .75 0 1 0 1.5 0a.75 .75 0 1 0-1.5 0M45.09 348.42a.75 .75 0 1 0 1.5 0a.75 .75 0 1 0-1.5 0M45.09 359.90a.75 .75 0 1 0 1.5 0a.75 .75 0 1 0-1.5 0M45.09 371.39a.75 .75 0 1 0 1.5 0a.75 .75 0 1 0-1.5 0M56.58 72.78a.75 .75 0 1 0 1.5 0a.75 .75 0 1 0-1.5 0M56.58 84.27a.75 .75 0 1 0 1.5 0a.75 .75 0 1 0-1.5 0M56.58 95.75a.75 .75 0 1 0 1.5 0a.75 .75 0 1 0-1.5 0M56.58 107.23a.75 .75 0 1 0 1.5 0a.75 .75 0 1 0-1.5 0M56.58 118.72a.75 .75 0 1 0 1.5 0a.75 .75 0 1 0-1.5 0M56.58 130.20a.75 .75 0 1 0 1.5 0a.75 .75 0 1 0-1.5 0M56.58 141.69a.75 .75 0 1 0 1.5 0a.75 .75 0 1 0-1.5 0M56.58 153.18a.75 .75 0 1 0 1.5 0a.75 .75 0 1 0-1.5 0M56.58 164.66a.75 .75 0 1 0 1.5 0a.75 .75 0 1 0-1.5 0M56.58 176.14a.75 .75 0 1 0 1.5 0a.75 .75 0 1 0-1.5 0M56.58 187.63a.75 .75 0 1 0 1.5 0a.75 .75 0 1 0-1.5 0M56.58 199.12a.75 .75 0 1 0 1.5 0a.75 .75 0 1 0-1.5 0M56.58 210.60a.75 .75 0 1 0 1.5 0a.75 .75 0 1 0-1.5 0M56.58 222.09a.75 .75 0 1 0 1.5 0a.75 .75 0 1 0-1.5 0M56.58 233.57a.75 .75 0 1 0 1.5 0a.75 .75 0 1 0-1.5 0M56.58 245.05a.75 .75 0 1 0 1.5 0a.75 .75 0 1 0-1.5 0M56.58 256.54a.75 .75 0 1 0 1.5 0a.75 .75 0 1 0-1.5 0M56.58 268.02a.75 .75 0 1 0 1.5 0a.75 .75 0 1 0-1.5 0M56.58 279.51a.75 .75 0 1 0 1.5 0a.75 .75 0 1 0-1.5 0M56.58 291.00a.75 .75 0 1 0 1.5 0a.75 .75 0 1 0-1.5 0M56.58 302.48a.75 .75 0 1 0 1.5 0a.75 .75 0 1 0-1.5 0M56.58 313.97a.75 .75 0 1 0 1.5 0a.75 .75 0 1 0-1.5 0M56.58 325.45a.75 .75 0 1 0 1.5 0a.75 .75 0 1 0-1.5 0M56.58 336.93a.75 .75 0 1 0 1.5 0a.75 .75 0 1 0-1.5 0M56.58 348.42a.75 .75 0 1 0 1.5 0a.75 .75 0 1 0-1.5 0M56.58 359.90a.75 .75 0 1 0 1.5 0a.75 .75 0 1 0-1.5 0M56.58 371.39a.75 .75 0 1 0 1.5 0a.75 .75 0 1 0-1.5 0M68.06 72.78a.75 .75 0 1 0 1.5 0a.75 .75 0 1 0-1.5 0M68.06 84.27a.75 .75 0 1 0 1.5 0a.75 .75 0 1 0-1.5 0M68.06 95.75a.75 .75 0 1 0 1.5 0a.75 .75 0 1 0-1.5 0M68.06 107.23a.75 .75 0 1 0 1.5 0a.75 .75 0 1 0-1.5 0M68.06 118.72a.75 .75 0 1 0 1.5 0a.75 .75 0 1 0-1.5 0M68.06 130.20a.75 .75 0 1 0 1.5 0a.75 .75 0 1 0-1.5 0M68.06 141.69a.75 .75 0 1 0 1.5 0a.75 .75 0 1 0-1.5 0M68.06 153.18a.75 .75 0 1 0 1.5 0a.75 .75 0 1 0-1.5 0M68.06 164.66a.75 .75 0 1 0 1.5 0a.75 .75 0 1 0-1.5 0M68.06 176.14a.75 .75 0 1 0 1.5 0a.75 .75 0 1 0-1.5 0M68.06 187.63a.75 .75 0 1 0 1.5 0a.75 .75 0 1 0-1.5 0M68.06 199.12a.75 .75 0 1 0 1.5 0a.75 .75 0 1 0-1.5 0M68.06 210.60a.75 .75 0 1 0 1.5 0a.75 .75 0 1 0-1.5 0M68.06 222.09a.75 .75 0 1 0 1.5 0a.75 .75 0 1 0-1.5 0M68.06 233.57a.75 .75 0 1 0 1.5 0a.75 .75 0 1 0-1.5 0M68.06 245.05a.75 .75 0 1 0 1.5 0a.75 .75 0 1 0-1.5 0M68.06 256.54a.75 .75 0 1 0 1.5 0a.75 .75 0 1 0-1.5 0M68.06 268.02a.75 .75 0 1 0 1.5 0a.75 .75 0 1 0-1.5 0M68.06 279.51a.75 .75 0 1 0 1.5 0a.75 .75 0 1 0-1.5 0M68.06 291.00a.75 .75 0 1 0 1.5 0a.75 .75 0 1 0-1.5 0M68.06 302.48a.75 .75 0 1 0 1.5 0a.75 .75 0 1 0-1.5 0M68.06 313.97a.75 .75 0 1 0 1.5 0a.75 .75 0 1 0-1.5 0M68.06 325.45a.75 .75 0 1 0 1.5 0a.75 .75 0 1 0-1.5 0M68.06 336.93a.75 .75 0 1 0 1.5 0a.75 .75 0 1 0-1.5 0M68.06 348.42a.75 .75 0 1 0 1.5 0a.75 .75 0 1 0-1.5 0M68.06 359.90a.75 .75 0 1 0 1.5 0a.75 .75 0 1 0-1.5 0M68.06 371.39a.75 .75 0 1 0 1.5 0a.75 .75 0 1 0-1.5 0M79.55 72.78a.75 .75 0 1 0 1.5 0a.75 .75 0 1 0-1.5 0M79.55 84.27a.75 .75 0 1 0 1.5 0a.75 .75 0 1 0-1.5 0M79.55 95.75a.75 .75 0 1 0 1.5 0a.75 .75 0 1 0-1.5 0M79.55 107.23a.75 .75 0 1 0 1.5 0a.75 .75 0 1 0-1.5 0M79.55 118.72a.75 .75 0 1 0 1.5 0a.75 .75 0 1 0-1.5 0M79.55 130.20a.75 .75 0 1 0 1.5 0a.75 .75 0 1 0-1.5 0M79.55 141.69a.75 .75 0 1 0 1.5 0a.75 .75 0 1 0-1.5 0M79.55 153.18a.75 .75 0 1 0 1.5 0a.75 .75 0 1 0-1.5 0M79.55 164.66a.75 .75 0 1 0 1.5 0a.75 .75 0 1 0-1.5 0M79.55 176.14a.75 .75 0 1 0 1.5 0a.75 .75 0 1 0-1.5 0M79.55 187.63a.75 .75 0 1 0 1.5 0a.75 .75 0 1 0-1.5 0M79.55 199.12a.75 .75 0 1 0 1.5 0a.75 .75 0 1 0-1.5 0M79.55 210.60a.75 .75 0 1 0 1.5 0a.75 .75 0 1 0-1.5 0M79.55 222.09a.75 .75 0 1 0 1.5 0a.75 .75 0 1 0-1.5 0M79.55 233.57a.75 .75 0 1 0 1.5 0a.75 .75 0 1 0-1.5 0M79.55 245.05a.75 .75 0 1 0 1.5 0a.75 .75 0 1 0-1.5 0M79.55 256.54a.75 .75 0 1 0 1.5 0a.75 .75 0 1 0-1.5 0M79.55 268.02a.75 .75 0 1 0 1.5 0a.75 .75 0 1 0-1.5 0M79.55 279.51a.75 .75 0 1 0 1.5 0a.75 .75 0 1 0-1.5 0M79.55 291.00a.75 .75 0 1 0 1.5 0a.75 .75 0 1 0-1.5 0M79.55 302.48a.75 .75 0 1 0 1.5 0a.75 .75 0 1 0-1.5 0M79.55 313.97a.75 .75 0 1 0 1.5 0a.75 .75 0 1 0-1.5 0M79.55 325.45a.75 .75 0 1 0 1.5 0a.75 .75 0 1 0-1.5 0M79.55 336.93a.75 .75 0 1 0 1.5 0a.75 .75 0 1 0-1.5 0M79.55 348.42a.75 .75 0 1 0 1.5 0a.75 .75 0 1 0-1.5 0M79.55 359.90a.75 .75 0 1 0 1.5 0a.75 .75 0 1 0-1.5 0M79.55 371.39a.75 .75 0 1 0 1.5 0a.75 .75 0 1 0-1.5 0M91.03 72.78a.75 .75 0 1 0 1.5 0a.75 .75 0 1 0-1.5 0M91.03 84.27a.75 .75 0 1 0 1.5 0a.75 .75 0 1 0-1.5 0M91.03 95.75a.75 .75 0 1 0 1.5 0a.75 .75 0 1 0-1.5 0M91.03 107.23a.75 .75 0 1 0 1.5 0a.75 .75 0 1 0-1.5 0M91.03 118.72a.75 .75 0 1 0 1.5 0a.75 .75 0 1 0-1.5 0M91.03 130.20a.75 .75 0 1 0 1.5 0a.75 .75 0 1 0-1.5 0M91.03 141.69a.75 .75 0 1 0 1.5 0a.75 .75 0 1 0-1.5 0M91.03 153.18a.75 .75 0 1 0 1.5 0a.75 .75 0 1 0-1.5 0M91.03 164.66a.75 .75 0 1 0 1.5 0a.75 .75 0 1 0-1.5 0M91.03 176.14a.75 .75 0 1 0 1.5 0a.75 .75 0 1 0-1.5 0M91.03 187.63a.75 .75 0 1 0 1.5 0a.75 .75 0 1 0-1.5 0M91.03 199.12a.75 .75 0 1 0 1.5 0a.75 .75 0 1 0-1.5 0M91.03 210.60a.75 .75 0 1 0 1.5 0a.75 .75 0 1 0-1.5 0M91.03 222.09a.75 .75 0 1 0 1.5 0a.75 .75 0 1 0-1.5 0M91.03 233.57a.75 .75 0 1 0 1.5 0a.75 .75 0 1 0-1.5 0M91.03 245.05a.75 .75 0 1 0 1.5 0a.75 .75 0 1 0-1.5 0M91.03 256.54a.75 .75 0 1 0 1.5 0a.75 .75 0 1 0-1.5 0M91.03 268.02a.75 .75 0 1 0 1.5 0a.75 .75 0 1 0-1.5 0M91.03 279.51a.75 .75 0 1 0 1.5 0a.75 .75 0 1 0-1.5 0M91.03 291.00a.75 .75 0 1 0 1.5 0a.75 .75 0 1 0-1.5 0M91.03 302.48a.75 .75 0 1 0 1.5 0a.75 .75 0 1 0-1.5 0M91.03 313.97a.75 .75 0 1 0 1.5 0a.75 .75 0 1 0-1.5 0M91.03 325.45a.75 .75 0 1 0 1.5 0a.75 .75 0 1 0-1.5 0M91.03 336.93a.75 .75 0 1 0 1.5 0a.75 .75 0 1 0-1.5 0M91.03 348.42a.75 .75 0 1 0 1.5 0a.75 .75 0 1 0-1.5 0M91.03 359.90a.75 .75 0 1 0 1.5 0a.75 .75 0 1 0-1.5 0M91.03 371.39a.75 .75 0 1 0 1.5 0a.75 .75 0 1 0-1.5 0M102.52 72.78a.75 .75 0 1 0 1.5 0a.75 .75 0 1 0-1.5 0M102.52 84.27a.75 .75 0 1 0 1.5 0a.75 .75 0 1 0-1.5 0M102.52 95.75a.75 .75 0 1 0 1.5 0a.75 .75 0 1 0-1.5 0M102.52 107.23a.75 .75 0 1 0 1.5 0a.75 .75 0 1 0-1.5 0M102.52 118.72a.75 .75 0 1 0 1.5 0a.75 .75 0 1 0-1.5 0M102.52 130.20a.75 .75 0 1 0 1.5 0a.75 .75 0 1 0-1.5 0M102.52 141.69a.75 .75 0 1 0 1.5 0a.75 .75 0 1 0-1.5 0M102.52 153.18a.75 .75 0 1 0 1.5 0a.75 .75 0 1 0-1.5 0M102.52 164.66a.75 .75 0 1 0 1.5 0a.75 .75 0 1 0-1.5 0M102.52 176.14a.75 .75 0 1 0 1.5 0a.75 .75 0 1 0-1.5 0M102.52 187.63a.75 .75 0 1 0 1.5 0a.75 .75 0 1 0-1.5 0M102.52 199.12a.75 .75 0 1 0 1.5 0a.75 .75 0 1 0-1.5 0M102.52 210.60a.75 .75 0 1 0 1.5 0a.75 .75 0 1 0-1.5 0M102.52 222.09a.75 .75 0 1 0 1.5 0a.75 .75 0 1 0-1.5 0M102.52 233.57a.75 .75 0 1 0 1.5 0a.75 .75 0 1 0-1.5 0M102.52 245.05a.75 .75 0 1 0 1.5 0a.75 .75 0 1 0-1.5 0M102.52 256.54a.75 .75 0 1 0 1.5 0a.75 .75 0 1 0-1.5 0M102.52 268.02a.75 .75 0 1 0 1.5 0a.75 .75 0 1 0-1.5 0M102.52 279.51a.75 .75 0 1 0 1.5 0a.75 .75 0 1 0-1.5 0M102.52 291.00a.75 .75 0 1 0 1.5 0a.75 .75 0 1 0-1.5 0M102.52 302.48a.75 .75 0 1 0 1.5 0a.75 .75 0 1 0-1.5 0M102.52 313.97a.75 .75 0 1 0 1.5 0a.75 .75 0 1 0-1.5 0M102.52 325.45a.75 .75 0 1 0 1.5 0a.75 .75 0 1 0-1.5 0M102.52 336.93a.75 .75 0 1 0 1.5 0a.75 .75 0 1 0-1.5 0M102.52 348.42a.75 .75 0 1 0 1.5 0a.75 .75 0 1 0-1.5 0M102.52 359.90a.75 .75 0 1 0 1.5 0a.75 .75 0 1 0-1.5 0M102.52 371.39a.75 .75 0 1 0 1.5 0a.75 .75 0 1 0-1.5 0M114.00 72.78a.75 .75 0 1 0 1.5 0a.75 .75 0 1 0-1.5 0M114.00 84.27a.75 .75 0 1 0 1.5 0a.75 .75 0 1 0-1.5 0M114.00 95.75a.75 .75 0 1 0 1.5 0a.75 .75 0 1 0-1.5 0M114.00 107.23a.75 .75 0 1 0 1.5 0a.75 .75 0 1 0-1.5 0M114.00 118.72a.75 .75 0 1 0 1.5 0a.75 .75 0 1 0-1.5 0M114.00 130.20a.75 .75 0 1 0 1.5 0a.75 .75 0 1 0-1.5 0M114.00 141.69a.75 .75 0 1 0 1.5 0a.75 .75 0 1 0-1.5 0M114.00 153.18a.75 .75 0 1 0 1.5 0a.75 .75 0 1 0-1.5 0M114.00 164.66a.75 .75 0 1 0 1.5 0a.75 .75 0 1 0-1.5 0M114.00 176.14a.75 .75 0 1 0 1.5 0a.75 .75 0 1 0-1.5 0M114.00 187.63a.75 .75 0 1 0 1.5 0a.75 .75 0 1 0-1.5 0M114.00 199.12a.75 .75 0 1 0 1.5 0a.75 .75 0 1 0-1.5 0M114.00 210.60a.75 .75 0 1 0 1.5 0a.75 .75 0 1 0-1.5 0M114.00 222.09a.75 .75 0 1 0 1.5 0a.75 .75 0 1 0-1.5 0M114.00 233.57a.75 .75 0 1 0 1.5 0a.75 .75 0 1 0-1.5 0M114.00 245.05a.75 .75 0 1 0 1.5 0a.75 .75 0 1 0-1.5 0M114.00 256.54a.75 .75 0 1 0 1.5 0a.75 .75 0 1 0-1.5 0M114.00 268.02a.75 .75 0 1 0 1.5 0a.75 .75 0 1 0-1.5 0M114.00 279.51a.75 .75 0 1 0 1.5 0a.75 .75 0 1 0-1.5 0M114.00 291.00a.75 .75 0 1 0 1.5 0a.75 .75 0 1 0-1.5 0M114.00 302.48a.75 .75 0 1 0 1.5 0a.75 .75 0 1 0-1.5 0M114.00 313.97a.75 .75 0 1 0 1.5 0a.75 .75 0 1 0-1.5 0M114.00 325.45a.75 .75 0 1 0 1.5 0a.75 .75 0 1 0-1.5 0M114.00 336.93a.75 .75 0 1 0 1.5 0a.75 .75 0 1 0-1.5 0M114.00 348.42a.75 .75 0 1 0 1.5 0a.75 .75 0 1 0-1.5 0M114.00 359.90a.75 .75 0 1 0 1.5 0a.75 .75 0 1 0-1.5 0M114.00 371.39a.75 .75 0 1 0 1.5 0a.75 .75 0 1 0-1.5 0M125.48 72.78a.75 .75 0 1 0 1.5 0a.75 .75 0 1 0-1.5 0M125.48 84.27a.75 .75 0 1 0 1.5 0a.75 .75 0 1 0-1.5 0M125.48 95.75a.75 .75 0 1 0 1.5 0a.75 .75 0 1 0-1.5 0M125.48 107.23a.75 .75 0 1 0 1.5 0a.75 .75 0 1 0-1.5 0M125.48 118.72a.75 .75 0 1 0 1.5 0a.75 .75 0 1 0-1.5 0M125.48 130.20a.75 .75 0 1 0 1.5 0a.75 .75 0 1 0-1.5 0M125.48 141.69a.75 .75 0 1 0 1.5 0a.75 .75 0 1 0-1.5 0M125.48 153.18a.75 .75 0 1 0 1.5 0a.75 .75 0 1 0-1.5 0M125.48 164.66a.75 .75 0 1 0 1.5 0a.75 .75 0 1 0-1.5 0M125.48 176.14a.75 .75 0 1 0 1.5 0a.75 .75 0 1 0-1.5 0M125.48 187.63a.75 .75 0 1 0 1.5 0a.75 .75 0 1 0-1.5 0M125.48 199.12a.75 .75 0 1 0 1.5 0a.75 .75 0 1 0-1.5 0M125.48 210.60a.75 .75 0 1 0 1.5 0a.75 .75 0 1 0-1.5 0M125.48 222.09a.75 .75 0 1 0 1.5 0a.75 .75 0 1 0-1.5 0M125.48 233.57a.75 .75 0 1 0 1.5 0a.75 .75 0 1 0-1.5 0M125.48 245.05a.75 .75 0 1 0 1.5 0a.75 .75 0 1 0-1.5 0M125.48 256.54a.75 .75 0 1 0 1.5 0a.75 .75 0 1 0-1.5 0M125.48 268.02a.75 .75 0 1 0 1.5 0a.75 .75 0 1 0-1.5 0M125.48 279.51a.75 .75 0 1 0 1.5 0a.75 .75 0 1 0-1.5 0M125.48 291.00a.75 .75 0 1 0 1.5 0a.75 .75 0 1 0-1.5 0M125.48 302.48a.75 .75 0 1 0 1.5 0a.75 .75 0 1 0-1.5 0M125.48 313.97a.75 .75 0 1 0 1.5 0a.75 .75 0 1 0-1.5 0M125.48 325.45a.75 .75 0 1 0 1.5 0a.75 .75 0 1 0-1.5 0M125.48 336.93a.75 .75 0 1 0 1.5 0a.75 .75 0 1 0-1.5 0M125.48 348.42a.75 .75 0 1 0 1.5 0a.75 .75 0 1 0-1.5 0M125.48 359.90a.75 .75 0 1 0 1.5 0a.75 .75 0 1 0-1.5 0M125.48 371.39a.75 .75 0 1 0 1.5 0a.75 .75 0 1 0-1.5 0M136.97 72.78a.75 .75 0 1 0 1.5 0a.75 .75 0 1 0-1.5 0M136.97 84.27a.75 .75 0 1 0 1.5 0a.75 .75 0 1 0-1.5 0M136.97 95.75a.75 .75 0 1 0 1.5 0a.75 .75 0 1 0-1.5 0M136.97 107.23a.75 .75 0 1 0 1.5 0a.75 .75 0 1 0-1.5 0M136.97 118.72a.75 .75 0 1 0 1.5 0a.75 .75 0 1 0-1.5 0M136.97 130.20a.75 .75 0 1 0 1.5 0a.75 .75 0 1 0-1.5 0M136.97 141.69a.75 .75 0 1 0 1.5 0a.75 .75 0 1 0-1.5 0M136.97 153.18a.75 .75 0 1 0 1.5 0a.75 .75 0 1 0-1.5 0M136.97 164.66a.75 .75 0 1 0 1.5 0a.75 .75 0 1 0-1.5 0M136.97 176.14a.75 .75 0 1 0 1.5 0a.75 .75 0 1 0-1.5 0M136.97 187.63a.75 .75 0 1 0 1.5 0a.75 .75 0 1 0-1.5 0M136.97 199.12a.75 .75 0 1 0 1.5 0a.75 .75 0 1 0-1.5 0M136.97 210.60a.75 .75 0 1 0 1.5 0a.75 .75 0 1 0-1.5 0M136.97 222.09a.75 .75 0 1 0 1.5 0a.75 .75 0 1 0-1.5 0M136.97 233.57a.75 .75 0 1 0 1.5 0a.75 .75 0 1 0-1.5 0M136.97 245.05a.75 .75 0 1 0 1.5 0a.75 .75 0 1 0-1.5 0M136.97 256.54a.75 .75 0 1 0 1.5 0a.75 .75 0 1 0-1.5 0M136.97 268.02a.75 .75 0 1 0 1.5 0a.75 .75 0 1 0-1.5 0M136.97 279.51a.75 .75 0 1 0 1.5 0a.75 .75 0 1 0-1.5 0M136.97 291.00a.75 .75 0 1 0 1.5 0a.75 .75 0 1 0-1.5 0M136.97 302.48a.75 .75 0 1 0 1.5 0a.75 .75 0 1 0-1.5 0M136.97 313.97a.75 .75 0 1 0 1.5 0a.75 .75 0 1 0-1.5 0M136.97 325.45a.75 .75 0 1 0 1.5 0a.75 .75 0 1 0-1.5 0M136.97 336.93a.75 .75 0 1 0 1.5 0a.75 .75 0 1 0-1.5 0M136.97 348.42a.75 .75 0 1 0 1.5 0a.75 .75 0 1 0-1.5 0M136.97 359.90a.75 .75 0 1 0 1.5 0a.75 .75 0 1 0-1.5 0M136.97 371.39a.75 .75 0 1 0 1.5 0a.75 .75 0 1 0-1.5 0M148.45 72.78a.75 .75 0 1 0 1.5 0a.75 .75 0 1 0-1.5 0M148.45 84.27a.75 .75 0 1 0 1.5 0a.75 .75 0 1 0-1.5 0M148.45 95.75a.75 .75 0 1 0 1.5 0a.75 .75 0 1 0-1.5 0M148.45 107.23a.75 .75 0 1 0 1.5 0a.75 .75 0 1 0-1.5 0M148.45 118.72a.75 .75 0 1 0 1.5 0a.75 .75 0 1 0-1.5 0M148.45 130.20a.75 .75 0 1 0 1.5 0a.75 .75 0 1 0-1.5 0M148.45 141.69a.75 .75 0 1 0 1.5 0a.75 .75 0 1 0-1.5 0M148.45 153.18a.75 .75 0 1 0 1.5 0a.75 .75 0 1 0-1.5 0M148.45 164.66a.75 .75 0 1 0 1.5 0a.75 .75 0 1 0-1.5 0M148.45 176.14a.75 .75 0 1 0 1.5 0a.75 .75 0 1 0-1.5 0M148.45 187.63a.75 .75 0 1 0 1.5 0a.75 .75 0 1 0-1.5 0M148.45 199.12a.75 .75 0 1 0 1.5 0a.75 .75 0 1 0-1.5 0M148.45 210.60a.75 .75 0 1 0 1.5 0a.75 .75 0 1 0-1.5 0M148.45 222.09a.75 .75 0 1 0 1.5 0a.75 .75 0 1 0-1.5 0M148.45 233.57a.75 .75 0 1 0 1.5 0a.75 .75 0 1 0-1.5 0M148.45 245.05a.75 .75 0 1 0 1.5 0a.75 .75 0 1 0-1.5 0M148.45 256.54a.75 .75 0 1 0 1.5 0a.75 .75 0 1 0-1.5 0M148.45 268.02a.75 .75 0 1 0 1.5 0a.75 .75 0 1 0-1.5 0M148.45 279.51a.75 .75 0 1 0 1.5 0a.75 .75 0 1 0-1.5 0M148.45 291.00a.75 .75 0 1 0 1.5 0a.75 .75 0 1 0-1.5 0M148.45 302.48a.75 .75 0 1 0 1.5 0a.75 .75 0 1 0-1.5 0M148.45 313.97a.75 .75 0 1 0 1.5 0a.75 .75 0 1 0-1.5 0M148.45 325.45a.75 .75 0 1 0 1.5 0a.75 .75 0 1 0-1.5 0M148.45 336.93a.75 .75 0 1 0 1.5 0a.75 .75 0 1 0-1.5 0M148.45 348.42a.75 .75 0 1 0 1.5 0a.75 .75 0 1 0-1.5 0M148.45 359.90a.75 .75 0 1 0 1.5 0a.75 .75 0 1 0-1.5 0M148.45 371.39a.75 .75 0 1 0 1.5 0a.75 .75 0 1 0-1.5 0M159.94 72.78a.75 .75 0 1 0 1.5 0a.75 .75 0 1 0-1.5 0M159.94 84.27a.75 .75 0 1 0 1.5 0a.75 .75 0 1 0-1.5 0M159.94 95.75a.75 .75 0 1 0 1.5 0a.75 .75 0 1 0-1.5 0M159.94 107.23a.75 .75 0 1 0 1.5 0a.75 .75 0 1 0-1.5 0M159.94 118.72a.75 .75 0 1 0 1.5 0a.75 .75 0 1 0-1.5 0M159.94 130.20a.75 .75 0 1 0 1.5 0a.75 .75 0 1 0-1.5 0M159.94 141.69a.75 .75 0 1 0 1.5 0a.75 .75 0 1 0-1.5 0M159.94 153.18a.75 .75 0 1 0 1.5 0a.75 .75 0 1 0-1.5 0M159.94 164.66a.75 .75 0 1 0 1.5 0a.75 .75 0 1 0-1.5 0M159.94 176.14a.75 .75 0 1 0 1.5 0a.75 .75 0 1 0-1.5 0M159.94 187.63a.75 .75 0 1 0 1.5 0a.75 .75 0 1 0-1.5 0M159.94 199.12a.75 .75 0 1 0 1.5 0a.75 .75 0 1 0-1.5 0M159.94 210.60a.75 .75 0 1 0 1.5 0a.75 .75 0 1 0-1.5 0M159.94 222.09a.75 .75 0 1 0 1.5 0a.75 .75 0 1 0-1.5 0M159.94 233.57a.75 .75 0 1 0 1.5 0a.75 .75 0 1 0-1.5 0M159.94 245.05a.75 .75 0 1 0 1.5 0a.75 .75 0 1 0-1.5 0M159.94 256.54a.75 .75 0 1 0 1.5 0a.75 .75 0 1 0-1.5 0M159.94 268.02a.75 .75 0 1 0 1.5 0a.75 .75 0 1 0-1.5 0M159.94 279.51a.75 .75 0 1 0 1.5 0a.75 .75 0 1 0-1.5 0M159.94 291.00a.75 .75 0 1 0 1.5 0a.75 .75 0 1 0-1.5 0M159.94 302.48a.75 .75 0 1 0 1.5 0a.75 .75 0 1 0-1.5 0M159.94 313.97a.75 .75 0 1 0 1.5 0a.75 .75 0 1 0-1.5 0M159.94 325.45a.75 .75 0 1 0 1.5 0a.75 .75 0 1 0-1.5 0M159.94 336.93a.75 .75 0 1 0 1.5 0a.75 .75 0 1 0-1.5 0M159.94 348.42a.75 .75 0 1 0 1.5 0a.75 .75 0 1 0-1.5 0M159.94 359.90a.75 .75 0 1 0 1.5 0a.75 .75 0 1 0-1.5 0M159.94 371.39a.75 .75 0 1 0 1.5 0a.75 .75 0 1 0-1.5 0M171.43 72.78a.75 .75 0 1 0 1.5 0a.75 .75 0 1 0-1.5 0M171.43 84.27a.75 .75 0 1 0 1.5 0a.75 .75 0 1 0-1.5 0M171.43 95.75a.75 .75 0 1 0 1.5 0a.75 .75 0 1 0-1.5 0M171.43 107.23a.75 .75 0 1 0 1.5 0a.75 .75 0 1 0-1.5 0M171.43 118.72a.75 .75 0 1 0 1.5 0a.75 .75 0 1 0-1.5 0M171.43 130.20a.75 .75 0 1 0 1.5 0a.75 .75 0 1 0-1.5 0M171.43 141.69a.75 .75 0 1 0 1.5 0a.75 .75 0 1 0-1.5 0M171.43 153.18a.75 .75 0 1 0 1.5 0a.75 .75 0 1 0-1.5 0M171.43 164.66a.75 .75 0 1 0 1.5 0a.75 .75 0 1 0-1.5 0M171.43 176.14a.75 .75 0 1 0 1.5 0a.75 .75 0 1 0-1.5 0M171.43 187.63a.75 .75 0 1 0 1.5 0a.75 .75 0 1 0-1.5 0M171.43 199.12a.75 .75 0 1 0 1.5 0a.75 .75 0 1 0-1.5 0M171.43 210.60a.75 .75 0 1 0 1.5 0a.75 .75 0 1 0-1.5 0M171.43 222.09a.75 .75 0 1 0 1.5 0a.75 .75 0 1 0-1.5 0M171.43 233.57a.75 .75 0 1 0 1.5 0a.75 .75 0 1 0-1.5 0M171.43 245.05a.75 .75 0 1 0 1.5 0a.75 .75 0 1 0-1.5 0M171.43 256.54a.75 .75 0 1 0 1.5 0a.75 .75 0 1 0-1.5 0M171.43 268.02a.75 .75 0 1 0 1.5 0a.75 .75 0 1 0-1.5 0M171.43 279.51a.75 .75 0 1 0 1.5 0a.75 .75 0 1 0-1.5 0M171.43 291.00a.75 .75 0 1 0 1.5 0a.75 .75 0 1 0-1.5 0M171.43 302.48a.75 .75 0 1 0 1.5 0a.75 .75 0 1 0-1.5 0M171.43 313.97a.75 .75 0 1 0 1.5 0a.75 .75 0 1 0-1.5 0M171.43 325.45a.75 .75 0 1 0 1.5 0a.75 .75 0 1 0-1.5 0M171.43 336.93a.75 .75 0 1 0 1.5 0a.75 .75 0 1 0-1.5 0M171.43 348.42a.75 .75 0 1 0 1.5 0a.75 .75 0 1 0-1.5 0M171.43 359.90a.75 .75 0 1 0 1.5 0a.75 .75 0 1 0-1.5 0M171.43 371.39a.75 .75 0 1 0 1.5 0a.75 .75 0 1 0-1.5 0M182.91 72.78a.75 .75 0 1 0 1.5 0a.75 .75 0 1 0-1.5 0M182.91 84.27a.75 .75 0 1 0 1.5 0a.75 .75 0 1 0-1.5 0M182.91 95.75a.75 .75 0 1 0 1.5 0a.75 .75 0 1 0-1.5 0M182.91 107.23a.75 .75 0 1 0 1.5 0a.75 .75 0 1 0-1.5 0M182.91 118.72a.75 .75 0 1 0 1.5 0a.75 .75 0 1 0-1.5 0M182.91 130.20a.75 .75 0 1 0 1.5 0a.75 .75 0 1 0-1.5 0M182.91 141.69a.75 .75 0 1 0 1.5 0a.75 .75 0 1 0-1.5 0M182.91 153.18a.75 .75 0 1 0 1.5 0a.75 .75 0 1 0-1.5 0M182.91 164.66a.75 .75 0 1 0 1.5 0a.75 .75 0 1 0-1.5 0M182.91 176.14a.75 .75 0 1 0 1.5 0a.75 .75 0 1 0-1.5 0M182.91 187.63a.75 .75 0 1 0 1.5 0a.75 .75 0 1 0-1.5 0M182.91 199.12a.75 .75 0 1 0 1.5 0a.75 .75 0 1 0-1.5 0M182.91 210.60a.75 .75 0 1 0 1.5 0a.75 .75 0 1 0-1.5 0M182.91 222.09a.75 .75 0 1 0 1.5 0a.75 .75 0 1 0-1.5 0M182.91 233.57a.75 .75 0 1 0 1.5 0a.75 .75 0 1 0-1.5 0M182.91 245.05a.75 .75 0 1 0 1.5 0a.75 .75 0 1 0-1.5 0M182.91 256.54a.75 .75 0 1 0 1.5 0a.75 .75 0 1 0-1.5 0M182.91 268.02a.75 .75 0 1 0 1.5 0a.75 .75 0 1 0-1.5 0M182.91 279.51a.75 .75 0 1 0 1.5 0a.75 .75 0 1 0-1.5 0M182.91 291.00a.75 .75 0 1 0 1.5 0a.75 .75 0 1 0-1.5 0M182.91 302.48a.75 .75 0 1 0 1.5 0a.75 .75 0 1 0-1.5 0M182.91 313.97a.75 .75 0 1 0 1.5 0a.75 .75 0 1 0-1.5 0M182.91 325.45a.75 .75 0 1 0 1.5 0a.75 .75 0 1 0-1.5 0M182.91 336.93a.75 .75 0 1 0 1.5 0a.75 .75 0 1 0-1.5 0M182.91 348.42a.75 .75 0 1 0 1.5 0a.75 .75 0 1 0-1.5 0M182.91 359.90a.75 .75 0 1 0 1.5 0a.75 .75 0 1 0-1.5 0M182.91 371.39a.75 .75 0 1 0 1.5 0a.75 .75 0 1 0-1.5 0M194.40 72.78a.75 .75 0 1 0 1.5 0a.75 .75 0 1 0-1.5 0M194.40 84.27a.75 .75 0 1 0 1.5 0a.75 .75 0 1 0-1.5 0M194.40 95.75a.75 .75 0 1 0 1.5 0a.75 .75 0 1 0-1.5 0M194.40 107.23a.75 .75 0 1 0 1.5 0a.75 .75 0 1 0-1.5 0M194.40 118.72a.75 .75 0 1 0 1.5 0a.75 .75 0 1 0-1.5 0M194.40 130.20a.75 .75 0 1 0 1.5 0a.75 .75 0 1 0-1.5 0M194.40 141.69a.75 .75 0 1 0 1.5 0a.75 .75 0 1 0-1.5 0M194.40 153.18a.75 .75 0 1 0 1.5 0a.75 .75 0 1 0-1.5 0M194.40 164.66a.75 .75 0 1 0 1.5 0a.75 .75 0 1 0-1.5 0M194.40 176.14a.75 .75 0 1 0 1.5 0a.75 .75 0 1 0-1.5 0M194.40 187.63a.75 .75 0 1 0 1.5 0a.75 .75 0 1 0-1.5 0M194.40 199.12a.75 .75 0 1 0 1.5 0a.75 .75 0 1 0-1.5 0M194.40 210.60a.75 .75 0 1 0 1.5 0a.75 .75 0 1 0-1.5 0M194.40 222.09a.75 .75 0 1 0 1.5 0a.75 .75 0 1 0-1.5 0M194.40 233.57a.75 .75 0 1 0 1.5 0a.75 .75 0 1 0-1.5 0M194.40 245.05a.75 .75 0 1 0 1.5 0a.75 .75 0 1 0-1.5 0M194.40 256.54a.75 .75 0 1 0 1.5 0a.75 .75 0 1 0-1.5 0M194.40 268.02a.75 .75 0 1 0 1.5 0a.75 .75 0 1 0-1.5 0M194.40 279.51a.75 .75 0 1 0 1.5 0a.75 .75 0 1 0-1.5 0M194.40 291.00a.75 .75 0 1 0 1.5 0a.75 .75 0 1 0-1.5 0M194.40 302.48a.75 .75 0 1 0 1.5 0a.75 .75 0 1 0-1.5 0M194.40 313.97a.75 .75 0 1 0 1.5 0a.75 .75 0 1 0-1.5 0M194.40 325.45a.75 .75 0 1 0 1.5 0a.75 .75 0 1 0-1.5 0M194.40 336.93a.75 .75 0 1 0 1.5 0a.75 .75 0 1 0-1.5 0M194.40 348.42a.75 .75 0 1 0 1.5 0a.75 .75 0 1 0-1.5 0M194.40 359.90a.75 .75 0 1 0 1.5 0a.75 .75 0 1 0-1.5 0M194.40 371.39a.75 .75 0 1 0 1.5 0a.75 .75 0 1 0-1.5 0M205.88 72.78a.75 .75 0 1 0 1.5 0a.75 .75 0 1 0-1.5 0M205.88 84.27a.75 .75 0 1 0 1.5 0a.75 .75 0 1 0-1.5 0M205.88 95.75a.75 .75 0 1 0 1.5 0a.75 .75 0 1 0-1.5 0M205.88 107.23a.75 .75 0 1 0 1.5 0a.75 .75 0 1 0-1.5 0M205.88 118.72a.75 .75 0 1 0 1.5 0a.75 .75 0 1 0-1.5 0M205.88 130.20a.75 .75 0 1 0 1.5 0a.75 .75 0 1 0-1.5 0M205.88 141.69a.75 .75 0 1 0 1.5 0a.75 .75 0 1 0-1.5 0M205.88 153.18a.75 .75 0 1 0 1.5 0a.75 .75 0 1 0-1.5 0M205.88 164.66a.75 .75 0 1 0 1.5 0a.75 .75 0 1 0-1.5 0M205.88 176.14a.75 .75 0 1 0 1.5 0a.75 .75 0 1 0-1.5 0M205.88 187.63a.75 .75 0 1 0 1.5 0a.75 .75 0 1 0-1.5 0M205.88 199.12a.75 .75 0 1 0 1.5 0a.75 .75 0 1 0-1.5 0M205.88 210.60a.75 .75 0 1 0 1.5 0a.75 .75 0 1 0-1.5 0M205.88 222.09a.75 .75 0 1 0 1.5 0a.75 .75 0 1 0-1.5 0M205.88 233.57a.75 .75 0 1 0 1.5 0a.75 .75 0 1 0-1.5 0M205.88 245.05a.75 .75 0 1 0 1.5 0a.75 .75 0 1 0-1.5 0M205.88 256.54a.75 .75 0 1 0 1.5 0a.75 .75 0 1 0-1.5 0M205.88 268.02a.75 .75 0 1 0 1.5 0a.75 .75 0 1 0-1.5 0M205.88 279.51a.75 .75 0 1 0 1.5 0a.75 .75 0 1 0-1.5 0M205.88 291.00a.75 .75 0 1 0 1.5 0a.75 .75 0 1 0-1.5 0M205.88 302.48a.75 .75 0 1 0 1.5 0a.75 .75 0 1 0-1.5 0M205.88 313.97a.75 .75 0 1 0 1.5 0a.75 .75 0 1 0-1.5 0M205.88 325.45a.75 .75 0 1 0 1.5 0a.75 .75 0 1 0-1.5 0M205.88 336.93a.75 .75 0 1 0 1.5 0a.75 .75 0 1 0-1.5 0M205.88 348.42a.75 .75 0 1 0 1.5 0a.75 .75 0 1 0-1.5 0M205.88 359.90a.75 .75 0 1 0 1.5 0a.75 .75 0 1 0-1.5 0M205.88 371.39a.75 .75 0 1 0 1.5 0a.75 .75 0 1 0-1.5 0M217.36 72.78a.75 .75 0 1 0 1.5 0a.75 .75 0 1 0-1.5 0M217.36 84.27a.75 .75 0 1 0 1.5 0a.75 .75 0 1 0-1.5 0M217.36 95.75a.75 .75 0 1 0 1.5 0a.75 .75 0 1 0-1.5 0M217.36 107.23a.75 .75 0 1 0 1.5 0a.75 .75 0 1 0-1.5 0M217.36 118.72a.75 .75 0 1 0 1.5 0a.75 .75 0 1 0-1.5 0M217.36 130.20a.75 .75 0 1 0 1.5 0a.75 .75 0 1 0-1.5 0M217.36 141.69a.75 .75 0 1 0 1.5 0a.75 .75 0 1 0-1.5 0M217.36 153.18a.75 .75 0 1 0 1.5 0a.75 .75 0 1 0-1.5 0M217.36 164.66a.75 .75 0 1 0 1.5 0a.75 .75 0 1 0-1.5 0M217.36 176.14a.75 .75 0 1 0 1.5 0a.75 .75 0 1 0-1.5 0M217.36 187.63a.75 .75 0 1 0 1.5 0a.75 .75 0 1 0-1.5 0M217.36 199.12a.75 .75 0 1 0 1.5 0a.75 .75 0 1 0-1.5 0M217.36 210.60a.75 .75 0 1 0 1.5 0a.75 .75 0 1 0-1.5 0M217.36 222.09a.75 .75 0 1 0 1.5 0a.75 .75 0 1 0-1.5 0M217.36 233.57a.75 .75 0 1 0 1.5 0a.75 .75 0 1 0-1.5 0M217.36 245.05a.75 .75 0 1 0 1.5 0a.75 .75 0 1 0-1.5 0M217.36 256.54a.75 .75 0 1 0 1.5 0a.75 .75 0 1 0-1.5 0M217.36 268.02a.75 .75 0 1 0 1.5 0a.75 .75 0 1 0-1.5 0M217.36 279.51a.75 .75 0 1 0 1.5 0a.75 .75 0 1 0-1.5 0M217.36 291.00a.75 .75 0 1 0 1.5 0a.75 .75 0 1 0-1.5 0M217.36 302.48a.75 .75 0 1 0 1.5 0a.75 .75 0 1 0-1.5 0M217.36 313.97a.75 .75 0 1 0 1.5 0a.75 .75 0 1 0-1.5 0M217.36 325.45a.75 .75 0 1 0 1.5 0a.75 .75 0 1 0-1.5 0M217.36 336.93a.75 .75 0 1 0 1.5 0a.75 .75 0 1 0-1.5 0M217.36 348.42a.75 .75 0 1 0 1.5 0a.75 .75 0 1 0-1.5 0M217.36 359.90a.75 .75 0 1 0 1.5 0a.75 .75 0 1 0-1.5 0M217.36 371.39a.75 .75 0 1 0 1.5 0a.75 .75 0 1 0-1.5 0M228.85 72.78a.75 .75 0 1 0 1.5 0a.75 .75 0 1 0-1.5 0M228.85 84.27a.75 .75 0 1 0 1.5 0a.75 .75 0 1 0-1.5 0M228.85 95.75a.75 .75 0 1 0 1.5 0a.75 .75 0 1 0-1.5 0M228.85 107.23a.75 .75 0 1 0 1.5 0a.75 .75 0 1 0-1.5 0M228.85 118.72a.75 .75 0 1 0 1.5 0a.75 .75 0 1 0-1.5 0M228.85 130.20a.75 .75 0 1 0 1.5 0a.75 .75 0 1 0-1.5 0M228.85 141.69a.75 .75 0 1 0 1.5 0a.75 .75 0 1 0-1.5 0M228.85 153.18a.75 .75 0 1 0 1.5 0a.75 .75 0 1 0-1.5 0M228.85 164.66a.75 .75 0 1 0 1.5 0a.75 .75 0 1 0-1.5 0M228.85 176.14a.75 .75 0 1 0 1.5 0a.75 .75 0 1 0-1.5 0M228.85 187.63a.75 .75 0 1 0 1.5 0a.75 .75 0 1 0-1.5 0M228.85 199.12a.75 .75 0 1 0 1.5 0a.75 .75 0 1 0-1.5 0M228.85 210.60a.75 .75 0 1 0 1.5 0a.75 .75 0 1 0-1.5 0M228.85 222.09a.75 .75 0 1 0 1.5 0a.75 .75 0 1 0-1.5 0M228.85 233.57a.75 .75 0 1 0 1.5 0a.75 .75 0 1 0-1.5 0M228.85 245.05a.75 .75 0 1 0 1.5 0a.75 .75 0 1 0-1.5 0M228.85 256.54a.75 .75 0 1 0 1.5 0a.75 .75 0 1 0-1.5 0M228.85 268.02a.75 .75 0 1 0 1.5 0a.75 .75 0 1 0-1.5 0M228.85 279.51a.75 .75 0 1 0 1.5 0a.75 .75 0 1 0-1.5 0M228.85 291.00a.75 .75 0 1 0 1.5 0a.75 .75 0 1 0-1.5 0M228.85 302.48a.75 .75 0 1 0 1.5 0a.75 .75 0 1 0-1.5 0M228.85 313.97a.75 .75 0 1 0 1.5 0a.75 .75 0 1 0-1.5 0M228.85 325.45a.75 .75 0 1 0 1.5 0a.75 .75 0 1 0-1.5 0M228.85 336.93a.75 .75 0 1 0 1.5 0a.75 .75 0 1 0-1.5 0M228.85 348.42a.75 .75 0 1 0 1.5 0a.75 .75 0 1 0-1.5 0M228.85 359.90a.75 .75 0 1 0 1.5 0a.75 .75 0 1 0-1.5 0M228.85 371.39a.75 .75 0 1 0 1.5 0a.75 .75 0 1 0-1.5 0M240.34 72.78a.75 .75 0 1 0 1.5 0a.75 .75 0 1 0-1.5 0M240.34 84.27a.75 .75 0 1 0 1.5 0a.75 .75 0 1 0-1.5 0M240.34 95.75a.75 .75 0 1 0 1.5 0a.75 .75 0 1 0-1.5 0M240.34 107.23a.75 .75 0 1 0 1.5 0a.75 .75 0 1 0-1.5 0M240.34 118.72a.75 .75 0 1 0 1.5 0a.75 .75 0 1 0-1.5 0M240.34 130.20a.75 .75 0 1 0 1.5 0a.75 .75 0 1 0-1.5 0M240.34 141.69a.75 .75 0 1 0 1.5 0a.75 .75 0 1 0-1.5 0M240.34 153.18a.75 .75 0 1 0 1.5 0a.75 .75 0 1 0-1.5 0M240.34 164.66a.75 .75 0 1 0 1.5 0a.75 .75 0 1 0-1.5 0M240.34 176.14a.75 .75 0 1 0 1.5 0a.75 .75 0 1 0-1.5 0M240.34 187.63a.75 .75 0 1 0 1.5 0a.75 .75 0 1 0-1.5 0M240.34 199.12a.75 .75 0 1 0 1.5 0a.75 .75 0 1 0-1.5 0M240.34 210.60a.75 .75 0 1 0 1.5 0a.75 .75 0 1 0-1.5 0M240.34 222.09a.75 .75 0 1 0 1.5 0a.75 .75 0 1 0-1.5 0M240.34 233.57a.75 .75 0 1 0 1.5 0a.75 .75 0 1 0-1.5 0M240.34 245.05a.75 .75 0 1 0 1.5 0a.75 .75 0 1 0-1.5 0M240.34 256.54a.75 .75 0 1 0 1.5 0a.75 .75 0 1 0-1.5 0M240.34 268.02a.75 .75 0 1 0 1.5 0a.75 .75 0 1 0-1.5 0M240.34 279.51a.75 .75 0 1 0 1.5 0a.75 .75 0 1 0-1.5 0M240.34 291.00a.75 .75 0 1 0 1.5 0a.75 .75 0 1 0-1.5 0M240.34 302.48a.75 .75 0 1 0 1.5 0a.75 .75 0 1 0-1.5 0M240.34 313.97a.75 .75 0 1 0 1.5 0a.75 .75 0 1 0-1.5 0M240.34 325.45a.75 .75 0 1 0 1.5 0a.75 .75 0 1 0-1.5 0M240.34 336.93a.75 .75 0 1 0 1.5 0a.75 .75 0 1 0-1.5 0M240.34 348.42a.75 .75 0 1 0 1.5 0a.75 .75 0 1 0-1.5 0M240.34 359.90a.75 .75 0 1 0 1.5 0a.75 .75 0 1 0-1.5 0M240.34 371.39a.75 .75 0 1 0 1.5 0a.75 .75 0 1 0-1.5 0M251.82 72.78a.75 .75 0 1 0 1.5 0a.75 .75 0 1 0-1.5 0M251.82 84.27a.75 .75 0 1 0 1.5 0a.75 .75 0 1 0-1.5 0M251.82 95.75a.75 .75 0 1 0 1.5 0a.75 .75 0 1 0-1.5 0M251.82 107.23a.75 .75 0 1 0 1.5 0a.75 .75 0 1 0-1.5 0M251.82 118.72a.75 .75 0 1 0 1.5 0a.75 .75 0 1 0-1.5 0M251.82 130.20a.75 .75 0 1 0 1.5 0a.75 .75 0 1 0-1.5 0M251.82 141.69a.75 .75 0 1 0 1.5 0a.75 .75 0 1 0-1.5 0M251.82 153.18a.75 .75 0 1 0 1.5 0a.75 .75 0 1 0-1.5 0M251.82 164.66a.75 .75 0 1 0 1.5 0a.75 .75 0 1 0-1.5 0M251.82 176.14a.75 .75 0 1 0 1.5 0a.75 .75 0 1 0-1.5 0M251.82 187.63a.75 .75 0 1 0 1.5 0a.75 .75 0 1 0-1.5 0M251.82 199.12a.75 .75 0 1 0 1.5 0a.75 .75 0 1 0-1.5 0M251.82 210.60a.75 .75 0 1 0 1.5 0a.75 .75 0 1 0-1.5 0M251.82 222.09a.75 .75 0 1 0 1.5 0a.75 .75 0 1 0-1.5 0M251.82 233.57a.75 .75 0 1 0 1.5 0a.75 .75 0 1 0-1.5 0M251.82 245.05a.75 .75 0 1 0 1.5 0a.75 .75 0 1 0-1.5 0M251.82 256.54a.75 .75 0 1 0 1.5 0a.75 .75 0 1 0-1.5 0M251.82 268.02a.75 .75 0 1 0 1.5 0a.75 .75 0 1 0-1.5 0M251.82 279.51a.75 .75 0 1 0 1.5 0a.75 .75 0 1 0-1.5 0M251.82 291.00a.75 .75 0 1 0 1.5 0a.75 .75 0 1 0-1.5 0M251.82 302.48a.75 .75 0 1 0 1.5 0a.75 .75 0 1 0-1.5 0M251.82 313.97a.75 .75 0 1 0 1.5 0a.75 .75 0 1 0-1.5 0M251.82 325.45a.75 .75 0 1 0 1.5 0a.75 .75 0 1 0-1.5 0M251.82 336.93a.75 .75 0 1 0 1.5 0a.75 .75 0 1 0-1.5 0M251.82 348.42a.75 .75 0 1 0 1.5 0a.75 .75 0 1 0-1.5 0M251.82 359.90a.75 .75 0 1 0 1.5 0a.75 .75 0 1 0-1.5 0M251.82 371.39a.75 .75 0 1 0 1.5 0a.75 .75 0 1 0-1.5 0M263.30 72.78a.75 .75 0 1 0 1.5 0a.75 .75 0 1 0-1.5 0M263.30 84.27a.75 .75 0 1 0 1.5 0a.75 .75 0 1 0-1.5 0M263.30 95.75a.75 .75 0 1 0 1.5 0a.75 .75 0 1 0-1.5 0M263.30 107.23a.75 .75 0 1 0 1.5 0a.75 .75 0 1 0-1.5 0M263.30 118.72a.75 .75 0 1 0 1.5 0a.75 .75 0 1 0-1.5 0M263.30 130.20a.75 .75 0 1 0 1.5 0a.75 .75 0 1 0-1.5 0M263.30 141.69a.75 .75 0 1 0 1.5 0a.75 .75 0 1 0-1.5 0M263.30 153.18a.75 .75 0 1 0 1.5 0a.75 .75 0 1 0-1.5 0M263.30 164.66a.75 .75 0 1 0 1.5 0a.75 .75 0 1 0-1.5 0M263.30 176.14a.75 .75 0 1 0 1.5 0a.75 .75 0 1 0-1.5 0M263.30 187.63a.75 .75 0 1 0 1.5 0a.75 .75 0 1 0-1.5 0M263.30 199.12a.75 .75 0 1 0 1.5 0a.75 .75 0 1 0-1.5 0M263.30 210.60a.75 .75 0 1 0 1.5 0a.75 .75 0 1 0-1.5 0M263.30 222.09a.75 .75 0 1 0 1.5 0a.75 .75 0 1 0-1.5 0M263.30 233.57a.75 .75 0 1 0 1.5 0a.75 .75 0 1 0-1.5 0M263.30 245.05a.75 .75 0 1 0 1.5 0a.75 .75 0 1 0-1.5 0M263.30 256.54a.75 .75 0 1 0 1.5 0a.75 .75 0 1 0-1.5 0M263.30 268.02a.75 .75 0 1 0 1.5 0a.75 .75 0 1 0-1.5 0M263.30 279.51a.75 .75 0 1 0 1.5 0a.75 .75 0 1 0-1.5 0M263.30 291.00a.75 .75 0 1 0 1.5 0a.75 .75 0 1 0-1.5 0M263.30 302.48a.75 .75 0 1 0 1.5 0a.75 .75 0 1 0-1.5 0M263.30 313.97a.75 .75 0 1 0 1.5 0a.75 .75 0 1 0-1.5 0M263.30 325.45a.75 .75 0 1 0 1.5 0a.75 .75 0 1 0-1.5 0M263.30 336.93a.75 .75 0 1 0 1.5 0a.75 .75 0 1 0-1.5 0M263.30 348.42a.75 .75 0 1 0 1.5 0a.75 .75 0 1 0-1.5 0M263.30 359.90a.75 .75 0 1 0 1.5 0a.75 .75 0 1 0-1.5 0M263.30 371.39a.75 .75 0 1 0 1.5 0a.75 .75 0 1 0-1.5 0M274.79 72.78a.75 .75 0 1 0 1.5 0a.75 .75 0 1 0-1.5 0M274.79 84.27a.75 .75 0 1 0 1.5 0a.75 .75 0 1 0-1.5 0M274.79 95.75a.75 .75 0 1 0 1.5 0a.75 .75 0 1 0-1.5 0M274.79 107.23a.75 .75 0 1 0 1.5 0a.75 .75 0 1 0-1.5 0M274.79 118.72a.75 .75 0 1 0 1.5 0a.75 .75 0 1 0-1.5 0M274.79 130.20a.75 .75 0 1 0 1.5 0a.75 .75 0 1 0-1.5 0M274.79 141.69a.75 .75 0 1 0 1.5 0a.75 .75 0 1 0-1.5 0M274.79 153.18a.75 .75 0 1 0 1.5 0a.75 .75 0 1 0-1.5 0M274.79 164.66a.75 .75 0 1 0 1.5 0a.75 .75 0 1 0-1.5 0M274.79 176.14a.75 .75 0 1 0 1.5 0a.75 .75 0 1 0-1.5 0M274.79 187.63a.75 .75 0 1 0 1.5 0a.75 .75 0 1 0-1.5 0M274.79 199.12a.75 .75 0 1 0 1.5 0a.75 .75 0 1 0-1.5 0M274.79 210.60a.75 .75 0 1 0 1.5 0a.75 .75 0 1 0-1.5 0M274.79 222.09a.75 .75 0 1 0 1.5 0a.75 .75 0 1 0-1.5 0M274.79 233.57a.75 .75 0 1 0 1.5 0a.75 .75 0 1 0-1.5 0M274.79 245.05a.75 .75 0 1 0 1.5 0a.75 .75 0 1 0-1.5 0M274.79 256.54a.75 .75 0 1 0 1.5 0a.75 .75 0 1 0-1.5 0M274.79 268.02a.75 .75 0 1 0 1.5 0a.75 .75 0 1 0-1.5 0M274.79 279.51a.75 .75 0 1 0 1.5 0a.75 .75 0 1 0-1.5 0M274.79 291.00a.75 .75 0 1 0 1.5 0a.75 .75 0 1 0-1.5 0M274.79 302.48a.75 .75 0 1 0 1.5 0a.75 .75 0 1 0-1.5 0M274.79 313.97a.75 .75 0 1 0 1.5 0a.75 .75 0 1 0-1.5 0M274.79 325.45a.75 .75 0 1 0 1.5 0a.75 .75 0 1 0-1.5 0M274.79 336.93a.75 .75 0 1 0 1.5 0a.75 .75 0 1 0-1.5 0M274.79 348.42a.75 .75 0 1 0 1.5 0a.75 .75 0 1 0-1.5 0M274.79 359.90a.75 .75 0 1 0 1.5 0a.75 .75 0 1 0-1.5 0M274.79 371.39a.75 .75 0 1 0 1.5 0a.75 .75 0 1 0-1.5 0M286.27 72.78a.75 .75 0 1 0 1.5 0a.75 .75 0 1 0-1.5 0M286.27 84.27a.75 .75 0 1 0 1.5 0a.75 .75 0 1 0-1.5 0M286.27 95.75a.75 .75 0 1 0 1.5 0a.75 .75 0 1 0-1.5 0M286.27 107.23a.75 .75 0 1 0 1.5 0a.75 .75 0 1 0-1.5 0M286.27 118.72a.75 .75 0 1 0 1.5 0a.75 .75 0 1 0-1.5 0M286.27 130.20a.75 .75 0 1 0 1.5 0a.75 .75 0 1 0-1.5 0M286.27 141.69a.75 .75 0 1 0 1.5 0a.75 .75 0 1 0-1.5 0M286.27 153.18a.75 .75 0 1 0 1.5 0a.75 .75 0 1 0-1.5 0M286.27 164.66a.75 .75 0 1 0 1.5 0a.75 .75 0 1 0-1.5 0M286.27 176.14a.75 .75 0 1 0 1.5 0a.75 .75 0 1 0-1.5 0M286.27 187.63a.75 .75 0 1 0 1.5 0a.75 .75 0 1 0-1.5 0M286.27 199.12a.75 .75 0 1 0 1.5 0a.75 .75 0 1 0-1.5 0M286.27 210.60a.75 .75 0 1 0 1.5 0a.75 .75 0 1 0-1.5 0M286.27 222.09a.75 .75 0 1 0 1.5 0a.75 .75 0 1 0-1.5 0M286.27 233.57a.75 .75 0 1 0 1.5 0a.75 .75 0 1 0-1.5 0M286.27 245.05a.75 .75 0 1 0 1.5 0a.75 .75 0 1 0-1.5 0M286.27 256.54a.75 .75 0 1 0 1.5 0a.75 .75 0 1 0-1.5 0M286.27 268.02a.75 .75 0 1 0 1.5 0a.75 .75 0 1 0-1.5 0M286.27 279.51a.75 .75 0 1 0 1.5 0a.75 .75 0 1 0-1.5 0M286.27 291.00a.75 .75 0 1 0 1.5 0a.75 .75 0 1 0-1.5 0M286.27 302.48a.75 .75 0 1 0 1.5 0a.75 .75 0 1 0-1.5 0M286.27 313.97a.75 .75 0 1 0 1.5 0a.75 .75 0 1 0-1.5 0M286.27 325.45a.75 .75 0 1 0 1.5 0a.75 .75 0 1 0-1.5 0M286.27 336.93a.75 .75 0 1 0 1.5 0a.75 .75 0 1 0-1.5 0M286.27 348.42a.75 .75 0 1 0 1.5 0a.75 .75 0 1 0-1.5 0M286.27 359.90a.75 .75 0 1 0 1.5 0a.75 .75 0 1 0-1.5 0M286.27 371.39a.75 .75 0 1 0 1.5 0a.75 .75 0 1 0-1.5 0M297.76 72.78a.75 .75 0 1 0 1.5 0a.75 .75 0 1 0-1.5 0M297.76 84.27a.75 .75 0 1 0 1.5 0a.75 .75 0 1 0-1.5 0M297.76 95.75a.75 .75 0 1 0 1.5 0a.75 .75 0 1 0-1.5 0M297.76 107.23a.75 .75 0 1 0 1.5 0a.75 .75 0 1 0-1.5 0M297.76 118.72a.75 .75 0 1 0 1.5 0a.75 .75 0 1 0-1.5 0M297.76 130.20a.75 .75 0 1 0 1.5 0a.75 .75 0 1 0-1.5 0M297.76 141.69a.75 .75 0 1 0 1.5 0a.75 .75 0 1 0-1.5 0M297.76 153.18a.75 .75 0 1 0 1.5 0a.75 .75 0 1 0-1.5 0M297.76 164.66a.75 .75 0 1 0 1.5 0a.75 .75 0 1 0-1.5 0M297.76 176.14a.75 .75 0 1 0 1.5 0a.75 .75 0 1 0-1.5 0M297.76 187.63a.75 .75 0 1 0 1.5 0a.75 .75 0 1 0-1.5 0M297.76 199.12a.75 .75 0 1 0 1.5 0a.75 .75 0 1 0-1.5 0M297.76 210.60a.75 .75 0 1 0 1.5 0a.75 .75 0 1 0-1.5 0M297.76 222.09a.75 .75 0 1 0 1.5 0a.75 .75 0 1 0-1.5 0M297.76 233.57a.75 .75 0 1 0 1.5 0a.75 .75 0 1 0-1.5 0M297.76 245.05a.75 .75 0 1 0 1.5 0a.75 .75 0 1 0-1.5 0M297.76 256.54a.75 .75 0 1 0 1.5 0a.75 .75 0 1 0-1.5 0M297.76 268.02a.75 .75 0 1 0 1.5 0a.75 .75 0 1 0-1.5 0M297.76 279.51a.75 .75 0 1 0 1.5 0a.75 .75 0 1 0-1.5 0M297.76 291.00a.75 .75 0 1 0 1.5 0a.75 .75 0 1 0-1.5 0M297.76 302.48a.75 .75 0 1 0 1.5 0a.75 .75 0 1 0-1.5 0M297.76 313.97a.75 .75 0 1 0 1.5 0a.75 .75 0 1 0-1.5 0M297.76 325.45a.75 .75 0 1 0 1.5 0a.75 .75 0 1 0-1.5 0M297.76 336.93a.75 .75 0 1 0 1.5 0a.75 .75 0 1 0-1.5 0M297.76 348.42a.75 .75 0 1 0 1.5 0a.75 .75 0 1 0-1.5 0M297.76 359.90a.75 .75 0 1 0 1.5 0a.75 .75 0 1 0-1.5 0M297.76 371.39a.75 .75 0 1 0 1.5 0a.75 .75 0 1 0-1.5 0M309.25 72.78a.75 .75 0 1 0 1.5 0a.75 .75 0 1 0-1.5 0M309.25 84.27a.75 .75 0 1 0 1.5 0a.75 .75 0 1 0-1.5 0M309.25 95.75a.75 .75 0 1 0 1.5 0a.75 .75 0 1 0-1.5 0M309.25 107.23a.75 .75 0 1 0 1.5 0a.75 .75 0 1 0-1.5 0M309.25 118.72a.75 .75 0 1 0 1.5 0a.75 .75 0 1 0-1.5 0M309.25 130.20a.75 .75 0 1 0 1.5 0a.75 .75 0 1 0-1.5 0M309.25 141.69a.75 .75 0 1 0 1.5 0a.75 .75 0 1 0-1.5 0M309.25 153.18a.75 .75 0 1 0 1.5 0a.75 .75 0 1 0-1.5 0M309.25 164.66a.75 .75 0 1 0 1.5 0a.75 .75 0 1 0-1.5 0M309.25 176.14a.75 .75 0 1 0 1.5 0a.75 .75 0 1 0-1.5 0M309.25 187.63a.75 .75 0 1 0 1.5 0a.75 .75 0 1 0-1.5 0M309.25 199.12a.75 .75 0 1 0 1.5 0a.75 .75 0 1 0-1.5 0M309.25 210.60a.75 .75 0 1 0 1.5 0a.75 .75 0 1 0-1.5 0M309.25 222.09a.75 .75 0 1 0 1.5 0a.75 .75 0 1 0-1.5 0M309.25 233.57a.75 .75 0 1 0 1.5 0a.75 .75 0 1 0-1.5 0M309.25 245.05a.75 .75 0 1 0 1.5 0a.75 .75 0 1 0-1.5 0M309.25 256.54a.75 .75 0 1 0 1.5 0a.75 .75 0 1 0-1.5 0M309.25 268.02a.75 .75 0 1 0 1.5 0a.75 .75 0 1 0-1.5 0M309.25 279.51a.75 .75 0 1 0 1.5 0a.75 .75 0 1 0-1.5 0M309.25 291.00a.75 .75 0 1 0 1.5 0a.75 .75 0 1 0-1.5 0M309.25 302.48a.75 .75 0 1 0 1.5 0a.75 .75 0 1 0-1.5 0M309.25 313.97a.75 .75 0 1 0 1.5 0a.75 .75 0 1 0-1.5 0M309.25 325.45a.75 .75 0 1 0 1.5 0a.75 .75 0 1 0-1.5 0M309.25 336.93a.75 .75 0 1 0 1.5 0a.75 .75 0 1 0-1.5 0M309.25 348.42a.75 .75 0 1 0 1.5 0a.75 .75 0 1 0-1.5 0M309.25 359.90a.75 .75 0 1 0 1.5 0a.75 .75 0 1 0-1.5 0M309.25 371.39a.75 .75 0 1 0 1.5 0a.75 .75 0 1 0-1.5 0M320.73 72.78a.75 .75 0 1 0 1.5 0a.75 .75 0 1 0-1.5 0M320.73 84.27a.75 .75 0 1 0 1.5 0a.75 .75 0 1 0-1.5 0M320.73 95.75a.75 .75 0 1 0 1.5 0a.75 .75 0 1 0-1.5 0M320.73 107.23a.75 .75 0 1 0 1.5 0a.75 .75 0 1 0-1.5 0M320.73 118.72a.75 .75 0 1 0 1.5 0a.75 .75 0 1 0-1.5 0M320.73 130.20a.75 .75 0 1 0 1.5 0a.75 .75 0 1 0-1.5 0M320.73 141.69a.75 .75 0 1 0 1.5 0a.75 .75 0 1 0-1.5 0M320.73 153.18a.75 .75 0 1 0 1.5 0a.75 .75 0 1 0-1.5 0M320.73 164.66a.75 .75 0 1 0 1.5 0a.75 .75 0 1 0-1.5 0M320.73 176.14a.75 .75 0 1 0 1.5 0a.75 .75 0 1 0-1.5 0M320.73 187.63a.75 .75 0 1 0 1.5 0a.75 .75 0 1 0-1.5 0M320.73 199.12a.75 .75 0 1 0 1.5 0a.75 .75 0 1 0-1.5 0M320.73 210.60a.75 .75 0 1 0 1.5 0a.75 .75 0 1 0-1.5 0M320.73 222.09a.75 .75 0 1 0 1.5 0a.75 .75 0 1 0-1.5 0M320.73 233.57a.75 .75 0 1 0 1.5 0a.75 .75 0 1 0-1.5 0M320.73 245.05a.75 .75 0 1 0 1.5 0a.75 .75 0 1 0-1.5 0M320.73 256.54a.75 .75 0 1 0 1.5 0a.75 .75 0 1 0-1.5 0M320.73 268.02a.75 .75 0 1 0 1.5 0a.75 .75 0 1 0-1.5 0M320.73 279.51a.75 .75 0 1 0 1.5 0a.75 .75 0 1 0-1.5 0M320.73 291.00a.75 .75 0 1 0 1.5 0a.75 .75 0 1 0-1.5 0M320.73 302.48a.75 .75 0 1 0 1.5 0a.75 .75 0 1 0-1.5 0M320.73 313.97a.75 .75 0 1 0 1.5 0a.75 .75 0 1 0-1.5 0M320.73 325.45a.75 .75 0 1 0 1.5 0a.75 .75 0 1 0-1.5 0M320.73 336.93a.75 .75 0 1 0 1.5 0a.75 .75 0 1 0-1.5 0M320.73 348.42a.75 .75 0 1 0 1.5 0a.75 .75 0 1 0-1.5 0M320.73 359.90a.75 .75 0 1 0 1.5 0a.75 .75 0 1 0-1.5 0M320.73 371.39a.75 .75 0 1 0 1.5 0a.75 .75 0 1 0-1.5 0M332.22 72.78a.75 .75 0 1 0 1.5 0a.75 .75 0 1 0-1.5 0M332.22 84.27a.75 .75 0 1 0 1.5 0a.75 .75 0 1 0-1.5 0M332.22 95.75a.75 .75 0 1 0 1.5 0a.75 .75 0 1 0-1.5 0M332.22 107.23a.75 .75 0 1 0 1.5 0a.75 .75 0 1 0-1.5 0M332.22 118.72a.75 .75 0 1 0 1.5 0a.75 .75 0 1 0-1.5 0M332.22 130.20a.75 .75 0 1 0 1.5 0a.75 .75 0 1 0-1.5 0M332.22 141.69a.75 .75 0 1 0 1.5 0a.75 .75 0 1 0-1.5 0M332.22 153.18a.75 .75 0 1 0 1.5 0a.75 .75 0 1 0-1.5 0M332.22 164.66a.75 .75 0 1 0 1.5 0a.75 .75 0 1 0-1.5 0M332.22 176.14a.75 .75 0 1 0 1.5 0a.75 .75 0 1 0-1.5 0M332.22 187.63a.75 .75 0 1 0 1.5 0a.75 .75 0 1 0-1.5 0M332.22 199.12a.75 .75 0 1 0 1.5 0a.75 .75 0 1 0-1.5 0M332.22 210.60a.75 .75 0 1 0 1.5 0a.75 .75 0 1 0-1.5 0M332.22 222.09a.75 .75 0 1 0 1.5 0a.75 .75 0 1 0-1.5 0M332.22 233.57a.75 .75 0 1 0 1.5 0a.75 .75 0 1 0-1.5 0M332.22 245.05a.75 .75 0 1 0 1.5 0a.75 .75 0 1 0-1.5 0M332.22 256.54a.75 .75 0 1 0 1.5 0a.75 .75 0 1 0-1.5 0M332.22 268.02a.75 .75 0 1 0 1.5 0a.75 .75 0 1 0-1.5 0M332.22 279.51a.75 .75 0 1 0 1.5 0a.75 .75 0 1 0-1.5 0M332.22 291.00a.75 .75 0 1 0 1.5 0a.75 .75 0 1 0-1.5 0M332.22 302.48a.75 .75 0 1 0 1.5 0a.75 .75 0 1 0-1.5 0M332.22 313.97a.75 .75 0 1 0 1.5 0a.75 .75 0 1 0-1.5 0M332.22 325.45a.75 .75 0 1 0 1.5 0a.75 .75 0 1 0-1.5 0M332.22 336.93a.75 .75 0 1 0 1.5 0a.75 .75 0 1 0-1.5 0M332.22 348.42a.75 .75 0 1 0 1.5 0a.75 .75 0 1 0-1.5 0M332.22 359.90a.75 .75 0 1 0 1.5 0a.75 .75 0 1 0-1.5 0M332.22 371.39a.75 .75 0 1 0 1.5 0a.75 .75 0 1 0-1.5 0M343.70 72.78a.75 .75 0 1 0 1.5 0a.75 .75 0 1 0-1.5 0M343.70 84.27a.75 .75 0 1 0 1.5 0a.75 .75 0 1 0-1.5 0M343.70 95.75a.75 .75 0 1 0 1.5 0a.75 .75 0 1 0-1.5 0M343.70 107.23a.75 .75 0 1 0 1.5 0a.75 .75 0 1 0-1.5 0M343.70 118.72a.75 .75 0 1 0 1.5 0a.75 .75 0 1 0-1.5 0M343.70 130.20a.75 .75 0 1 0 1.5 0a.75 .75 0 1 0-1.5 0M343.70 141.69a.75 .75 0 1 0 1.5 0a.75 .75 0 1 0-1.5 0M343.70 153.18a.75 .75 0 1 0 1.5 0a.75 .75 0 1 0-1.5 0M343.70 164.66a.75 .75 0 1 0 1.5 0a.75 .75 0 1 0-1.5 0M343.70 176.14a.75 .75 0 1 0 1.5 0a.75 .75 0 1 0-1.5 0M343.70 187.63a.75 .75 0 1 0 1.5 0a.75 .75 0 1 0-1.5 0M343.70 199.12a.75 .75 0 1 0 1.5 0a.75 .75 0 1 0-1.5 0M343.70 210.60a.75 .75 0 1 0 1.5 0a.75 .75 0 1 0-1.5 0M343.70 222.09a.75 .75 0 1 0 1.5 0a.75 .75 0 1 0-1.5 0M343.70 233.57a.75 .75 0 1 0 1.5 0a.75 .75 0 1 0-1.5 0M343.70 245.05a.75 .75 0 1 0 1.5 0a.75 .75 0 1 0-1.5 0M343.70 256.54a.75 .75 0 1 0 1.5 0a.75 .75 0 1 0-1.5 0M343.70 268.02a.75 .75 0 1 0 1.5 0a.75 .75 0 1 0-1.5 0M343.70 279.51a.75 .75 0 1 0 1.5 0a.75 .75 0 1 0-1.5 0M343.70 291.00a.75 .75 0 1 0 1.5 0a.75 .75 0 1 0-1.5 0M343.70 302.48a.75 .75 0 1 0 1.5 0a.75 .75 0 1 0-1.5 0M343.70 313.97a.75 .75 0 1 0 1.5 0a.75 .75 0 1 0-1.5 0M343.70 325.45a.75 .75 0 1 0 1.5 0a.75 .75 0 1 0-1.5 0M343.70 336.93a.75 .75 0 1 0 1.5 0a.75 .75 0 1 0-1.5 0M343.70 348.42a.75 .75 0 1 0 1.5 0a.75 .75 0 1 0-1.5 0M343.70 359.90a.75 .75 0 1 0 1.5 0a.75 .75 0 1 0-1.5 0M343.70 371.39a.75 .75 0 1 0 1.5 0a.75 .75 0 1 0-1.5 0M355.18 72.78a.75 .75 0 1 0 1.5 0a.75 .75 0 1 0-1.5 0M355.18 84.27a.75 .75 0 1 0 1.5 0a.75 .75 0 1 0-1.5 0M355.18 95.75a.75 .75 0 1 0 1.5 0a.75 .75 0 1 0-1.5 0M355.18 107.23a.75 .75 0 1 0 1.5 0a.75 .75 0 1 0-1.5 0M355.18 118.72a.75 .75 0 1 0 1.5 0a.75 .75 0 1 0-1.5 0M355.18 130.20a.75 .75 0 1 0 1.5 0a.75 .75 0 1 0-1.5 0M355.18 141.69a.75 .75 0 1 0 1.5 0a.75 .75 0 1 0-1.5 0M355.18 153.18a.75 .75 0 1 0 1.5 0a.75 .75 0 1 0-1.5 0M355.18 164.66a.75 .75 0 1 0 1.5 0a.75 .75 0 1 0-1.5 0M355.18 176.14a.75 .75 0 1 0 1.5 0a.75 .75 0 1 0-1.5 0M355.18 187.63a.75 .75 0 1 0 1.5 0a.75 .75 0 1 0-1.5 0M355.18 199.12a.75 .75 0 1 0 1.5 0a.75 .75 0 1 0-1.5 0M355.18 210.60a.75 .75 0 1 0 1.5 0a.75 .75 0 1 0-1.5 0M355.18 222.09a.75 .75 0 1 0 1.5 0a.75 .75 0 1 0-1.5 0M355.18 233.57a.75 .75 0 1 0 1.5 0a.75 .75 0 1 0-1.5 0M355.18 245.05a.75 .75 0 1 0 1.5 0a.75 .75 0 1 0-1.5 0M355.18 256.54a.75 .75 0 1 0 1.5 0a.75 .75 0 1 0-1.5 0M355.18 268.02a.75 .75 0 1 0 1.5 0a.75 .75 0 1 0-1.5 0M355.18 279.51a.75 .75 0 1 0 1.5 0a.75 .75 0 1 0-1.5 0M355.18 291.00a.75 .75 0 1 0 1.5 0a.75 .75 0 1 0-1.5 0M355.18 302.48a.75 .75 0 1 0 1.5 0a.75 .75 0 1 0-1.5 0M355.18 313.97a.75 .75 0 1 0 1.5 0a.75 .75 0 1 0-1.5 0M355.18 325.45a.75 .75 0 1 0 1.5 0a.75 .75 0 1 0-1.5 0M355.18 336.93a.75 .75 0 1 0 1.5 0a.75 .75 0 1 0-1.5 0M355.18 348.42a.75 .75 0 1 0 1.5 0a.75 .75 0 1 0-1.5 0M355.18 359.90a.75 .75 0 1 0 1.5 0a.75 .75 0 1 0-1.5 0M355.18 371.39a.75 .75 0 1 0 1.5 0a.75 .75 0 1 0-1.5 0M366.67 72.78a.75 .75 0 1 0 1.5 0a.75 .75 0 1 0-1.5 0M366.67 84.27a.75 .75 0 1 0 1.5 0a.75 .75 0 1 0-1.5 0M366.67 95.75a.75 .75 0 1 0 1.5 0a.75 .75 0 1 0-1.5 0M366.67 107.23a.75 .75 0 1 0 1.5 0a.75 .75 0 1 0-1.5 0M366.67 118.72a.75 .75 0 1 0 1.5 0a.75 .75 0 1 0-1.5 0M366.67 130.20a.75 .75 0 1 0 1.5 0a.75 .75 0 1 0-1.5 0M366.67 141.69a.75 .75 0 1 0 1.5 0a.75 .75 0 1 0-1.5 0M366.67 153.18a.75 .75 0 1 0 1.5 0a.75 .75 0 1 0-1.5 0M366.67 164.66a.75 .75 0 1 0 1.5 0a.75 .75 0 1 0-1.5 0M366.67 176.14a.75 .75 0 1 0 1.5 0a.75 .75 0 1 0-1.5 0M366.67 187.63a.75 .75 0 1 0 1.5 0a.75 .75 0 1 0-1.5 0M366.67 199.12a.75 .75 0 1 0 1.5 0a.75 .75 0 1 0-1.5 0M366.67 210.60a.75 .75 0 1 0 1.5 0a.75 .75 0 1 0-1.5 0M366.67 222.09a.75 .75 0 1 0 1.5 0a.75 .75 0 1 0-1.5 0M366.67 233.57a.75 .75 0 1 0 1.5 0a.75 .75 0 1 0-1.5 0M366.67 245.05a.75 .75 0 1 0 1.5 0a.75 .75 0 1 0-1.5 0M366.67 256.54a.75 .75 0 1 0 1.5 0a.75 .75 0 1 0-1.5 0M366.67 268.02a.75 .75 0 1 0 1.5 0a.75 .75 0 1 0-1.5 0M366.67 279.51a.75 .75 0 1 0 1.5 0a.75 .75 0 1 0-1.5 0M366.67 291.00a.75 .75 0 1 0 1.5 0a.75 .75 0 1 0-1.5 0M366.67 302.48a.75 .75 0 1 0 1.5 0a.75 .75 0 1 0-1.5 0M366.67 313.97a.75 .75 0 1 0 1.5 0a.75 .75 0 1 0-1.5 0M366.67 325.45a.75 .75 0 1 0 1.5 0a.75 .75 0 1 0-1.5 0M366.67 336.93a.75 .75 0 1 0 1.5 0a.75 .75 0 1 0-1.5 0M366.67 348.42a.75 .75 0 1 0 1.5 0a.75 .75 0 1 0-1.5 0M366.67 359.90a.75 .75 0 1 0 1.5 0a.75 .75 0 1 0-1.5 0M366.67 371.39a.75 .75 0 1 0 1.5 0a.75 .75 0 1 0-1.5 0M378.15 72.78a.75 .75 0 1 0 1.5 0a.75 .75 0 1 0-1.5 0M378.15 84.27a.75 .75 0 1 0 1.5 0a.75 .75 0 1 0-1.5 0M378.15 95.75a.75 .75 0 1 0 1.5 0a.75 .75 0 1 0-1.5 0M378.15 107.23a.75 .75 0 1 0 1.5 0a.75 .75 0 1 0-1.5 0M378.15 118.72a.75 .75 0 1 0 1.5 0a.75 .75 0 1 0-1.5 0M378.15 130.20a.75 .75 0 1 0 1.5 0a.75 .75 0 1 0-1.5 0M378.15 141.69a.75 .75 0 1 0 1.5 0a.75 .75 0 1 0-1.5 0M378.15 153.18a.75 .75 0 1 0 1.5 0a.75 .75 0 1 0-1.5 0M378.15 164.66a.75 .75 0 1 0 1.5 0a.75 .75 0 1 0-1.5 0M378.15 176.14a.75 .75 0 1 0 1.5 0a.75 .75 0 1 0-1.5 0M378.15 187.63a.75 .75 0 1 0 1.5 0a.75 .75 0 1 0-1.5 0M378.15 199.12a.75 .75 0 1 0 1.5 0a.75 .75 0 1 0-1.5 0M378.15 210.60a.75 .75 0 1 0 1.5 0a.75 .75 0 1 0-1.5 0M378.15 222.09a.75 .75 0 1 0 1.5 0a.75 .75 0 1 0-1.5 0M378.15 233.57a.75 .75 0 1 0 1.5 0a.75 .75 0 1 0-1.5 0M378.15 245.05a.75 .75 0 1 0 1.5 0a.75 .75 0 1 0-1.5 0M378.15 256.54a.75 .75 0 1 0 1.5 0a.75 .75 0 1 0-1.5 0M378.15 268.02a.75 .75 0 1 0 1.5 0a.75 .75 0 1 0-1.5 0M378.15 279.51a.75 .75 0 1 0 1.5 0a.75 .75 0 1 0-1.5 0M378.15 291.00a.75 .75 0 1 0 1.5 0a.75 .75 0 1 0-1.5 0M378.15 302.48a.75 .75 0 1 0 1.5 0a.75 .75 0 1 0-1.5 0M378.15 313.97a.75 .75 0 1 0 1.5 0a.75 .75 0 1 0-1.5 0M378.15 325.45a.75 .75 0 1 0 1.5 0a.75 .75 0 1 0-1.5 0M378.15 336.93a.75 .75 0 1 0 1.5 0a.75 .75 0 1 0-1.5 0M378.15 348.42a.75 .75 0 1 0 1.5 0a.75 .75 0 1 0-1.5 0M378.15 359.90a.75 .75 0 1 0 1.5 0a.75 .75 0 1 0-1.5 0M378.15 371.39a.75 .75 0 1 0 1.5 0a.75 .75 0 1 0-1.5 0M389.64 72.78a.75 .75 0 1 0 1.5 0a.75 .75 0 1 0-1.5 0M389.64 84.27a.75 .75 0 1 0 1.5 0a.75 .75 0 1 0-1.5 0M389.64 95.75a.75 .75 0 1 0 1.5 0a.75 .75 0 1 0-1.5 0M389.64 107.23a.75 .75 0 1 0 1.5 0a.75 .75 0 1 0-1.5 0M389.64 118.72a.75 .75 0 1 0 1.5 0a.75 .75 0 1 0-1.5 0M389.64 130.20a.75 .75 0 1 0 1.5 0a.75 .75 0 1 0-1.5 0M389.64 141.69a.75 .75 0 1 0 1.5 0a.75 .75 0 1 0-1.5 0M389.64 153.18a.75 .75 0 1 0 1.5 0a.75 .75 0 1 0-1.5 0M389.64 164.66a.75 .75 0 1 0 1.5 0a.75 .75 0 1 0-1.5 0M389.64 176.14a.75 .75 0 1 0 1.5 0a.75 .75 0 1 0-1.5 0M389.64 187.63a.75 .75 0 1 0 1.5 0a.75 .75 0 1 0-1.5 0M389.64 199.12a.75 .75 0 1 0 1.5 0a.75 .75 0 1 0-1.5 0M389.64 210.60a.75 .75 0 1 0 1.5 0a.75 .75 0 1 0-1.5 0M389.64 222.09a.75 .75 0 1 0 1.5 0a.75 .75 0 1 0-1.5 0M389.64 233.57a.75 .75 0 1 0 1.5 0a.75 .75 0 1 0-1.5 0M389.64 245.05a.75 .75 0 1 0 1.5 0a.75 .75 0 1 0-1.5 0M389.64 256.54a.75 .75 0 1 0 1.5 0a.75 .75 0 1 0-1.5 0M389.64 268.02a.75 .75 0 1 0 1.5 0a.75 .75 0 1 0-1.5 0M389.64 279.51a.75 .75 0 1 0 1.5 0a.75 .75 0 1 0-1.5 0M389.64 291.00a.75 .75 0 1 0 1.5 0a.75 .75 0 1 0-1.5 0M389.64 302.48a.75 .75 0 1 0 1.5 0a.75 .75 0 1 0-1.5 0M389.64 313.97a.75 .75 0 1 0 1.5 0a.75 .75 0 1 0-1.5 0M389.64 325.45a.75 .75 0 1 0 1.5 0a.75 .75 0 1 0-1.5 0M389.64 336.93a.75 .75 0 1 0 1.5 0a.75 .75 0 1 0-1.5 0M389.64 348.42a.75 .75 0 1 0 1.5 0a.75 .75 0 1 0-1.5 0M389.64 359.90a.75 .75 0 1 0 1.5 0a.75 .75 0 1 0-1.5 0M389.64 371.39a.75 .75 0 1 0 1.5 0a.75 .75 0 1 0-1.5 0M401.12 72.78a.75 .75 0 1 0 1.5 0a.75 .75 0 1 0-1.5 0M401.12 84.27a.75 .75 0 1 0 1.5 0a.75 .75 0 1 0-1.5 0M401.12 95.75a.75 .75 0 1 0 1.5 0a.75 .75 0 1 0-1.5 0M401.12 107.23a.75 .75 0 1 0 1.5 0a.75 .75 0 1 0-1.5 0M401.12 118.72a.75 .75 0 1 0 1.5 0a.75 .75 0 1 0-1.5 0M401.12 130.20a.75 .75 0 1 0 1.5 0a.75 .75 0 1 0-1.5 0M401.12 141.69a.75 .75 0 1 0 1.5 0a.75 .75 0 1 0-1.5 0M401.12 153.18a.75 .75 0 1 0 1.5 0a.75 .75 0 1 0-1.5 0M401.12 164.66a.75 .75 0 1 0 1.5 0a.75 .75 0 1 0-1.5 0M401.12 176.14a.75 .75 0 1 0 1.5 0a.75 .75 0 1 0-1.5 0M401.12 187.63a.75 .75 0 1 0 1.5 0a.75 .75 0 1 0-1.5 0M401.12 199.12a.75 .75 0 1 0 1.5 0a.75 .75 0 1 0-1.5 0M401.12 210.60a.75 .75 0 1 0 1.5 0a.75 .75 0 1 0-1.5 0M401.12 222.09a.75 .75 0 1 0 1.5 0a.75 .75 0 1 0-1.5 0M401.12 233.57a.75 .75 0 1 0 1.5 0a.75 .75 0 1 0-1.5 0M401.12 245.05a.75 .75 0 1 0 1.5 0a.75 .75 0 1 0-1.5 0M401.12 256.54a.75 .75 0 1 0 1.5 0a.75 .75 0 1 0-1.5 0M401.12 268.02a.75 .75 0 1 0 1.5 0a.75 .75 0 1 0-1.5 0M401.12 279.51a.75 .75 0 1 0 1.5 0a.75 .75 0 1 0-1.5 0M401.12 291.00a.75 .75 0 1 0 1.5 0a.75 .75 0 1 0-1.5 0M401.12 302.48a.75 .75 0 1 0 1.5 0a.75 .75 0 1 0-1.5 0M401.12 313.97a.75 .75 0 1 0 1.5 0a.75 .75 0 1 0-1.5 0M401.12 325.45a.75 .75 0 1 0 1.5 0a.75 .75 0 1 0-1.5 0M401.12 336.93a.75 .75 0 1 0 1.5 0a.75 .75 0 1 0-1.5 0M401.12 348.42a.75 .75 0 1 0 1.5 0a.75 .75 0 1 0-1.5 0M401.12 359.90a.75 .75 0 1 0 1.5 0a.75 .75 0 1 0-1.5 0M401.12 371.39a.75 .75 0 1 0 1.5 0a.75 .75 0 1 0-1.5 0M412.61 72.78a.75 .75 0 1 0 1.5 0a.75 .75 0 1 0-1.5 0M412.61 84.27a.75 .75 0 1 0 1.5 0a.75 .75 0 1 0-1.5 0M412.61 95.75a.75 .75 0 1 0 1.5 0a.75 .75 0 1 0-1.5 0M412.61 107.23a.75 .75 0 1 0 1.5 0a.75 .75 0 1 0-1.5 0M412.61 118.72a.75 .75 0 1 0 1.5 0a.75 .75 0 1 0-1.5 0M412.61 130.20a.75 .75 0 1 0 1.5 0a.75 .75 0 1 0-1.5 0M412.61 141.69a.75 .75 0 1 0 1.5 0a.75 .75 0 1 0-1.5 0M412.61 153.18a.75 .75 0 1 0 1.5 0a.75 .75 0 1 0-1.5 0M412.61 164.66a.75 .75 0 1 0 1.5 0a.75 .75 0 1 0-1.5 0M412.61 176.14a.75 .75 0 1 0 1.5 0a.75 .75 0 1 0-1.5 0M412.61 187.63a.75 .75 0 1 0 1.5 0a.75 .75 0 1 0-1.5 0M412.61 199.12a.75 .75 0 1 0 1.5 0a.75 .75 0 1 0-1.5 0M412.61 210.60a.75 .75 0 1 0 1.5 0a.75 .75 0 1 0-1.5 0M412.61 222.09a.75 .75 0 1 0 1.5 0a.75 .75 0 1 0-1.5 0M412.61 233.57a.75 .75 0 1 0 1.5 0a.75 .75 0 1 0-1.5 0M412.61 245.05a.75 .75 0 1 0 1.5 0a.75 .75 0 1 0-1.5 0M412.61 256.54a.75 .75 0 1 0 1.5 0a.75 .75 0 1 0-1.5 0M412.61 268.02a.75 .75 0 1 0 1.5 0a.75 .75 0 1 0-1.5 0M412.61 279.51a.75 .75 0 1 0 1.5 0a.75 .75 0 1 0-1.5 0M412.61 291.00a.75 .75 0 1 0 1.5 0a.75 .75 0 1 0-1.5 0M412.61 302.48a.75 .75 0 1 0 1.5 0a.75 .75 0 1 0-1.5 0M412.61 313.97a.75 .75 0 1 0 1.5 0a.75 .75 0 1 0-1.5 0M412.61 325.45a.75 .75 0 1 0 1.5 0a.75 .75 0 1 0-1.5 0M412.61 336.93a.75 .75 0 1 0 1.5 0a.75 .75 0 1 0-1.5 0M412.61 348.42a.75 .75 0 1 0 1.5 0a.75 .75 0 1 0-1.5 0M412.61 359.90a.75 .75 0 1 0 1.5 0a.75 .75 0 1 0-1.5 0M412.61 371.39a.75 .75 0 1 0 1.5 0a.75 .75 0 1 0-1.5 0M424.10 72.78a.75 .75 0 1 0 1.5 0a.75 .75 0 1 0-1.5 0M424.10 84.27a.75 .75 0 1 0 1.5 0a.75 .75 0 1 0-1.5 0M424.10 95.75a.75 .75 0 1 0 1.5 0a.75 .75 0 1 0-1.5 0M424.10 107.23a.75 .75 0 1 0 1.5 0a.75 .75 0 1 0-1.5 0M424.10 118.72a.75 .75 0 1 0 1.5 0a.75 .75 0 1 0-1.5 0M424.10 130.20a.75 .75 0 1 0 1.5 0a.75 .75 0 1 0-1.5 0M424.10 141.69a.75 .75 0 1 0 1.5 0a.75 .75 0 1 0-1.5 0M424.10 153.18a.75 .75 0 1 0 1.5 0a.75 .75 0 1 0-1.5 0M424.10 164.66a.75 .75 0 1 0 1.5 0a.75 .75 0 1 0-1.5 0M424.10 176.14a.75 .75 0 1 0 1.5 0a.75 .75 0 1 0-1.5 0M424.10 187.63a.75 .75 0 1 0 1.5 0a.75 .75 0 1 0-1.5 0M424.10 199.12a.75 .75 0 1 0 1.5 0a.75 .75 0 1 0-1.5 0M424.10 210.60a.75 .75 0 1 0 1.5 0a.75 .75 0 1 0-1.5 0M424.10 222.09a.75 .75 0 1 0 1.5 0a.75 .75 0 1 0-1.5 0M424.10 233.57a.75 .75 0 1 0 1.5 0a.75 .75 0 1 0-1.5 0M424.10 245.05a.75 .75 0 1 0 1.5 0a.75 .75 0 1 0-1.5 0M424.10 256.54a.75 .75 0 1 0 1.5 0a.75 .75 0 1 0-1.5 0M424.10 268.02a.75 .75 0 1 0 1.5 0a.75 .75 0 1 0-1.5 0M424.10 279.51a.75 .75 0 1 0 1.5 0a.75 .75 0 1 0-1.5 0M424.10 291.00a.75 .75 0 1 0 1.5 0a.75 .75 0 1 0-1.5 0M424.10 302.48a.75 .75 0 1 0 1.5 0a.75 .75 0 1 0-1.5 0M424.10 313.97a.75 .75 0 1 0 1.5 0a.75 .75 0 1 0-1.5 0M424.10 325.45a.75 .75 0 1 0 1.5 0a.75 .75 0 1 0-1.5 0M424.10 336.93a.75 .75 0 1 0 1.5 0a.75 .75 0 1 0-1.5 0M424.10 348.42a.75 .75 0 1 0 1.5 0a.75 .75 0 1 0-1.5 0M424.10 359.90a.75 .75 0 1 0 1.5 0a.75 .75 0 1 0-1.5 0M424.10 371.39a.75 .75 0 1 0 1.5 0a.75 .75 0 1 0-1.5 0M435.58 72.78a.75 .75 0 1 0 1.5 0a.75 .75 0 1 0-1.5 0M435.58 84.27a.75 .75 0 1 0 1.5 0a.75 .75 0 1 0-1.5 0M435.58 95.75a.75 .75 0 1 0 1.5 0a.75 .75 0 1 0-1.5 0M435.58 107.23a.75 .75 0 1 0 1.5 0a.75 .75 0 1 0-1.5 0M435.58 118.72a.75 .75 0 1 0 1.5 0a.75 .75 0 1 0-1.5 0M435.58 130.20a.75 .75 0 1 0 1.5 0a.75 .75 0 1 0-1.5 0M435.58 141.69a.75 .75 0 1 0 1.5 0a.75 .75 0 1 0-1.5 0M435.58 153.18a.75 .75 0 1 0 1.5 0a.75 .75 0 1 0-1.5 0M435.58 164.66a.75 .75 0 1 0 1.5 0a.75 .75 0 1 0-1.5 0M435.58 176.14a.75 .75 0 1 0 1.5 0a.75 .75 0 1 0-1.5 0M435.58 187.63a.75 .75 0 1 0 1.5 0a.75 .75 0 1 0-1.5 0M435.58 199.12a.75 .75 0 1 0 1.5 0a.75 .75 0 1 0-1.5 0M435.58 210.60a.75 .75 0 1 0 1.5 0a.75 .75 0 1 0-1.5 0M435.58 222.09a.75 .75 0 1 0 1.5 0a.75 .75 0 1 0-1.5 0M435.58 233.57a.75 .75 0 1 0 1.5 0a.75 .75 0 1 0-1.5 0M435.58 245.05a.75 .75 0 1 0 1.5 0a.75 .75 0 1 0-1.5 0M435.58 256.54a.75 .75 0 1 0 1.5 0a.75 .75 0 1 0-1.5 0M435.58 268.02a.75 .75 0 1 0 1.5 0a.75 .75 0 1 0-1.5 0M435.58 279.51a.75 .75 0 1 0 1.5 0a.75 .75 0 1 0-1.5 0M435.58 291.00a.75 .75 0 1 0 1.5 0a.75 .75 0 1 0-1.5 0M435.58 302.48a.75 .75 0 1 0 1.5 0a.75 .75 0 1 0-1.5 0M435.58 313.97a.75 .75 0 1 0 1.5 0a.75 .75 0 1 0-1.5 0M435.58 325.45a.75 .75 0 1 0 1.5 0a.75 .75 0 1 0-1.5 0M435.58 336.93a.75 .75 0 1 0 1.5 0a.75 .75 0 1 0-1.5 0M435.58 348.42a.75 .75 0 1 0 1.5 0a.75 .75 0 1 0-1.5 0M435.58 359.90a.75 .75 0 1 0 1.5 0a.75 .75 0 1 0-1.5 0M435.58 371.39a.75 .75 0 1 0 1.5 0a.75 .75 0 1 0-1.5 0M447.06 72.78a.75 .75 0 1 0 1.5 0a.75 .75 0 1 0-1.5 0M447.06 84.27a.75 .75 0 1 0 1.5 0a.75 .75 0 1 0-1.5 0M447.06 95.75a.75 .75 0 1 0 1.5 0a.75 .75 0 1 0-1.5 0M447.06 107.23a.75 .75 0 1 0 1.5 0a.75 .75 0 1 0-1.5 0M447.06 118.72a.75 .75 0 1 0 1.5 0a.75 .75 0 1 0-1.5 0M447.06 130.20a.75 .75 0 1 0 1.5 0a.75 .75 0 1 0-1.5 0M447.06 141.69a.75 .75 0 1 0 1.5 0a.75 .75 0 1 0-1.5 0M447.06 153.18a.75 .75 0 1 0 1.5 0a.75 .75 0 1 0-1.5 0M447.06 164.66a.75 .75 0 1 0 1.5 0a.75 .75 0 1 0-1.5 0M447.06 176.14a.75 .75 0 1 0 1.5 0a.75 .75 0 1 0-1.5 0M447.06 187.63a.75 .75 0 1 0 1.5 0a.75 .75 0 1 0-1.5 0M447.06 199.12a.75 .75 0 1 0 1.5 0a.75 .75 0 1 0-1.5 0M447.06 210.60a.75 .75 0 1 0 1.5 0a.75 .75 0 1 0-1.5 0M447.06 222.09a.75 .75 0 1 0 1.5 0a.75 .75 0 1 0-1.5 0M447.06 233.57a.75 .75 0 1 0 1.5 0a.75 .75 0 1 0-1.5 0M447.06 245.05a.75 .75 0 1 0 1.5 0a.75 .75 0 1 0-1.5 0M447.06 256.54a.75 .75 0 1 0 1.5 0a.75 .75 0 1 0-1.5 0M447.06 268.02a.75 .75 0 1 0 1.5 0a.75 .75 0 1 0-1.5 0M447.06 279.51a.75 .75 0 1 0 1.5 0a.75 .75 0 1 0-1.5 0M447.06 291.00a.75 .75 0 1 0 1.5 0a.75 .75 0 1 0-1.5 0M447.06 302.48a.75 .75 0 1 0 1.5 0a.75 .75 0 1 0-1.5 0M447.06 313.97a.75 .75 0 1 0 1.5 0a.75 .75 0 1 0-1.5 0M447.06 325.45a.75 .75 0 1 0 1.5 0a.75 .75 0 1 0-1.5 0M447.06 336.93a.75 .75 0 1 0 1.5 0a.75 .75 0 1 0-1.5 0M447.06 348.42a.75 .75 0 1 0 1.5 0a.75 .75 0 1 0-1.5 0M447.06 359.90a.75 .75 0 1 0 1.5 0a.75 .75 0 1 0-1.5 0M447.06 371.39a.75 .75 0 1 0 1.5 0a.75 .75 0 1 0-1.5 0M458.55 72.78a.75 .75 0 1 0 1.5 0a.75 .75 0 1 0-1.5 0M458.55 84.27a.75 .75 0 1 0 1.5 0a.75 .75 0 1 0-1.5 0M458.55 95.75a.75 .75 0 1 0 1.5 0a.75 .75 0 1 0-1.5 0M458.55 107.23a.75 .75 0 1 0 1.5 0a.75 .75 0 1 0-1.5 0M458.55 118.72a.75 .75 0 1 0 1.5 0a.75 .75 0 1 0-1.5 0M458.55 130.20a.75 .75 0 1 0 1.5 0a.75 .75 0 1 0-1.5 0M458.55 141.69a.75 .75 0 1 0 1.5 0a.75 .75 0 1 0-1.5 0M458.55 153.18a.75 .75 0 1 0 1.5 0a.75 .75 0 1 0-1.5 0M458.55 164.66a.75 .75 0 1 0 1.5 0a.75 .75 0 1 0-1.5 0M458.55 176.14a.75 .75 0 1 0 1.5 0a.75 .75 0 1 0-1.5 0M458.55 187.63a.75 .75 0 1 0 1.5 0a.75 .75 0 1 0-1.5 0M458.55 199.12a.75 .75 0 1 0 1.5 0a.75 .75 0 1 0-1.5 0M458.55 210.60a.75 .75 0 1 0 1.5 0a.75 .75 0 1 0-1.5 0M458.55 222.09a.75 .75 0 1 0 1.5 0a.75 .75 0 1 0-1.5 0M458.55 233.57a.75 .75 0 1 0 1.5 0a.75 .75 0 1 0-1.5 0M458.55 245.05a.75 .75 0 1 0 1.5 0a.75 .75 0 1 0-1.5 0M458.55 256.54a.75 .75 0 1 0 1.5 0a.75 .75 0 1 0-1.5 0M458.55 268.02a.75 .75 0 1 0 1.5 0a.75 .75 0 1 0-1.5 0M458.55 279.51a.75 .75 0 1 0 1.5 0a.75 .75 0 1 0-1.5 0M458.55 291.00a.75 .75 0 1 0 1.5 0a.75 .75 0 1 0-1.5 0M458.55 302.48a.75 .75 0 1 0 1.5 0a.75 .75 0 1 0-1.5 0M458.55 313.97a.75 .75 0 1 0 1.5 0a.75 .75 0 1 0-1.5 0M458.55 325.45a.75 .75 0 1 0 1.5 0a.75 .75 0 1 0-1.5 0M458.55 336.93a.75 .75 0 1 0 1.5 0a.75 .75 0 1 0-1.5 0M458.55 348.42a.75 .75 0 1 0 1.5 0a.75 .75 0 1 0-1.5 0M458.55 359.90a.75 .75 0 1 0 1.5 0a.75 .75 0 1 0-1.5 0M458.55 371.39a.75 .75 0 1 0 1.5 0a.75 .75 0 1 0-1.5 0M470.03 72.78a.75 .75 0 1 0 1.5 0a.75 .75 0 1 0-1.5 0M470.03 84.27a.75 .75 0 1 0 1.5 0a.75 .75 0 1 0-1.5 0M470.03 95.75a.75 .75 0 1 0 1.5 0a.75 .75 0 1 0-1.5 0M470.03 107.23a.75 .75 0 1 0 1.5 0a.75 .75 0 1 0-1.5 0M470.03 118.72a.75 .75 0 1 0 1.5 0a.75 .75 0 1 0-1.5 0M470.03 130.20a.75 .75 0 1 0 1.5 0a.75 .75 0 1 0-1.5 0M470.03 141.69a.75 .75 0 1 0 1.5 0a.75 .75 0 1 0-1.5 0M470.03 153.18a.75 .75 0 1 0 1.5 0a.75 .75 0 1 0-1.5 0M470.03 164.66a.75 .75 0 1 0 1.5 0a.75 .75 0 1 0-1.5 0M470.03 176.14a.75 .75 0 1 0 1.5 0a.75 .75 0 1 0-1.5 0M470.03 187.63a.75 .75 0 1 0 1.5 0a.75 .75 0 1 0-1.5 0M470.03 199.12a.75 .75 0 1 0 1.5 0a.75 .75 0 1 0-1.5 0M470.03 210.60a.75 .75 0 1 0 1.5 0a.75 .75 0 1 0-1.5 0M470.03 222.09a.75 .75 0 1 0 1.5 0a.75 .75 0 1 0-1.5 0M470.03 233.57a.75 .75 0 1 0 1.5 0a.75 .75 0 1 0-1.5 0M470.03 245.05a.75 .75 0 1 0 1.5 0a.75 .75 0 1 0-1.5 0M470.03 256.54a.75 .75 0 1 0 1.5 0a.75 .75 0 1 0-1.5 0M470.03 268.02a.75 .75 0 1 0 1.5 0a.75 .75 0 1 0-1.5 0M470.03 279.51a.75 .75 0 1 0 1.5 0a.75 .75 0 1 0-1.5 0M470.03 291.00a.75 .75 0 1 0 1.5 0a.75 .75 0 1 0-1.5 0M470.03 302.48a.75 .75 0 1 0 1.5 0a.75 .75 0 1 0-1.5 0M470.03 313.97a.75 .75 0 1 0 1.5 0a.75 .75 0 1 0-1.5 0M470.03 325.45a.75 .75 0 1 0 1.5 0a.75 .75 0 1 0-1.5 0M470.03 336.93a.75 .75 0 1 0 1.5 0a.75 .75 0 1 0-1.5 0M470.03 348.42a.75 .75 0 1 0 1.5 0a.75 .75 0 1 0-1.5 0M470.03 359.90a.75 .75 0 1 0 1.5 0a.75 .75 0 1 0-1.5 0M470.03 371.39a.75 .75 0 1 0 1.5 0a.75 .75 0 1 0-1.5 0M481.52 72.78a.75 .75 0 1 0 1.5 0a.75 .75 0 1 0-1.5 0M481.52 84.27a.75 .75 0 1 0 1.5 0a.75 .75 0 1 0-1.5 0M481.52 95.75a.75 .75 0 1 0 1.5 0a.75 .75 0 1 0-1.5 0M481.52 107.23a.75 .75 0 1 0 1.5 0a.75 .75 0 1 0-1.5 0M481.52 118.72a.75 .75 0 1 0 1.5 0a.75 .75 0 1 0-1.5 0M481.52 130.20a.75 .75 0 1 0 1.5 0a.75 .75 0 1 0-1.5 0M481.52 141.69a.75 .75 0 1 0 1.5 0a.75 .75 0 1 0-1.5 0M481.52 153.18a.75 .75 0 1 0 1.5 0a.75 .75 0 1 0-1.5 0M481.52 164.66a.75 .75 0 1 0 1.5 0a.75 .75 0 1 0-1.5 0M481.52 176.14a.75 .75 0 1 0 1.5 0a.75 .75 0 1 0-1.5 0M481.52 187.63a.75 .75 0 1 0 1.5 0a.75 .75 0 1 0-1.5 0M481.52 199.12a.75 .75 0 1 0 1.5 0a.75 .75 0 1 0-1.5 0M481.52 210.60a.75 .75 0 1 0 1.5 0a.75 .75 0 1 0-1.5 0M481.52 222.09a.75 .75 0 1 0 1.5 0a.75 .75 0 1 0-1.5 0M481.52 233.57a.75 .75 0 1 0 1.5 0a.75 .75 0 1 0-1.5 0M481.52 245.05a.75 .75 0 1 0 1.5 0a.75 .75 0 1 0-1.5 0M481.52 256.54a.75 .75 0 1 0 1.5 0a.75 .75 0 1 0-1.5 0M481.52 268.02a.75 .75 0 1 0 1.5 0a.75 .75 0 1 0-1.5 0M481.52 279.51a.75 .75 0 1 0 1.5 0a.75 .75 0 1 0-1.5 0M481.52 291.00a.75 .75 0 1 0 1.5 0a.75 .75 0 1 0-1.5 0M481.52 302.48a.75 .75 0 1 0 1.5 0a.75 .75 0 1 0-1.5 0M481.52 313.97a.75 .75 0 1 0 1.5 0a.75 .75 0 1 0-1.5 0M481.52 325.45a.75 .75 0 1 0 1.5 0a.75 .75 0 1 0-1.5 0M481.52 336.93a.75 .75 0 1 0 1.5 0a.75 .75 0 1 0-1.5 0M481.52 348.42a.75 .75 0 1 0 1.5 0a.75 .75 0 1 0-1.5 0M481.52 359.90a.75 .75 0 1 0 1.5 0a.75 .75 0 1 0-1.5 0M481.52 371.39a.75 .75 0 1 0 1.5 0a.75 .75 0 1 0-1.5 0M493.00 72.78a.75 .75 0 1 0 1.5 0a.75 .75 0 1 0-1.5 0M493.00 84.27a.75 .75 0 1 0 1.5 0a.75 .75 0 1 0-1.5 0M493.00 95.75a.75 .75 0 1 0 1.5 0a.75 .75 0 1 0-1.5 0M493.00 107.23a.75 .75 0 1 0 1.5 0a.75 .75 0 1 0-1.5 0M493.00 118.72a.75 .75 0 1 0 1.5 0a.75 .75 0 1 0-1.5 0M493.00 130.20a.75 .75 0 1 0 1.5 0a.75 .75 0 1 0-1.5 0M493.00 141.69a.75 .75 0 1 0 1.5 0a.75 .75 0 1 0-1.5 0M493.00 153.18a.75 .75 0 1 0 1.5 0a.75 .75 0 1 0-1.5 0M493.00 164.66a.75 .75 0 1 0 1.5 0a.75 .75 0 1 0-1.5 0M493.00 176.14a.75 .75 0 1 0 1.5 0a.75 .75 0 1 0-1.5 0M493.00 187.63a.75 .75 0 1 0 1.5 0a.75 .75 0 1 0-1.5 0M493.00 199.12a.75 .75 0 1 0 1.5 0a.75 .75 0 1 0-1.5 0M493.00 210.60a.75 .75 0 1 0 1.5 0a.75 .75 0 1 0-1.5 0M493.00 222.09a.75 .75 0 1 0 1.5 0a.75 .75 0 1 0-1.5 0M493.00 233.57a.75 .75 0 1 0 1.5 0a.75 .75 0 1 0-1.5 0M493.00 245.05a.75 .75 0 1 0 1.5 0a.75 .75 0 1 0-1.5 0M493.00 256.54a.75 .75 0 1 0 1.5 0a.75 .75 0 1 0-1.5 0M493.00 268.02a.75 .75 0 1 0 1.5 0a.75 .75 0 1 0-1.5 0M493.00 279.51a.75 .75 0 1 0 1.5 0a.75 .75 0 1 0-1.5 0M493.00 291.00a.75 .75 0 1 0 1.5 0a.75 .75 0 1 0-1.5 0M493.00 302.48a.75 .75 0 1 0 1.5 0a.75 .75 0 1 0-1.5 0M493.00 313.97a.75 .75 0 1 0 1.5 0a.75 .75 0 1 0-1.5 0M493.00 325.45a.75 .75 0 1 0 1.5 0a.75 .75 0 1 0-1.5 0M493.00 336.93a.75 .75 0 1 0 1.5 0a.75 .75 0 1 0-1.5 0M493.00 348.42a.75 .75 0 1 0 1.5 0a.75 .75 0 1 0-1.5 0M493.00 359.90a.75 .75 0 1 0 1.5 0a.75 .75 0 1 0-1.5 0M493.00 371.39a.75 .75 0 1 0 1.5 0a.75 .75 0 1 0-1.5 0M504.49 72.78a.75 .75 0 1 0 1.5 0a.75 .75 0 1 0-1.5 0M504.49 84.27a.75 .75 0 1 0 1.5 0a.75 .75 0 1 0-1.5 0M504.49 95.75a.75 .75 0 1 0 1.5 0a.75 .75 0 1 0-1.5 0M504.49 107.23a.75 .75 0 1 0 1.5 0a.75 .75 0 1 0-1.5 0M504.49 118.72a.75 .75 0 1 0 1.5 0a.75 .75 0 1 0-1.5 0M504.49 130.20a.75 .75 0 1 0 1.5 0a.75 .75 0 1 0-1.5 0M504.49 141.69a.75 .75 0 1 0 1.5 0a.75 .75 0 1 0-1.5 0M504.49 153.18a.75 .75 0 1 0 1.5 0a.75 .75 0 1 0-1.5 0M504.49 164.66a.75 .75 0 1 0 1.5 0a.75 .75 0 1 0-1.5 0M504.49 176.14a.75 .75 0 1 0 1.5 0a.75 .75 0 1 0-1.5 0M504.49 187.63a.75 .75 0 1 0 1.5 0a.75 .75 0 1 0-1.5 0M504.49 199.12a.75 .75 0 1 0 1.5 0a.75 .75 0 1 0-1.5 0M504.49 210.60a.75 .75 0 1 0 1.5 0a.75 .75 0 1 0-1.5 0M504.49 222.09a.75 .75 0 1 0 1.5 0a.75 .75 0 1 0-1.5 0M504.49 233.57a.75 .75 0 1 0 1.5 0a.75 .75 0 1 0-1.5 0M504.49 245.05a.75 .75 0 1 0 1.5 0a.75 .75 0 1 0-1.5 0M504.49 256.54a.75 .75 0 1 0 1.5 0a.75 .75 0 1 0-1.5 0M504.49 268.02a.75 .75 0 1 0 1.5 0a.75 .75 0 1 0-1.5 0M504.49 279.51a.75 .75 0 1 0 1.5 0a.75 .75 0 1 0-1.5 0M504.49 291.00a.75 .75 0 1 0 1.5 0a.75 .75 0 1 0-1.5 0M504.49 302.48a.75 .75 0 1 0 1.5 0a.75 .75 0 1 0-1.5 0M504.49 313.97a.75 .75 0 1 0 1.5 0a.75 .75 0 1 0-1.5 0M504.49 325.45a.75 .75 0 1 0 1.5 0a.75 .75 0 1 0-1.5 0M504.49 336.93a.75 .75 0 1 0 1.5 0a.75 .75 0 1 0-1.5 0M504.49 348.42a.75 .75 0 1 0 1.5 0a.75 .75 0 1 0-1.5 0M504.49 359.90a.75 .75 0 1 0 1.5 0a.75 .75 0 1 0-1.5 0M504.49 371.39a.75 .75 0 1 0 1.5 0a.75 .75 0 1 0-1.5 0M515.98 72.78a.75 .75 0 1 0 1.5 0a.75 .75 0 1 0-1.5 0M515.98 84.27a.75 .75 0 1 0 1.5 0a.75 .75 0 1 0-1.5 0M515.98 95.75a.75 .75 0 1 0 1.5 0a.75 .75 0 1 0-1.5 0M515.98 107.23a.75 .75 0 1 0 1.5 0a.75 .75 0 1 0-1.5 0M515.98 118.72a.75 .75 0 1 0 1.5 0a.75 .75 0 1 0-1.5 0M515.98 130.20a.75 .75 0 1 0 1.5 0a.75 .75 0 1 0-1.5 0M515.98 141.69a.75 .75 0 1 0 1.5 0a.75 .75 0 1 0-1.5 0M515.98 153.18a.75 .75 0 1 0 1.5 0a.75 .75 0 1 0-1.5 0M515.98 164.66a.75 .75 0 1 0 1.5 0a.75 .75 0 1 0-1.5 0M515.98 176.14a.75 .75 0 1 0 1.5 0a.75 .75 0 1 0-1.5 0M515.98 187.63a.75 .75 0 1 0 1.5 0a.75 .75 0 1 0-1.5 0M515.98 199.12a.75 .75 0 1 0 1.5 0a.75 .75 0 1 0-1.5 0M515.98 210.60a.75 .75 0 1 0 1.5 0a.75 .75 0 1 0-1.5 0M515.98 222.09a.75 .75 0 1 0 1.5 0a.75 .75 0 1 0-1.5 0M515.98 233.57a.75 .75 0 1 0 1.5 0a.75 .75 0 1 0-1.5 0M515.98 245.05a.75 .75 0 1 0 1.5 0a.75 .75 0 1 0-1.5 0M515.98 256.54a.75 .75 0 1 0 1.5 0a.75 .75 0 1 0-1.5 0M515.98 268.02a.75 .75 0 1 0 1.5 0a.75 .75 0 1 0-1.5 0M515.98 279.51a.75 .75 0 1 0 1.5 0a.75 .75 0 1 0-1.5 0M515.98 291.00a.75 .75 0 1 0 1.5 0a.75 .75 0 1 0-1.5 0M515.98 302.48a.75 .75 0 1 0 1.5 0a.75 .75 0 1 0-1.5 0M515.98 313.97a.75 .75 0 1 0 1.5 0a.75 .75 0 1 0-1.5 0M515.98 325.45a.75 .75 0 1 0 1.5 0a.75 .75 0 1 0-1.5 0M515.98 336.93a.75 .75 0 1 0 1.5 0a.75 .75 0 1 0-1.5 0M515.98 348.42a.75 .75 0 1 0 1.5 0a.75 .75 0 1 0-1.5 0M515.98 359.90a.75 .75 0 1 0 1.5 0a.75 .75 0 1 0-1.5 0M515.98 371.39a.75 .75 0 1 0 1.5 0a.75 .75 0 1 0-1.5 0M527.46 72.78a.75 .75 0 1 0 1.5 0a.75 .75 0 1 0-1.5 0M527.46 84.27a.75 .75 0 1 0 1.5 0a.75 .75 0 1 0-1.5 0M527.46 95.75a.75 .75 0 1 0 1.5 0a.75 .75 0 1 0-1.5 0M527.46 107.23a.75 .75 0 1 0 1.5 0a.75 .75 0 1 0-1.5 0M527.46 118.72a.75 .75 0 1 0 1.5 0a.75 .75 0 1 0-1.5 0M527.46 130.20a.75 .75 0 1 0 1.5 0a.75 .75 0 1 0-1.5 0M527.46 141.69a.75 .75 0 1 0 1.5 0a.75 .75 0 1 0-1.5 0M527.46 153.18a.75 .75 0 1 0 1.5 0a.75 .75 0 1 0-1.5 0M527.46 164.66a.75 .75 0 1 0 1.5 0a.75 .75 0 1 0-1.5 0M527.46 176.14a.75 .75 0 1 0 1.5 0a.75 .75 0 1 0-1.5 0M527.46 187.63a.75 .75 0 1 0 1.5 0a.75 .75 0 1 0-1.5 0M527.46 199.12a.75 .75 0 1 0 1.5 0a.75 .75 0 1 0-1.5 0M527.46 210.60a.75 .75 0 1 0 1.5 0a.75 .75 0 1 0-1.5 0M527.46 222.09a.75 .75 0 1 0 1.5 0a.75 .75 0 1 0-1.5 0M527.46 233.57a.75 .75 0 1 0 1.5 0a.75 .75 0 1 0-1.5 0M527.46 245.05a.75 .75 0 1 0 1.5 0a.75 .75 0 1 0-1.5 0M527.46 256.54a.75 .75 0 1 0 1.5 0a.75 .75 0 1 0-1.5 0M527.46 268.02a.75 .75 0 1 0 1.5 0a.75 .75 0 1 0-1.5 0M527.46 279.51a.75 .75 0 1 0 1.5 0a.75 .75 0 1 0-1.5 0M527.46 291.00a.75 .75 0 1 0 1.5 0a.75 .75 0 1 0-1.5 0M527.46 302.48a.75 .75 0 1 0 1.5 0a.75 .75 0 1 0-1.5 0M527.46 313.97a.75 .75 0 1 0 1.5 0a.75 .75 0 1 0-1.5 0M527.46 325.45a.75 .75 0 1 0 1.5 0a.75 .75 0 1 0-1.5 0M527.46 336.93a.75 .75 0 1 0 1.5 0a.75 .75 0 1 0-1.5 0M527.46 348.42a.75 .75 0 1 0 1.5 0a.75 .75 0 1 0-1.5 0M527.46 359.90a.75 .75 0 1 0 1.5 0a.75 .75 0 1 0-1.5 0M527.46 371.39a.75 .75 0 1 0 1.5 0a.75 .75 0 1 0-1.5 0M538.94 72.78a.75 .75 0 1 0 1.5 0a.75 .75 0 1 0-1.5 0M538.94 84.27a.75 .75 0 1 0 1.5 0a.75 .75 0 1 0-1.5 0M538.94 95.75a.75 .75 0 1 0 1.5 0a.75 .75 0 1 0-1.5 0M538.94 107.23a.75 .75 0 1 0 1.5 0a.75 .75 0 1 0-1.5 0M538.94 118.72a.75 .75 0 1 0 1.5 0a.75 .75 0 1 0-1.5 0M538.94 130.20a.75 .75 0 1 0 1.5 0a.75 .75 0 1 0-1.5 0M538.94 141.69a.75 .75 0 1 0 1.5 0a.75 .75 0 1 0-1.5 0M538.94 153.18a.75 .75 0 1 0 1.5 0a.75 .75 0 1 0-1.5 0M538.94 164.66a.75 .75 0 1 0 1.5 0a.75 .75 0 1 0-1.5 0M538.94 176.14a.75 .75 0 1 0 1.5 0a.75 .75 0 1 0-1.5 0M538.94 187.63a.75 .75 0 1 0 1.5 0a.75 .75 0 1 0-1.5 0M538.94 199.12a.75 .75 0 1 0 1.5 0a.75 .75 0 1 0-1.5 0M538.94 210.60a.75 .75 0 1 0 1.5 0a.75 .75 0 1 0-1.5 0M538.94 222.09a.75 .75 0 1 0 1.5 0a.75 .75 0 1 0-1.5 0M538.94 233.57a.75 .75 0 1 0 1.5 0a.75 .75 0 1 0-1.5 0M538.94 245.05a.75 .75 0 1 0 1.5 0a.75 .75 0 1 0-1.5 0M538.94 256.54a.75 .75 0 1 0 1.5 0a.75 .75 0 1 0-1.5 0M538.94 268.02a.75 .75 0 1 0 1.5 0a.75 .75 0 1 0-1.5 0M538.94 279.51a.75 .75 0 1 0 1.5 0a.75 .75 0 1 0-1.5 0M538.94 291.00a.75 .75 0 1 0 1.5 0a.75 .75 0 1 0-1.5 0M538.94 302.48a.75 .75 0 1 0 1.5 0a.75 .75 0 1 0-1.5 0M538.94 313.97a.75 .75 0 1 0 1.5 0a.75 .75 0 1 0-1.5 0M538.94 325.45a.75 .75 0 1 0 1.5 0a.75 .75 0 1 0-1.5 0M538.94 336.93a.75 .75 0 1 0 1.5 0a.75 .75 0 1 0-1.5 0M538.94 348.42a.75 .75 0 1 0 1.5 0a.75 .75 0 1 0-1.5 0M538.94 359.90a.75 .75 0 1 0 1.5 0a.75 .75 0 1 0-1.5 0M538.94 371.39a.75 .75 0 1 0 1.5 0a.75 .75 0 1 0-1.5 0M550.43 72.78a.75 .75 0 1 0 1.5 0a.75 .75 0 1 0-1.5 0M550.43 84.27a.75 .75 0 1 0 1.5 0a.75 .75 0 1 0-1.5 0M550.43 95.75a.75 .75 0 1 0 1.5 0a.75 .75 0 1 0-1.5 0M550.43 107.23a.75 .75 0 1 0 1.5 0a.75 .75 0 1 0-1.5 0M550.43 118.72a.75 .75 0 1 0 1.5 0a.75 .75 0 1 0-1.5 0M550.43 130.20a.75 .75 0 1 0 1.5 0a.75 .75 0 1 0-1.5 0M550.43 141.69a.75 .75 0 1 0 1.5 0a.75 .75 0 1 0-1.5 0M550.43 153.18a.75 .75 0 1 0 1.5 0a.75 .75 0 1 0-1.5 0M550.43 164.66a.75 .75 0 1 0 1.5 0a.75 .75 0 1 0-1.5 0M550.43 176.14a.75 .75 0 1 0 1.5 0a.75 .75 0 1 0-1.5 0M550.43 187.63a.75 .75 0 1 0 1.5 0a.75 .75 0 1 0-1.5 0M550.43 199.12a.75 .75 0 1 0 1.5 0a.75 .75 0 1 0-1.5 0M550.43 210.60a.75 .75 0 1 0 1.5 0a.75 .75 0 1 0-1.5 0M550.43 222.09a.75 .75 0 1 0 1.5 0a.75 .75 0 1 0-1.5 0M550.43 233.57a.75 .75 0 1 0 1.5 0a.75 .75 0 1 0-1.5 0M550.43 245.05a.75 .75 0 1 0 1.5 0a.75 .75 0 1 0-1.5 0M550.43 256.54a.75 .75 0 1 0 1.5 0a.75 .75 0 1 0-1.5 0M550.43 268.02a.75 .75 0 1 0 1.5 0a.75 .75 0 1 0-1.5 0M550.43 279.51a.75 .75 0 1 0 1.5 0a.75 .75 0 1 0-1.5 0M550.43 291.00a.75 .75 0 1 0 1.5 0a.75 .75 0 1 0-1.5 0M550.43 302.48a.75 .75 0 1 0 1.5 0a.75 .75 0 1 0-1.5 0M550.43 313.97a.75 .75 0 1 0 1.5 0a.75 .75 0 1 0-1.5 0M550.43 325.45a.75 .75 0 1 0 1.5 0a.75 .75 0 1 0-1.5 0M550.43 336.93a.75 .75 0 1 0 1.5 0a.75 .75 0 1 0-1.5 0M550.43 348.42a.75 .75 0 1 0 1.5 0a.75 .75 0 1 0-1.5 0M550.43 359.90a.75 .75 0 1 0 1.5 0a.75 .75 0 1 0-1.5 0M550.43 371.39a.75 .75 0 1 0 1.5 0a.75 .75 0 1 0-1.5 0M561.91 72.78a.75 .75 0 1 0 1.5 0a.75 .75 0 1 0-1.5 0M561.91 84.27a.75 .75 0 1 0 1.5 0a.75 .75 0 1 0-1.5 0M561.91 95.75a.75 .75 0 1 0 1.5 0a.75 .75 0 1 0-1.5 0M561.91 107.23a.75 .75 0 1 0 1.5 0a.75 .75 0 1 0-1.5 0M561.91 118.72a.75 .75 0 1 0 1.5 0a.75 .75 0 1 0-1.5 0M561.91 130.20a.75 .75 0 1 0 1.5 0a.75 .75 0 1 0-1.5 0M561.91 141.69a.75 .75 0 1 0 1.5 0a.75 .75 0 1 0-1.5 0M561.91 153.18a.75 .75 0 1 0 1.5 0a.75 .75 0 1 0-1.5 0M561.91 164.66a.75 .75 0 1 0 1.5 0a.75 .75 0 1 0-1.5 0M561.91 176.14a.75 .75 0 1 0 1.5 0a.75 .75 0 1 0-1.5 0M561.91 187.63a.75 .75 0 1 0 1.5 0a.75 .75 0 1 0-1.5 0M561.91 199.12a.75 .75 0 1 0 1.5 0a.75 .75 0 1 0-1.5 0M561.91 210.60a.75 .75 0 1 0 1.5 0a.75 .75 0 1 0-1.5 0M561.91 222.09a.75 .75 0 1 0 1.5 0a.75 .75 0 1 0-1.5 0M561.91 233.57a.75 .75 0 1 0 1.5 0a.75 .75 0 1 0-1.5 0M561.91 245.05a.75 .75 0 1 0 1.5 0a.75 .75 0 1 0-1.5 0M561.91 256.54a.75 .75 0 1 0 1.5 0a.75 .75 0 1 0-1.5 0M561.91 268.02a.75 .75 0 1 0 1.5 0a.75 .75 0 1 0-1.5 0M561.91 279.51a.75 .75 0 1 0 1.5 0a.75 .75 0 1 0-1.5 0M561.91 291.00a.75 .75 0 1 0 1.5 0a.75 .75 0 1 0-1.5 0M561.91 302.48a.75 .75 0 1 0 1.5 0a.75 .75 0 1 0-1.5 0M561.91 313.97a.75 .75 0 1 0 1.5 0a.75 .75 0 1 0-1.5 0M561.91 325.45a.75 .75 0 1 0 1.5 0a.75 .75 0 1 0-1.5 0M561.91 336.93a.75 .75 0 1 0 1.5 0a.75 .75 0 1 0-1.5 0M561.91 348.42a.75 .75 0 1 0 1.5 0a.75 .75 0 1 0-1.5 0M561.91 359.90a.75 .75 0 1 0 1.5 0a.75 .75 0 1 0-1.5 0M561.91 371.39a.75 .75 0 1 0 1.5 0a.75 .75 0 1 0-1.5 0M573.40 72.78a.75 .75 0 1 0 1.5 0a.75 .75 0 1 0-1.5 0M573.40 84.27a.75 .75 0 1 0 1.5 0a.75 .75 0 1 0-1.5 0M573.40 95.75a.75 .75 0 1 0 1.5 0a.75 .75 0 1 0-1.5 0M573.40 107.23a.75 .75 0 1 0 1.5 0a.75 .75 0 1 0-1.5 0M573.40 118.72a.75 .75 0 1 0 1.5 0a.75 .75 0 1 0-1.5 0M573.40 130.20a.75 .75 0 1 0 1.5 0a.75 .75 0 1 0-1.5 0M573.40 141.69a.75 .75 0 1 0 1.5 0a.75 .75 0 1 0-1.5 0M573.40 153.18a.75 .75 0 1 0 1.5 0a.75 .75 0 1 0-1.5 0M573.40 164.66a.75 .75 0 1 0 1.5 0a.75 .75 0 1 0-1.5 0M573.40 176.14a.75 .75 0 1 0 1.5 0a.75 .75 0 1 0-1.5 0M573.40 187.63a.75 .75 0 1 0 1.5 0a.75 .75 0 1 0-1.5 0M573.40 199.12a.75 .75 0 1 0 1.5 0a.75 .75 0 1 0-1.5 0M573.40 210.60a.75 .75 0 1 0 1.5 0a.75 .75 0 1 0-1.5 0M573.40 222.09a.75 .75 0 1 0 1.5 0a.75 .75 0 1 0-1.5 0M573.40 233.57a.75 .75 0 1 0 1.5 0a.75 .75 0 1 0-1.5 0M573.40 245.05a.75 .75 0 1 0 1.5 0a.75 .75 0 1 0-1.5 0M573.40 256.54a.75 .75 0 1 0 1.5 0a.75 .75 0 1 0-1.5 0M573.40 268.02a.75 .75 0 1 0 1.5 0a.75 .75 0 1 0-1.5 0M573.40 279.51a.75 .75 0 1 0 1.5 0a.75 .75 0 1 0-1.5 0M573.40 291.00a.75 .75 0 1 0 1.5 0a.75 .75 0 1 0-1.5 0M573.40 302.48a.75 .75 0 1 0 1.5 0a.75 .75 0 1 0-1.5 0M573.40 313.97a.75 .75 0 1 0 1.5 0a.75 .75 0 1 0-1.5 0M573.40 325.45a.75 .75 0 1 0 1.5 0a.75 .75 0 1 0-1.5 0M573.40 336.93a.75 .75 0 1 0 1.5 0a.75 .75 0 1 0-1.5 0M573.40 348.42a.75 .75 0 1 0 1.5 0a.75 .75 0 1 0-1.5 0M573.40 359.90a.75 .75 0 1 0 1.5 0a.75 .75 0 1 0-1.5 0M573.40 371.39a.75 .75 0 1 0 1.5 0a.75 .75 0 1 0-1.5 0M584.88 72.78a.75 .75 0 1 0 1.5 0a.75 .75 0 1 0-1.5 0M584.88 84.27a.75 .75 0 1 0 1.5 0a.75 .75 0 1 0-1.5 0M584.88 95.75a.75 .75 0 1 0 1.5 0a.75 .75 0 1 0-1.5 0M584.88 107.23a.75 .75 0 1 0 1.5 0a.75 .75 0 1 0-1.5 0M584.88 118.72a.75 .75 0 1 0 1.5 0a.75 .75 0 1 0-1.5 0M584.88 130.20a.75 .75 0 1 0 1.5 0a.75 .75 0 1 0-1.5 0M584.88 141.69a.75 .75 0 1 0 1.5 0a.75 .75 0 1 0-1.5 0M584.88 153.18a.75 .75 0 1 0 1.5 0a.75 .75 0 1 0-1.5 0M584.88 164.66a.75 .75 0 1 0 1.5 0a.75 .75 0 1 0-1.5 0M584.88 176.14a.75 .75 0 1 0 1.5 0a.75 .75 0 1 0-1.5 0M584.88 187.63a.75 .75 0 1 0 1.5 0a.75 .75 0 1 0-1.5 0M584.88 199.12a.75 .75 0 1 0 1.5 0a.75 .75 0 1 0-1.5 0M584.88 210.60a.75 .75 0 1 0 1.5 0a.75 .75 0 1 0-1.5 0M584.88 222.09a.75 .75 0 1 0 1.5 0a.75 .75 0 1 0-1.5 0M584.88 233.57a.75 .75 0 1 0 1.5 0a.75 .75 0 1 0-1.5 0M584.88 245.05a.75 .75 0 1 0 1.5 0a.75 .75 0 1 0-1.5 0M584.88 256.54a.75 .75 0 1 0 1.5 0a.75 .75 0 1 0-1.5 0M584.88 268.02a.75 .75 0 1 0 1.5 0a.75 .75 0 1 0-1.5 0M584.88 279.51a.75 .75 0 1 0 1.5 0a.75 .75 0 1 0-1.5 0M584.88 291.00a.75 .75 0 1 0 1.5 0a.75 .75 0 1 0-1.5 0M584.88 302.48a.75 .75 0 1 0 1.5 0a.75 .75 0 1 0-1.5 0M584.88 313.97a.75 .75 0 1 0 1.5 0a.75 .75 0 1 0-1.5 0M584.88 325.45a.75 .75 0 1 0 1.5 0a.75 .75 0 1 0-1.5 0M584.88 336.93a.75 .75 0 1 0 1.5 0a.75 .75 0 1 0-1.5 0M584.88 348.42a.75 .75 0 1 0 1.5 0a.75 .75 0 1 0-1.5 0M584.88 359.90a.75 .75 0 1 0 1.5 0a.75 .75 0 1 0-1.5 0M584.88 371.39a.75 .75 0 1 0 1.5 0a.75 .75 0 1 0-1.5 0M596.37 72.78a.75 .75 0 1 0 1.5 0a.75 .75 0 1 0-1.5 0M596.37 84.27a.75 .75 0 1 0 1.5 0a.75 .75 0 1 0-1.5 0M596.37 95.75a.75 .75 0 1 0 1.5 0a.75 .75 0 1 0-1.5 0M596.37 107.23a.75 .75 0 1 0 1.5 0a.75 .75 0 1 0-1.5 0M596.37 118.72a.75 .75 0 1 0 1.5 0a.75 .75 0 1 0-1.5 0M596.37 130.20a.75 .75 0 1 0 1.5 0a.75 .75 0 1 0-1.5 0M596.37 141.69a.75 .75 0 1 0 1.5 0a.75 .75 0 1 0-1.5 0M596.37 153.18a.75 .75 0 1 0 1.5 0a.75 .75 0 1 0-1.5 0M596.37 164.66a.75 .75 0 1 0 1.5 0a.75 .75 0 1 0-1.5 0M596.37 176.14a.75 .75 0 1 0 1.5 0a.75 .75 0 1 0-1.5 0M596.37 187.63a.75 .75 0 1 0 1.5 0a.75 .75 0 1 0-1.5 0M596.37 199.12a.75 .75 0 1 0 1.5 0a.75 .75 0 1 0-1.5 0M596.37 210.60a.75 .75 0 1 0 1.5 0a.75 .75 0 1 0-1.5 0M596.37 222.09a.75 .75 0 1 0 1.5 0a.75 .75 0 1 0-1.5 0M596.37 233.57a.75 .75 0 1 0 1.5 0a.75 .75 0 1 0-1.5 0M596.37 245.05a.75 .75 0 1 0 1.5 0a.75 .75 0 1 0-1.5 0M596.37 256.54a.75 .75 0 1 0 1.5 0a.75 .75 0 1 0-1.5 0M596.37 268.02a.75 .75 0 1 0 1.5 0a.75 .75 0 1 0-1.5 0M596.37 279.51a.75 .75 0 1 0 1.5 0a.75 .75 0 1 0-1.5 0M596.37 291.00a.75 .75 0 1 0 1.5 0a.75 .75 0 1 0-1.5 0M596.37 302.48a.75 .75 0 1 0 1.5 0a.75 .75 0 1 0-1.5 0M596.37 313.97a.75 .75 0 1 0 1.5 0a.75 .75 0 1 0-1.5 0M596.37 325.45a.75 .75 0 1 0 1.5 0a.75 .75 0 1 0-1.5 0M596.37 336.93a.75 .75 0 1 0 1.5 0a.75 .75 0 1 0-1.5 0M596.37 348.42a.75 .75 0 1 0 1.5 0a.75 .75 0 1 0-1.5 0M596.37 359.90a.75 .75 0 1 0 1.5 0a.75 .75 0 1 0-1.5 0M596.37 371.39a.75 .75 0 1 0 1.5 0a.75 .75 0 1 0-1.5 0M607.86 72.78a.75 .75 0 1 0 1.5 0a.75 .75 0 1 0-1.5 0M607.86 84.27a.75 .75 0 1 0 1.5 0a.75 .75 0 1 0-1.5 0M607.86 95.75a.75 .75 0 1 0 1.5 0a.75 .75 0 1 0-1.5 0M607.86 107.23a.75 .75 0 1 0 1.5 0a.75 .75 0 1 0-1.5 0M607.86 118.72a.75 .75 0 1 0 1.5 0a.75 .75 0 1 0-1.5 0M607.86 130.20a.75 .75 0 1 0 1.5 0a.75 .75 0 1 0-1.5 0M607.86 141.69a.75 .75 0 1 0 1.5 0a.75 .75 0 1 0-1.5 0M607.86 153.18a.75 .75 0 1 0 1.5 0a.75 .75 0 1 0-1.5 0M607.86 164.66a.75 .75 0 1 0 1.5 0a.75 .75 0 1 0-1.5 0M607.86 176.14a.75 .75 0 1 0 1.5 0a.75 .75 0 1 0-1.5 0M607.86 187.63a.75 .75 0 1 0 1.5 0a.75 .75 0 1 0-1.5 0M607.86 199.12a.75 .75 0 1 0 1.5 0a.75 .75 0 1 0-1.5 0M607.86 210.60a.75 .75 0 1 0 1.5 0a.75 .75 0 1 0-1.5 0M607.86 222.09a.75 .75 0 1 0 1.5 0a.75 .75 0 1 0-1.5 0M607.86 233.57a.75 .75 0 1 0 1.5 0a.75 .75 0 1 0-1.5 0M607.86 245.05a.75 .75 0 1 0 1.5 0a.75 .75 0 1 0-1.5 0M607.86 256.54a.75 .75 0 1 0 1.5 0a.75 .75 0 1 0-1.5 0M607.86 268.02a.75 .75 0 1 0 1.5 0a.75 .75 0 1 0-1.5 0M607.86 279.51a.75 .75 0 1 0 1.5 0a.75 .75 0 1 0-1.5 0M607.86 291.00a.75 .75 0 1 0 1.5 0a.75 .75 0 1 0-1.5 0M607.86 302.48a.75 .75 0 1 0 1.5 0a.75 .75 0 1 0-1.5 0M607.86 313.97a.75 .75 0 1 0 1.5 0a.75 .75 0 1 0-1.5 0M607.86 325.45a.75 .75 0 1 0 1.5 0a.75 .75 0 1 0-1.5 0M607.86 336.93a.75 .75 0 1 0 1.5 0a.75 .75 0 1 0-1.5 0M607.86 348.42a.75 .75 0 1 0 1.5 0a.75 .75 0 1 0-1.5 0M607.86 359.90a.75 .75 0 1 0 1.5 0a.75 .75 0 1 0-1.5 0M607.86 371.39a.75 .75 0 1 0 1.5 0a.75 .75 0 1 0-1.5 0M619.34 72.78a.75 .75 0 1 0 1.5 0a.75 .75 0 1 0-1.5 0M619.34 84.27a.75 .75 0 1 0 1.5 0a.75 .75 0 1 0-1.5 0M619.34 95.75a.75 .75 0 1 0 1.5 0a.75 .75 0 1 0-1.5 0M619.34 107.23a.75 .75 0 1 0 1.5 0a.75 .75 0 1 0-1.5 0M619.34 118.72a.75 .75 0 1 0 1.5 0a.75 .75 0 1 0-1.5 0M619.34 130.20a.75 .75 0 1 0 1.5 0a.75 .75 0 1 0-1.5 0M619.34 141.69a.75 .75 0 1 0 1.5 0a.75 .75 0 1 0-1.5 0M619.34 153.18a.75 .75 0 1 0 1.5 0a.75 .75 0 1 0-1.5 0M619.34 164.66a.75 .75 0 1 0 1.5 0a.75 .75 0 1 0-1.5 0M619.34 176.14a.75 .75 0 1 0 1.5 0a.75 .75 0 1 0-1.5 0M619.34 187.63a.75 .75 0 1 0 1.5 0a.75 .75 0 1 0-1.5 0M619.34 199.12a.75 .75 0 1 0 1.5 0a.75 .75 0 1 0-1.5 0M619.34 210.60a.75 .75 0 1 0 1.5 0a.75 .75 0 1 0-1.5 0M619.34 222.09a.75 .75 0 1 0 1.5 0a.75 .75 0 1 0-1.5 0M619.34 233.57a.75 .75 0 1 0 1.5 0a.75 .75 0 1 0-1.5 0M619.34 245.05a.75 .75 0 1 0 1.5 0a.75 .75 0 1 0-1.5 0M619.34 256.54a.75 .75 0 1 0 1.5 0a.75 .75 0 1 0-1.5 0M619.34 268.02a.75 .75 0 1 0 1.5 0a.75 .75 0 1 0-1.5 0M619.34 279.51a.75 .75 0 1 0 1.5 0a.75 .75 0 1 0-1.5 0M619.34 291.00a.75 .75 0 1 0 1.5 0a.75 .75 0 1 0-1.5 0M619.34 302.48a.75 .75 0 1 0 1.5 0a.75 .75 0 1 0-1.5 0M619.34 313.97a.75 .75 0 1 0 1.5 0a.75 .75 0 1 0-1.5 0M619.34 325.45a.75 .75 0 1 0 1.5 0a.75 .75 0 1 0-1.5 0M619.34 336.93a.75 .75 0 1 0 1.5 0a.75 .75 0 1 0-1.5 0M619.34 348.42a.75 .75 0 1 0 1.5 0a.75 .75 0 1 0-1.5 0M619.34 359.90a.75 .75 0 1 0 1.5 0a.75 .75 0 1 0-1.5 0M619.34 371.39a.75 .75 0 1 0 1.5 0a.75 .75 0 1 0-1.5 0M630.83 72.78a.75 .75 0 1 0 1.5 0a.75 .75 0 1 0-1.5 0M630.83 84.27a.75 .75 0 1 0 1.5 0a.75 .75 0 1 0-1.5 0M630.83 95.75a.75 .75 0 1 0 1.5 0a.75 .75 0 1 0-1.5 0M630.83 107.23a.75 .75 0 1 0 1.5 0a.75 .75 0 1 0-1.5 0M630.83 118.72a.75 .75 0 1 0 1.5 0a.75 .75 0 1 0-1.5 0M630.83 130.20a.75 .75 0 1 0 1.5 0a.75 .75 0 1 0-1.5 0M630.83 141.69a.75 .75 0 1 0 1.5 0a.75 .75 0 1 0-1.5 0M630.83 153.18a.75 .75 0 1 0 1.5 0a.75 .75 0 1 0-1.5 0M630.83 164.66a.75 .75 0 1 0 1.5 0a.75 .75 0 1 0-1.5 0M630.83 176.14a.75 .75 0 1 0 1.5 0a.75 .75 0 1 0-1.5 0M630.83 187.63a.75 .75 0 1 0 1.5 0a.75 .75 0 1 0-1.5 0M630.83 199.12a.75 .75 0 1 0 1.5 0a.75 .75 0 1 0-1.5 0M630.83 210.60a.75 .75 0 1 0 1.5 0a.75 .75 0 1 0-1.5 0M630.83 222.09a.75 .75 0 1 0 1.5 0a.75 .75 0 1 0-1.5 0M630.83 233.57a.75 .75 0 1 0 1.5 0a.75 .75 0 1 0-1.5 0M630.83 245.05a.75 .75 0 1 0 1.5 0a.75 .75 0 1 0-1.5 0M630.83 256.54a.75 .75 0 1 0 1.5 0a.75 .75 0 1 0-1.5 0M630.83 268.02a.75 .75 0 1 0 1.5 0a.75 .75 0 1 0-1.5 0M630.83 279.51a.75 .75 0 1 0 1.5 0a.75 .75 0 1 0-1.5 0M630.83 291.00a.75 .75 0 1 0 1.5 0a.75 .75 0 1 0-1.5 0M630.83 302.48a.75 .75 0 1 0 1.5 0a.75 .75 0 1 0-1.5 0M630.83 313.97a.75 .75 0 1 0 1.5 0a.75 .75 0 1 0-1.5 0M630.83 325.45a.75 .75 0 1 0 1.5 0a.75 .75 0 1 0-1.5 0M630.83 336.93a.75 .75 0 1 0 1.5 0a.75 .75 0 1 0-1.5 0M630.83 348.42a.75 .75 0 1 0 1.5 0a.75 .75 0 1 0-1.5 0M630.83 359.90a.75 .75 0 1 0 1.5 0a.75 .75 0 1 0-1.5 0M630.83 371.39a.75 .75 0 1 0 1.5 0a.75 .75 0 1 0-1.5 0M642.31 72.78a.75 .75 0 1 0 1.5 0a.75 .75 0 1 0-1.5 0M642.31 84.27a.75 .75 0 1 0 1.5 0a.75 .75 0 1 0-1.5 0M642.31 95.75a.75 .75 0 1 0 1.5 0a.75 .75 0 1 0-1.5 0M642.31 107.23a.75 .75 0 1 0 1.5 0a.75 .75 0 1 0-1.5 0M642.31 118.72a.75 .75 0 1 0 1.5 0a.75 .75 0 1 0-1.5 0M642.31 130.20a.75 .75 0 1 0 1.5 0a.75 .75 0 1 0-1.5 0M642.31 141.69a.75 .75 0 1 0 1.5 0a.75 .75 0 1 0-1.5 0M642.31 153.18a.75 .75 0 1 0 1.5 0a.75 .75 0 1 0-1.5 0M642.31 164.66a.75 .75 0 1 0 1.5 0a.75 .75 0 1 0-1.5 0M642.31 176.14a.75 .75 0 1 0 1.5 0a.75 .75 0 1 0-1.5 0M642.31 187.63a.75 .75 0 1 0 1.5 0a.75 .75 0 1 0-1.5 0M642.31 199.12a.75 .75 0 1 0 1.5 0a.75 .75 0 1 0-1.5 0M642.31 210.60a.75 .75 0 1 0 1.5 0a.75 .75 0 1 0-1.5 0M642.31 222.09a.75 .75 0 1 0 1.5 0a.75 .75 0 1 0-1.5 0M642.31 233.57a.75 .75 0 1 0 1.5 0a.75 .75 0 1 0-1.5 0M642.31 245.05a.75 .75 0 1 0 1.5 0a.75 .75 0 1 0-1.5 0M642.31 256.54a.75 .75 0 1 0 1.5 0a.75 .75 0 1 0-1.5 0M642.31 268.02a.75 .75 0 1 0 1.5 0a.75 .75 0 1 0-1.5 0M642.31 279.51a.75 .75 0 1 0 1.5 0a.75 .75 0 1 0-1.5 0M642.31 291.00a.75 .75 0 1 0 1.5 0a.75 .75 0 1 0-1.5 0M642.31 302.48a.75 .75 0 1 0 1.5 0a.75 .75 0 1 0-1.5 0M642.31 313.97a.75 .75 0 1 0 1.5 0a.75 .75 0 1 0-1.5 0M642.31 325.45a.75 .75 0 1 0 1.5 0a.75 .75 0 1 0-1.5 0M642.31 336.93a.75 .75 0 1 0 1.5 0a.75 .75 0 1 0-1.5 0M642.31 348.42a.75 .75 0 1 0 1.5 0a.75 .75 0 1 0-1.5 0M642.31 359.90a.75 .75 0 1 0 1.5 0a.75 .75 0 1 0-1.5 0M642.31 371.39a.75 .75 0 1 0 1.5 0a.75 .75 0 1 0-1.5 0M653.79 72.78a.75 .75 0 1 0 1.5 0a.75 .75 0 1 0-1.5 0M653.79 84.27a.75 .75 0 1 0 1.5 0a.75 .75 0 1 0-1.5 0M653.79 95.75a.75 .75 0 1 0 1.5 0a.75 .75 0 1 0-1.5 0M653.79 107.23a.75 .75 0 1 0 1.5 0a.75 .75 0 1 0-1.5 0M653.79 118.72a.75 .75 0 1 0 1.5 0a.75 .75 0 1 0-1.5 0M653.79 130.20a.75 .75 0 1 0 1.5 0a.75 .75 0 1 0-1.5 0M653.79 141.69a.75 .75 0 1 0 1.5 0a.75 .75 0 1 0-1.5 0M653.79 153.18a.75 .75 0 1 0 1.5 0a.75 .75 0 1 0-1.5 0M653.79 164.66a.75 .75 0 1 0 1.5 0a.75 .75 0 1 0-1.5 0M653.79 176.14a.75 .75 0 1 0 1.5 0a.75 .75 0 1 0-1.5 0M653.79 187.63a.75 .75 0 1 0 1.5 0a.75 .75 0 1 0-1.5 0M653.79 199.12a.75 .75 0 1 0 1.5 0a.75 .75 0 1 0-1.5 0M653.79 210.60a.75 .75 0 1 0 1.5 0a.75 .75 0 1 0-1.5 0M653.79 222.09a.75 .75 0 1 0 1.5 0a.75 .75 0 1 0-1.5 0M653.79 233.57a.75 .75 0 1 0 1.5 0a.75 .75 0 1 0-1.5 0M653.79 245.05a.75 .75 0 1 0 1.5 0a.75 .75 0 1 0-1.5 0M653.79 256.54a.75 .75 0 1 0 1.5 0a.75 .75 0 1 0-1.5 0M653.79 268.02a.75 .75 0 1 0 1.5 0a.75 .75 0 1 0-1.5 0M653.79 279.51a.75 .75 0 1 0 1.5 0a.75 .75 0 1 0-1.5 0M653.79 291.00a.75 .75 0 1 0 1.5 0a.75 .75 0 1 0-1.5 0M653.79 302.48a.75 .75 0 1 0 1.5 0a.75 .75 0 1 0-1.5 0M653.79 313.97a.75 .75 0 1 0 1.5 0a.75 .75 0 1 0-1.5 0M653.79 325.45a.75 .75 0 1 0 1.5 0a.75 .75 0 1 0-1.5 0M653.79 336.93a.75 .75 0 1 0 1.5 0a.75 .75 0 1 0-1.5 0M653.79 348.42a.75 .75 0 1 0 1.5 0a.75 .75 0 1 0-1.5 0M653.79 359.90a.75 .75 0 1 0 1.5 0a.75 .75 0 1 0-1.5 0M653.79 371.39a.75 .75 0 1 0 1.5 0a.75 .75 0 1 0-1.5 0M665.28 72.78a.75 .75 0 1 0 1.5 0a.75 .75 0 1 0-1.5 0M665.28 84.27a.75 .75 0 1 0 1.5 0a.75 .75 0 1 0-1.5 0M665.28 95.75a.75 .75 0 1 0 1.5 0a.75 .75 0 1 0-1.5 0M665.28 107.23a.75 .75 0 1 0 1.5 0a.75 .75 0 1 0-1.5 0M665.28 118.72a.75 .75 0 1 0 1.5 0a.75 .75 0 1 0-1.5 0M665.28 130.20a.75 .75 0 1 0 1.5 0a.75 .75 0 1 0-1.5 0M665.28 141.69a.75 .75 0 1 0 1.5 0a.75 .75 0 1 0-1.5 0M665.28 153.18a.75 .75 0 1 0 1.5 0a.75 .75 0 1 0-1.5 0M665.28 164.66a.75 .75 0 1 0 1.5 0a.75 .75 0 1 0-1.5 0M665.28 176.14a.75 .75 0 1 0 1.5 0a.75 .75 0 1 0-1.5 0M665.28 187.63a.75 .75 0 1 0 1.5 0a.75 .75 0 1 0-1.5 0M665.28 199.12a.75 .75 0 1 0 1.5 0a.75 .75 0 1 0-1.5 0M665.28 210.60a.75 .75 0 1 0 1.5 0a.75 .75 0 1 0-1.5 0M665.28 222.09a.75 .75 0 1 0 1.5 0a.75 .75 0 1 0-1.5 0M665.28 233.57a.75 .75 0 1 0 1.5 0a.75 .75 0 1 0-1.5 0M665.28 245.05a.75 .75 0 1 0 1.5 0a.75 .75 0 1 0-1.5 0M665.28 256.54a.75 .75 0 1 0 1.5 0a.75 .75 0 1 0-1.5 0M665.28 268.02a.75 .75 0 1 0 1.5 0a.75 .75 0 1 0-1.5 0M665.28 279.51a.75 .75 0 1 0 1.5 0a.75 .75 0 1 0-1.5 0M665.28 291.00a.75 .75 0 1 0 1.5 0a.75 .75 0 1 0-1.5 0M665.28 302.48a.75 .75 0 1 0 1.5 0a.75 .75 0 1 0-1.5 0M665.28 313.97a.75 .75 0 1 0 1.5 0a.75 .75 0 1 0-1.5 0M665.28 325.45a.75 .75 0 1 0 1.5 0a.75 .75 0 1 0-1.5 0M665.28 336.93a.75 .75 0 1 0 1.5 0a.75 .75 0 1 0-1.5 0M665.28 348.42a.75 .75 0 1 0 1.5 0a.75 .75 0 1 0-1.5 0M665.28 359.90a.75 .75 0 1 0 1.5 0a.75 .75 0 1 0-1.5 0M665.28 371.39a.75 .75 0 1 0 1.5 0a.75 .75 0 1 0-1.5 0M676.76 72.78a.75 .75 0 1 0 1.5 0a.75 .75 0 1 0-1.5 0M676.76 84.27a.75 .75 0 1 0 1.5 0a.75 .75 0 1 0-1.5 0M676.76 95.75a.75 .75 0 1 0 1.5 0a.75 .75 0 1 0-1.5 0M676.76 107.23a.75 .75 0 1 0 1.5 0a.75 .75 0 1 0-1.5 0M676.76 118.72a.75 .75 0 1 0 1.5 0a.75 .75 0 1 0-1.5 0M676.76 130.20a.75 .75 0 1 0 1.5 0a.75 .75 0 1 0-1.5 0M676.76 141.69a.75 .75 0 1 0 1.5 0a.75 .75 0 1 0-1.5 0M676.76 153.18a.75 .75 0 1 0 1.5 0a.75 .75 0 1 0-1.5 0M676.76 164.66a.75 .75 0 1 0 1.5 0a.75 .75 0 1 0-1.5 0M676.76 176.14a.75 .75 0 1 0 1.5 0a.75 .75 0 1 0-1.5 0M676.76 187.63a.75 .75 0 1 0 1.5 0a.75 .75 0 1 0-1.5 0M676.76 199.12a.75 .75 0 1 0 1.5 0a.75 .75 0 1 0-1.5 0M676.76 210.60a.75 .75 0 1 0 1.5 0a.75 .75 0 1 0-1.5 0M676.76 222.09a.75 .75 0 1 0 1.5 0a.75 .75 0 1 0-1.5 0M676.76 233.57a.75 .75 0 1 0 1.5 0a.75 .75 0 1 0-1.5 0M676.76 245.05a.75 .75 0 1 0 1.5 0a.75 .75 0 1 0-1.5 0M676.76 256.54a.75 .75 0 1 0 1.5 0a.75 .75 0 1 0-1.5 0M676.76 268.02a.75 .75 0 1 0 1.5 0a.75 .75 0 1 0-1.5 0M676.76 279.51a.75 .75 0 1 0 1.5 0a.75 .75 0 1 0-1.5 0M676.76 291.00a.75 .75 0 1 0 1.5 0a.75 .75 0 1 0-1.5 0M676.76 302.48a.75 .75 0 1 0 1.5 0a.75 .75 0 1 0-1.5 0M676.76 313.97a.75 .75 0 1 0 1.5 0a.75 .75 0 1 0-1.5 0M676.76 325.45a.75 .75 0 1 0 1.5 0a.75 .75 0 1 0-1.5 0M676.76 336.93a.75 .75 0 1 0 1.5 0a.75 .75 0 1 0-1.5 0M676.76 348.42a.75 .75 0 1 0 1.5 0a.75 .75 0 1 0-1.5 0M676.76 359.90a.75 .75 0 1 0 1.5 0a.75 .75 0 1 0-1.5 0M676.76 371.39a.75 .75 0 1 0 1.5 0a.75 .75 0 1 0-1.5 0M688.25 72.78a.75 .75 0 1 0 1.5 0a.75 .75 0 1 0-1.5 0M688.25 84.27a.75 .75 0 1 0 1.5 0a.75 .75 0 1 0-1.5 0M688.25 95.75a.75 .75 0 1 0 1.5 0a.75 .75 0 1 0-1.5 0M688.25 107.23a.75 .75 0 1 0 1.5 0a.75 .75 0 1 0-1.5 0M688.25 118.72a.75 .75 0 1 0 1.5 0a.75 .75 0 1 0-1.5 0M688.25 130.20a.75 .75 0 1 0 1.5 0a.75 .75 0 1 0-1.5 0M688.25 141.69a.75 .75 0 1 0 1.5 0a.75 .75 0 1 0-1.5 0M688.25 153.18a.75 .75 0 1 0 1.5 0a.75 .75 0 1 0-1.5 0M688.25 164.66a.75 .75 0 1 0 1.5 0a.75 .75 0 1 0-1.5 0M688.25 176.14a.75 .75 0 1 0 1.5 0a.75 .75 0 1 0-1.5 0M688.25 187.63a.75 .75 0 1 0 1.5 0a.75 .75 0 1 0-1.5 0M688.25 199.12a.75 .75 0 1 0 1.5 0a.75 .75 0 1 0-1.5 0M688.25 210.60a.75 .75 0 1 0 1.5 0a.75 .75 0 1 0-1.5 0M688.25 222.09a.75 .75 0 1 0 1.5 0a.75 .75 0 1 0-1.5 0M688.25 233.57a.75 .75 0 1 0 1.5 0a.75 .75 0 1 0-1.5 0M688.25 245.05a.75 .75 0 1 0 1.5 0a.75 .75 0 1 0-1.5 0M688.25 256.54a.75 .75 0 1 0 1.5 0a.75 .75 0 1 0-1.5 0M688.25 268.02a.75 .75 0 1 0 1.5 0a.75 .75 0 1 0-1.5 0M688.25 279.51a.75 .75 0 1 0 1.5 0a.75 .75 0 1 0-1.5 0M688.25 291.00a.75 .75 0 1 0 1.5 0a.75 .75 0 1 0-1.5 0M688.25 302.48a.75 .75 0 1 0 1.5 0a.75 .75 0 1 0-1.5 0M688.25 313.97a.75 .75 0 1 0 1.5 0a.75 .75 0 1 0-1.5 0M688.25 325.45a.75 .75 0 1 0 1.5 0a.75 .75 0 1 0-1.5 0M688.25 336.93a.75 .75 0 1 0 1.5 0a.75 .75 0 1 0-1.5 0M688.25 348.42a.75 .75 0 1 0 1.5 0a.75 .75 0 1 0-1.5 0M688.25 359.90a.75 .75 0 1 0 1.5 0a.75 .75 0 1 0-1.5 0M688.25 371.39a.75 .75 0 1 0 1.5 0a.75 .75 0 1 0-1.5 0M699.74 72.78a.75 .75 0 1 0 1.5 0a.75 .75 0 1 0-1.5 0M699.74 84.27a.75 .75 0 1 0 1.5 0a.75 .75 0 1 0-1.5 0M699.74 95.75a.75 .75 0 1 0 1.5 0a.75 .75 0 1 0-1.5 0M699.74 107.23a.75 .75 0 1 0 1.5 0a.75 .75 0 1 0-1.5 0M699.74 118.72a.75 .75 0 1 0 1.5 0a.75 .75 0 1 0-1.5 0M699.74 130.20a.75 .75 0 1 0 1.5 0a.75 .75 0 1 0-1.5 0M699.74 141.69a.75 .75 0 1 0 1.5 0a.75 .75 0 1 0-1.5 0M699.74 153.18a.75 .75 0 1 0 1.5 0a.75 .75 0 1 0-1.5 0M699.74 164.66a.75 .75 0 1 0 1.5 0a.75 .75 0 1 0-1.5 0M699.74 176.14a.75 .75 0 1 0 1.5 0a.75 .75 0 1 0-1.5 0M699.74 187.63a.75 .75 0 1 0 1.5 0a.75 .75 0 1 0-1.5 0M699.74 199.12a.75 .75 0 1 0 1.5 0a.75 .75 0 1 0-1.5 0M699.74 210.60a.75 .75 0 1 0 1.5 0a.75 .75 0 1 0-1.5 0M699.74 222.09a.75 .75 0 1 0 1.5 0a.75 .75 0 1 0-1.5 0M699.74 233.57a.75 .75 0 1 0 1.5 0a.75 .75 0 1 0-1.5 0M699.74 245.05a.75 .75 0 1 0 1.5 0a.75 .75 0 1 0-1.5 0M699.74 256.54a.75 .75 0 1 0 1.5 0a.75 .75 0 1 0-1.5 0M699.74 268.02a.75 .75 0 1 0 1.5 0a.75 .75 0 1 0-1.5 0M699.74 279.51a.75 .75 0 1 0 1.5 0a.75 .75 0 1 0-1.5 0M699.74 291.00a.75 .75 0 1 0 1.5 0a.75 .75 0 1 0-1.5 0M699.74 302.48a.75 .75 0 1 0 1.5 0a.75 .75 0 1 0-1.5 0M699.74 313.97a.75 .75 0 1 0 1.5 0a.75 .75 0 1 0-1.5 0M699.74 325.45a.75 .75 0 1 0 1.5 0a.75 .75 0 1 0-1.5 0M699.74 336.93a.75 .75 0 1 0 1.5 0a.75 .75 0 1 0-1.5 0M699.74 348.42a.75 .75 0 1 0 1.5 0a.75 .75 0 1 0-1.5 0M699.74 359.90a.75 .75 0 1 0 1.5 0a.75 .75 0 1 0-1.5 0M699.74 371.39a.75 .75 0 1 0 1.5 0a.75 .75 0 1 0-1.5 0M711.22 72.78a.75 .75 0 1 0 1.5 0a.75 .75 0 1 0-1.5 0M711.22 84.27a.75 .75 0 1 0 1.5 0a.75 .75 0 1 0-1.5 0M711.22 95.75a.75 .75 0 1 0 1.5 0a.75 .75 0 1 0-1.5 0M711.22 107.23a.75 .75 0 1 0 1.5 0a.75 .75 0 1 0-1.5 0M711.22 118.72a.75 .75 0 1 0 1.5 0a.75 .75 0 1 0-1.5 0M711.22 130.20a.75 .75 0 1 0 1.5 0a.75 .75 0 1 0-1.5 0M711.22 141.69a.75 .75 0 1 0 1.5 0a.75 .75 0 1 0-1.5 0M711.22 153.18a.75 .75 0 1 0 1.5 0a.75 .75 0 1 0-1.5 0M711.22 164.66a.75 .75 0 1 0 1.5 0a.75 .75 0 1 0-1.5 0M711.22 176.14a.75 .75 0 1 0 1.5 0a.75 .75 0 1 0-1.5 0M711.22 187.63a.75 .75 0 1 0 1.5 0a.75 .75 0 1 0-1.5 0M711.22 199.12a.75 .75 0 1 0 1.5 0a.75 .75 0 1 0-1.5 0M711.22 210.60a.75 .75 0 1 0 1.5 0a.75 .75 0 1 0-1.5 0M711.22 222.09a.75 .75 0 1 0 1.5 0a.75 .75 0 1 0-1.5 0M711.22 233.57a.75 .75 0 1 0 1.5 0a.75 .75 0 1 0-1.5 0M711.22 245.05a.75 .75 0 1 0 1.5 0a.75 .75 0 1 0-1.5 0M711.22 256.54a.75 .75 0 1 0 1.5 0a.75 .75 0 1 0-1.5 0M711.22 268.02a.75 .75 0 1 0 1.5 0a.75 .75 0 1 0-1.5 0M711.22 279.51a.75 .75 0 1 0 1.5 0a.75 .75 0 1 0-1.5 0M711.22 291.00a.75 .75 0 1 0 1.5 0a.75 .75 0 1 0-1.5 0M711.22 302.48a.75 .75 0 1 0 1.5 0a.75 .75 0 1 0-1.5 0M711.22 313.97a.75 .75 0 1 0 1.5 0a.75 .75 0 1 0-1.5 0M711.22 325.45a.75 .75 0 1 0 1.5 0a.75 .75 0 1 0-1.5 0M711.22 336.93a.75 .75 0 1 0 1.5 0a.75 .75 0 1 0-1.5 0M711.22 348.42a.75 .75 0 1 0 1.5 0a.75 .75 0 1 0-1.5 0M711.22 359.90a.75 .75 0 1 0 1.5 0a.75 .75 0 1 0-1.5 0M711.22 371.39a.75 .75 0 1 0 1.5 0a.75 .75 0 1 0-1.5 0"/></svg><div id="shadow"></div></div>

<svg id="edges" width="742" height="428" viewBox="0 0 742 428">
<g fill="none" stroke="#b8bbbf" stroke-width="1.1">
<path d="M186 119.0 L250 119.0"/>
<path d="M182.5 189.0 L250.5 189.0"/>
<path d="M359 119.0 C391.8 119.0 391.8 154.0 424.6 154.0"/>
<path d="M356.5 189.0 C390.5 189.0 390.5 154.0 424.6 154.0"/>
<path d="M354 259.0 L424.6 259.0"/>
<path d="M354 329.0 L424.6 329.0"/>
<path d="M537.3 154.0 C567.8 154.0 567.8 259.0 598.3 259.0"/>
<path d="M531 259.0 L598.3 259.0"/>
<path d="M531 329.0 C564.6 329.0 564.6 259.0 598.3 259.0"/>
</g>
<g fill="none" stroke="#b4b7bb" stroke-width="1.1" stroke-linejoin="round" stroke-linecap="round">
<path d="M245.9 116.1 L249.5 119.0 L245.9 121.9"/>
<path d="M245.9 186.1 L249.5 189.0 L245.9 191.9"/>
<path d="M420.2 151.1 L423.8 154.0 L420.2 156.9"/>
<path d="M420.2 256.1 L423.8 259.0 L420.2 261.9"/>
<path d="M420.2 326.1 L423.8 329.0 L420.2 331.9"/>
<path d="M593.9 256.1 L597.5 259.0 L593.9 261.9"/>
</g>
<g fill="#fff" stroke="#bcbec2" stroke-width="1.3">
<rect x="77.6" y="90.1" width="108.40" height="52.90" rx="3.6"/>
<rect x="250.3" y="90.1" width="108.30" height="52.90" rx="3.6"/>
<rect x="77.6" y="160.25" width="104.70" height="52.85" rx="3.6"/>
<rect x="250.3" y="160.25" width="106.00" height="52.85" rx="3.6"/>
<rect x="424.6" y="125.5" width="112.40" height="52.70" rx="3.6"/>
<rect x="250.3" y="230.4" width="103.40" height="52.80" rx="3.6"/>
<rect x="424.6" y="230.4" width="106.20" height="52.80" rx="3.6"/>
<rect x="598.3" y="230.4" width="105.90" height="52.80" rx="3.6"/>
<rect x="250.3" y="300.6" width="103.40" height="52.80" rx="3.6"/>
<rect x="424.6" y="300.6" width="106.20" height="52.80" rx="3.6"/>
</g>
</svg>

<div class="badge src" style="left:88px;top:104px"><svg class="ic" style="left:9px;top:4px" width="10" height="10" viewBox="0 0 10 10"><g fill="none" stroke="currentColor" stroke-width="1"><rect x="1.5" y="0.5" width="7" height="8" rx="1.6" ry="1.4"/><path d="M1.5 2.5 Q5 3.1 8.5 2.5"/><path d="M1.5 4.5 Q5 5.1 8.5 4.5"/><path d="M1.5 6.5 Q5 7.1 8.5 6.5"/></g></svg><div class="t">SRC</div></div><div class="lbl" style="left:124px;top:111px;transform:translateX(-0.60px) scaleX(0.881)">raw.wizards</div>
<div class="badge mdl" style="left:261px;top:104px"><svg class="ic" style="left:8.6px;top:3.6px" width="10.2" height="10.2" viewBox="0 0 24 24"><g fill="none" stroke="currentColor" stroke-width="2.0" stroke-linejoin="round" stroke-linecap="round"><path d="M21 16V8a2 2 0 0 0-1-1.73l-7-4a2 2 0 0 0-2 0l-7 4A2 2 0 0 0 3 8v8a2 2 0 0 0 1 1.73l7 4a2 2 0 0 0 2 0l7-4A2 2 0 0 0 21 16z"/><path d="M3.3 7 12 12l8.7-5"/><path d="M12 22V12"/></g></svg><div class="t">MDL</div></div><div class="lbl" style="left:297px;top:111px;transform:translateX(-1.20px) scaleX(0.880)">stg_wizards</div>
<div class="badge src" style="left:88px;top:174px"><svg class="ic" style="left:9px;top:4px" width="10" height="10" viewBox="0 0 10 10"><g fill="none" stroke="currentColor" stroke-width="1"><rect x="1.5" y="0.5" width="7" height="8" rx="1.6" ry="1.4"/><path d="M1.5 2.5 Q5 3.1 8.5 2.5"/><path d="M1.5 4.5 Q5 5.1 8.5 4.5"/><path d="M1.5 6.5 Q5 7.1 8.5 6.5"/></g></svg><div class="t">SRC</div></div><div class="lbl" style="left:124px;top:181px;transform:translateX(-0.60px) scaleX(0.900)">raw.worlds</div>
<div class="badge mdl" style="left:261px;top:174px"><svg class="ic" style="left:8.6px;top:3.6px" width="10.2" height="10.2" viewBox="0 0 24 24"><g fill="none" stroke="currentColor" stroke-width="2.0" stroke-linejoin="round" stroke-linecap="round"><path d="M21 16V8a2 2 0 0 0-1-1.73l-7-4a2 2 0 0 0-2 0l-7 4A2 2 0 0 0 3 8v8a2 2 0 0 0 1 1.73l7 4a2 2 0 0 0 2 0l7-4A2 2 0 0 0 21 16z"/><path d="M3.3 7 12 12l8.7-5"/><path d="M12 22V12"/></g></svg><div class="t">MDL</div></div><div class="lbl" style="left:297px;top:181px;transform:translateX(-1.20px) scaleX(0.895)">stg_worlds</div>
<div class="badge mdl" style="left:435px;top:139px"><svg class="ic" style="left:8.6px;top:3.6px" width="10.2" height="10.2" viewBox="0 0 24 24"><g fill="none" stroke="currentColor" stroke-width="2.0" stroke-linejoin="round" stroke-linecap="round"><path d="M21 16V8a2 2 0 0 0-1-1.73l-7-4a2 2 0 0 0-2 0l-7 4A2 2 0 0 0 3 8v8a2 2 0 0 0 1 1.73l7 4a2 2 0 0 0 2 0l7-4A2 2 0 0 0 21 16z"/><path d="M3.3 7 12 12l8.7-5"/><path d="M12 22V12"/></g></svg><div class="t">MDL</div></div><div class="lbl" style="left:471px;top:146px;transform:translateX(-0.50px) scaleX(0.884)">dim_wizards</div>
<div class="badge src" style="left:261px;top:244px"><svg class="ic" style="left:9px;top:4px" width="10" height="10" viewBox="0 0 10 10"><g fill="none" stroke="currentColor" stroke-width="1"><rect x="1.5" y="0.5" width="7" height="8" rx="1.6" ry="1.4"/><path d="M1.5 2.5 Q5 3.1 8.5 2.5"/><path d="M1.5 4.5 Q5 5.1 8.5 4.5"/><path d="M1.5 6.5 Q5 7.1 8.5 6.5"/></g></svg><div class="t">SRC</div></div><div class="lbl" style="left:297px;top:251px;transform:translateX(-1.20px) scaleX(0.898)">raw.orders</div>
<div class="badge mdl" style="left:435px;top:244px"><svg class="ic" style="left:8.6px;top:3.6px" width="10.2" height="10.2" viewBox="0 0 24 24"><g fill="none" stroke="currentColor" stroke-width="2.0" stroke-linejoin="round" stroke-linecap="round"><path d="M21 16V8a2 2 0 0 0-1-1.73l-7-4a2 2 0 0 0-2 0l-7 4A2 2 0 0 0 3 8v8a2 2 0 0 0 1 1.73l7 4a2 2 0 0 0 2 0l7-4A2 2 0 0 0 21 16z"/><path d="M3.3 7 12 12l8.7-5"/><path d="M12 22V12"/></g></svg><div class="t">MDL</div></div><div class="lbl" style="left:471px;top:251px;transform:translateX(-0.50px) scaleX(0.881)">stg_orders</div>
<div class="badge mdl" style="left:609px;top:244px"><svg class="ic" style="left:8.6px;top:3.6px" width="10.2" height="10.2" viewBox="0 0 24 24"><g fill="none" stroke="currentColor" stroke-width="2.0" stroke-linejoin="round" stroke-linecap="round"><path d="M21 16V8a2 2 0 0 0-1-1.73l-7-4a2 2 0 0 0-2 0l-7 4A2 2 0 0 0 3 8v8a2 2 0 0 0 1 1.73l7 4a2 2 0 0 0 2 0l7-4A2 2 0 0 0 21 16z"/><path d="M3.3 7 12 12l8.7-5"/><path d="M12 22V12"/></g></svg><div class="t">MDL</div></div><div class="lbl" style="left:645px;top:251px;transform:translateX(-1.40px) scaleX(0.897)">fct_orders</div>
<div class="badge src" style="left:261px;top:314px"><svg class="ic" style="left:9px;top:4px" width="10" height="10" viewBox="0 0 10 10"><g fill="none" stroke="currentColor" stroke-width="1"><rect x="1.5" y="0.5" width="7" height="8" rx="1.6" ry="1.4"/><path d="M1.5 2.5 Q5 3.1 8.5 2.5"/><path d="M1.5 4.5 Q5 5.1 8.5 4.5"/><path d="M1.5 6.5 Q5 7.1 8.5 6.5"/></g></svg><div class="t">SRC</div></div><div class="lbl" style="left:297px;top:322px;transform:translateX(-1.20px) scaleX(0.890)">raw.wands</div>
<div class="badge mdl" style="left:435px;top:314px"><svg class="ic" style="left:8.6px;top:3.6px" width="10.2" height="10.2" viewBox="0 0 24 24"><g fill="none" stroke="currentColor" stroke-width="2.0" stroke-linejoin="round" stroke-linecap="round"><path d="M21 16V8a2 2 0 0 0-1-1.73l-7-4a2 2 0 0 0-2 0l-7 4A2 2 0 0 0 3 8v8a2 2 0 0 0 1 1.73l7 4a2 2 0 0 0 2 0l7-4A2 2 0 0 0 21 16z"/><path d="M3.3 7 12 12l8.7-5"/><path d="M12 22V12"/></g></svg><div class="t">MDL</div></div><div class="lbl" style="left:471px;top:322px;transform:translateX(-0.60px) scaleX(0.878)">stg_wands</div>
</body></html>
